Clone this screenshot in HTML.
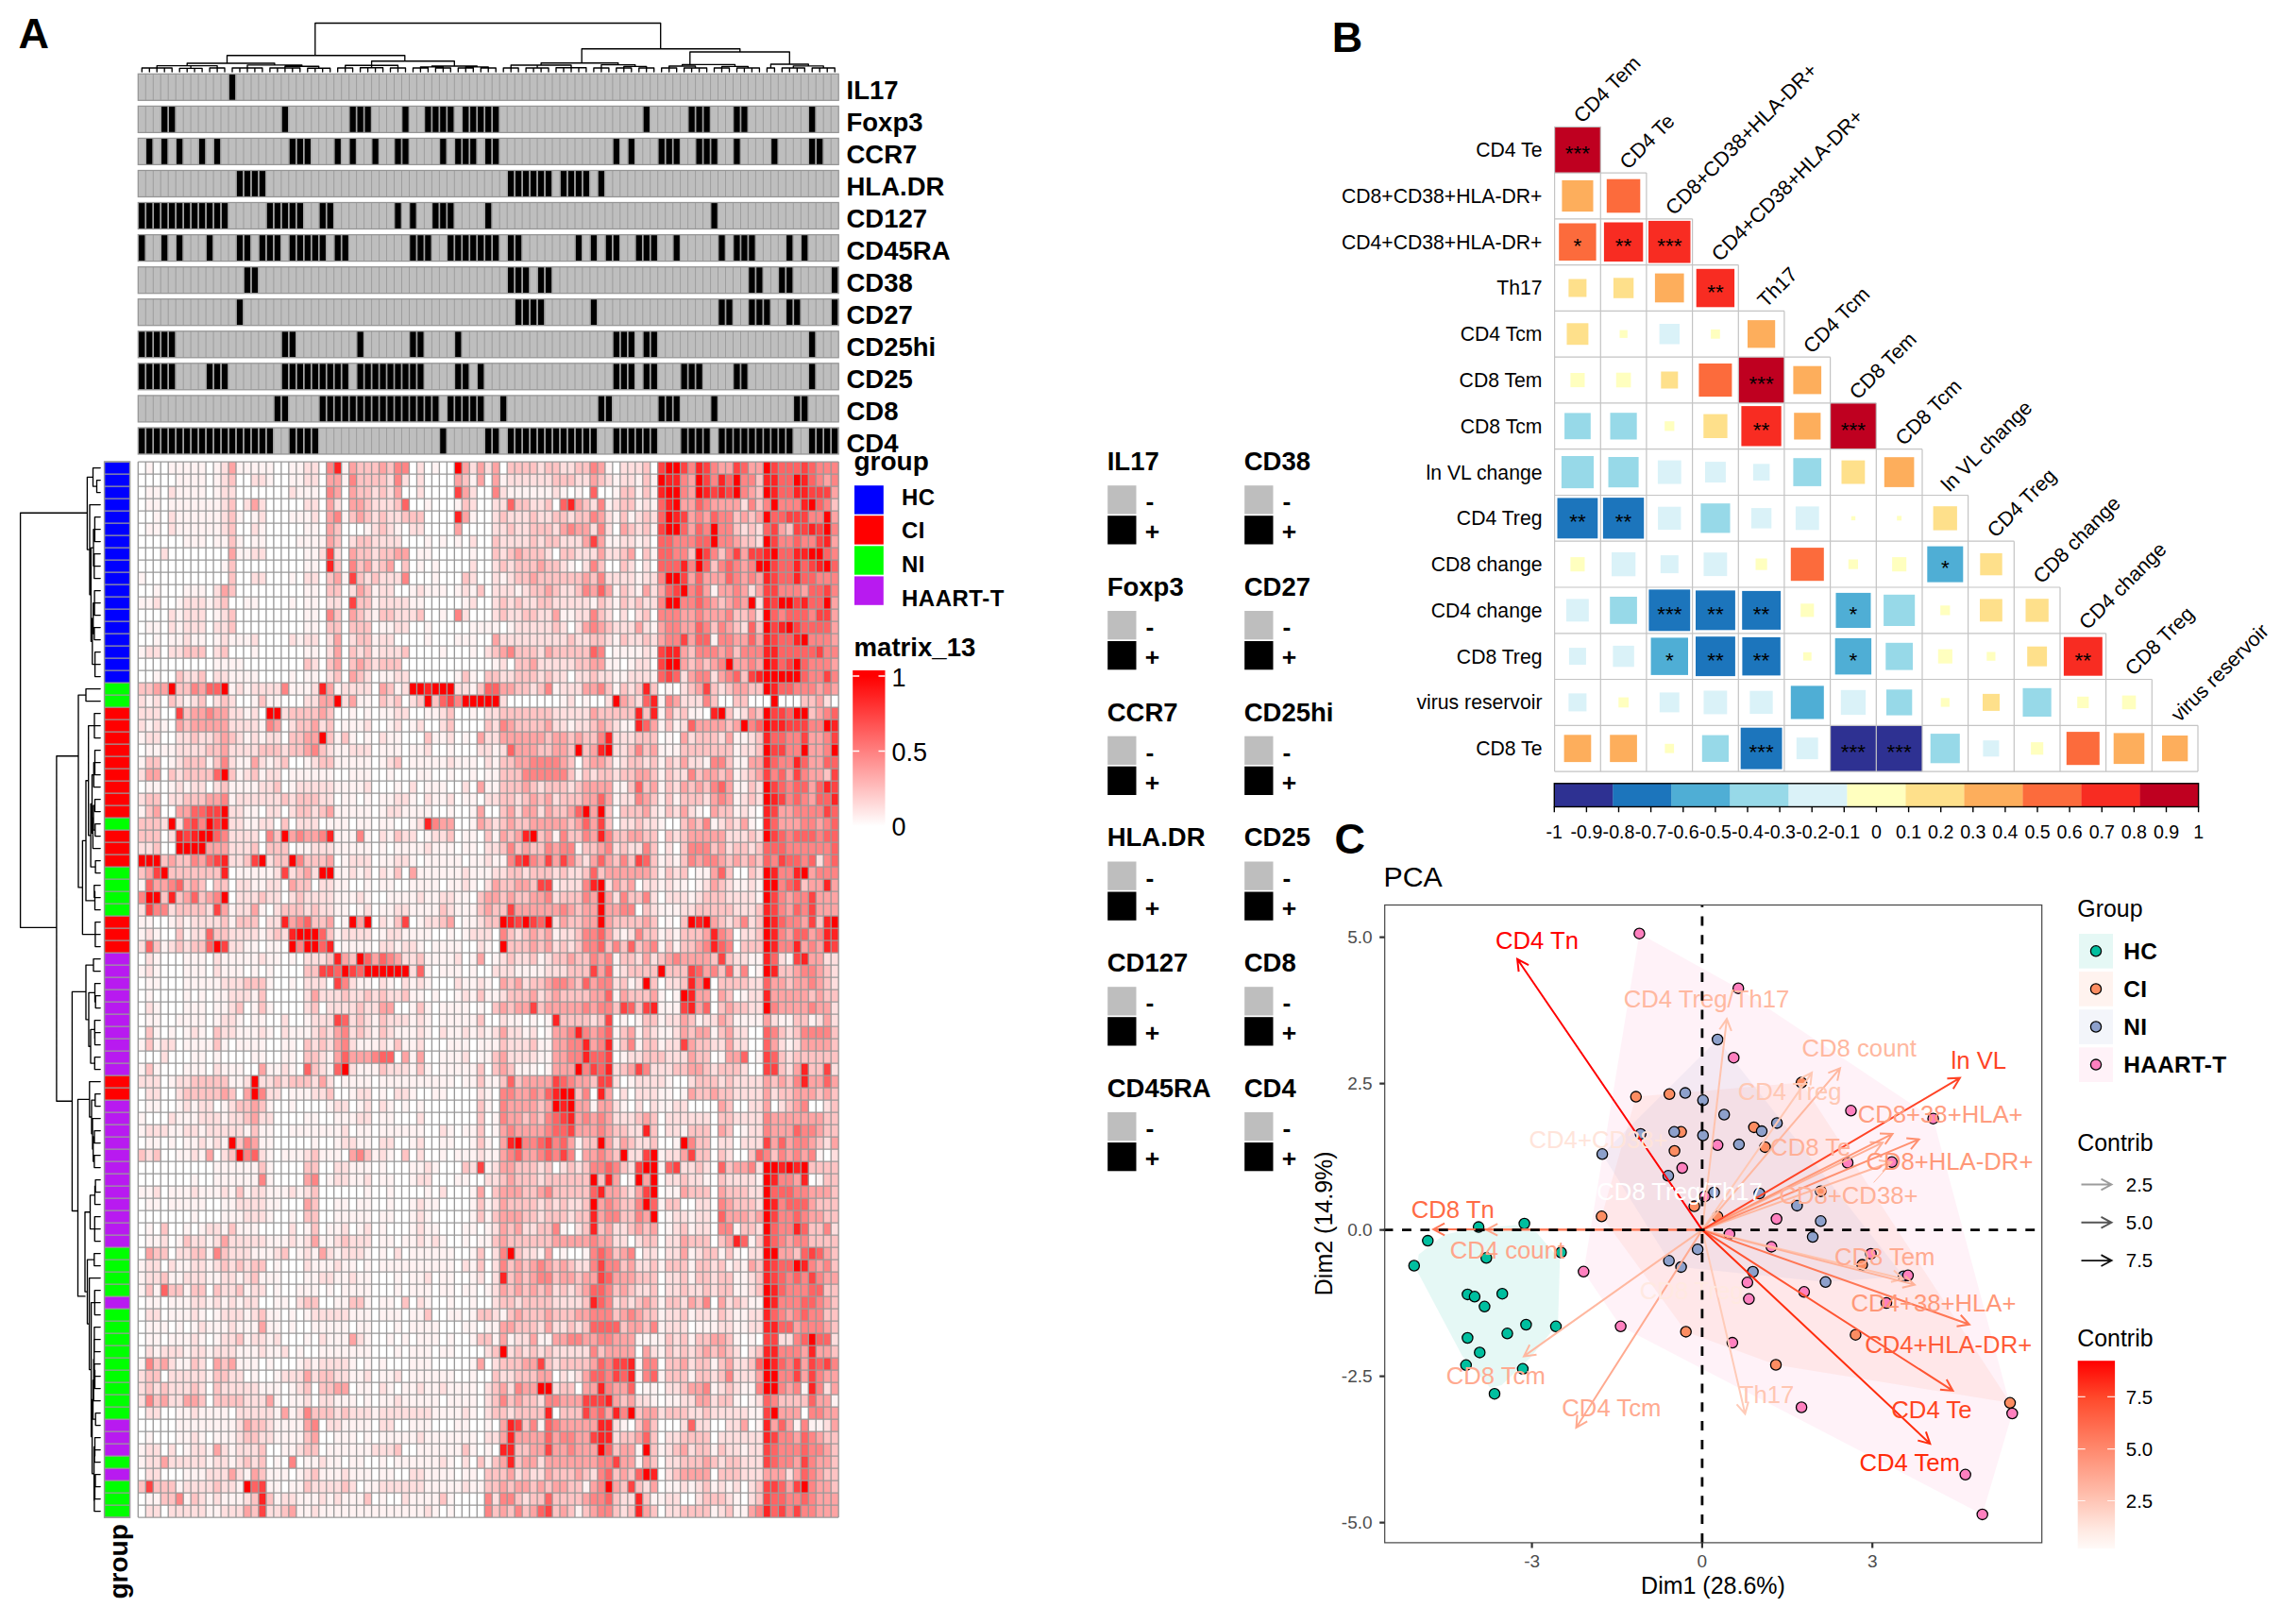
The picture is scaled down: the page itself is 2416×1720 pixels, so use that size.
<!DOCTYPE html>
<html><head><meta charset="utf-8"><title>Figure</title><style>html,body{margin:0;padding:0;background:#fff}svg{display:block}</style></head><body>
<svg width="2416" height="1720" viewBox="0 0 2416 1720" font-family='"Liberation Sans", Arial, Helvetica, sans-serif'>
<rect width="2416" height="1720" fill="#fff"/>
<g font-weight="bold" font-size="45px" fill="#000">
<text x="19.4" y="50.9">A</text><text x="1410.8" y="55.2">B</text><text x="1413.4" y="904">C</text></g>
<g id="ann">
<rect x="146.3" y="78.3" width="741.9" height="28.0" fill="#bebebe"/>
<path d="M242.82 78.6h6.38v27.4h-6.38z" fill="#000"/>
<rect x="146.3" y="112.4" width="741.9" height="28.0" fill="#bebebe"/>
<path d="M171.03 112.7h6.38v27.4h-6.38zM179.01 112.7h6.38v27.4h-6.38zM298.66 112.7h6.38v27.4h-6.38zM370.46 112.7h6.38v27.4h-6.38zM378.43 112.7h6.38v27.4h-6.38zM386.41 112.7h6.38v27.4h-6.38zM426.30 112.7h6.38v27.4h-6.38zM450.23 112.7h6.38v27.4h-6.38zM458.20 112.7h6.38v27.4h-6.38zM466.18 112.7h6.38v27.4h-6.38zM474.16 112.7h6.38v27.4h-6.38zM490.11 112.7h6.38v27.4h-6.38zM498.09 112.7h6.38v27.4h-6.38zM506.07 112.7h6.38v27.4h-6.38zM514.04 112.7h6.38v27.4h-6.38zM522.02 112.7h6.38v27.4h-6.38zM681.56 112.7h6.38v27.4h-6.38zM729.42 112.7h6.38v27.4h-6.38zM737.40 112.7h6.38v27.4h-6.38zM745.38 112.7h6.38v27.4h-6.38zM777.28 112.7h6.38v27.4h-6.38zM785.26 112.7h6.38v27.4h-6.38zM857.05 112.7h6.38v27.4h-6.38z" fill="#000"/>
<rect x="146.3" y="146.4" width="741.9" height="28.0" fill="#bebebe"/>
<path d="M155.08 146.7h6.38v27.4h-6.38zM171.03 146.7h6.38v27.4h-6.38zM186.99 146.7h6.38v27.4h-6.38zM210.92 146.7h6.38v27.4h-6.38zM226.87 146.7h6.38v27.4h-6.38zM306.64 146.7h6.38v27.4h-6.38zM314.62 146.7h6.38v27.4h-6.38zM322.59 146.7h6.38v27.4h-6.38zM354.50 146.7h6.38v27.4h-6.38zM370.46 146.7h6.38v27.4h-6.38zM394.39 146.7h6.38v27.4h-6.38zM418.32 146.7h6.38v27.4h-6.38zM426.30 146.7h6.38v27.4h-6.38zM466.18 146.7h6.38v27.4h-6.38zM482.13 146.7h6.38v27.4h-6.38zM490.11 146.7h6.38v27.4h-6.38zM498.09 146.7h6.38v27.4h-6.38zM514.04 146.7h6.38v27.4h-6.38zM522.02 146.7h6.38v27.4h-6.38zM649.65 146.7h6.38v27.4h-6.38zM665.61 146.7h6.38v27.4h-6.38zM697.51 146.7h6.38v27.4h-6.38zM705.49 146.7h6.38v27.4h-6.38zM713.47 146.7h6.38v27.4h-6.38zM737.40 146.7h6.38v27.4h-6.38zM745.38 146.7h6.38v27.4h-6.38zM753.35 146.7h6.38v27.4h-6.38zM777.28 146.7h6.38v27.4h-6.38zM817.17 146.7h6.38v27.4h-6.38zM857.05 146.7h6.38v27.4h-6.38zM865.03 146.7h6.38v27.4h-6.38z" fill="#000"/>
<rect x="146.3" y="180.5" width="741.9" height="28.0" fill="#bebebe"/>
<path d="M250.80 180.8h6.38v27.4h-6.38zM258.78 180.8h6.38v27.4h-6.38zM266.76 180.8h6.38v27.4h-6.38zM274.73 180.8h6.38v27.4h-6.38zM537.97 180.8h6.38v27.4h-6.38zM545.95 180.8h6.38v27.4h-6.38zM553.93 180.8h6.38v27.4h-6.38zM561.90 180.8h6.38v27.4h-6.38zM569.88 180.8h6.38v27.4h-6.38zM577.86 180.8h6.38v27.4h-6.38zM593.81 180.8h6.38v27.4h-6.38zM601.79 180.8h6.38v27.4h-6.38zM609.77 180.8h6.38v27.4h-6.38zM617.74 180.8h6.38v27.4h-6.38zM633.70 180.8h6.38v27.4h-6.38z" fill="#000"/>
<rect x="146.3" y="214.5" width="741.9" height="28.0" fill="#bebebe"/>
<path d="M147.10 214.8h6.38v27.4h-6.38zM155.08 214.8h6.38v27.4h-6.38zM163.05 214.8h6.38v27.4h-6.38zM171.03 214.8h6.38v27.4h-6.38zM179.01 214.8h6.38v27.4h-6.38zM186.99 214.8h6.38v27.4h-6.38zM194.96 214.8h6.38v27.4h-6.38zM202.94 214.8h6.38v27.4h-6.38zM210.92 214.8h6.38v27.4h-6.38zM218.89 214.8h6.38v27.4h-6.38zM226.87 214.8h6.38v27.4h-6.38zM234.85 214.8h6.38v27.4h-6.38zM282.71 214.8h6.38v27.4h-6.38zM290.69 214.8h6.38v27.4h-6.38zM298.66 214.8h6.38v27.4h-6.38zM306.64 214.8h6.38v27.4h-6.38zM314.62 214.8h6.38v27.4h-6.38zM338.55 214.8h6.38v27.4h-6.38zM346.53 214.8h6.38v27.4h-6.38zM418.32 214.8h6.38v27.4h-6.38zM434.27 214.8h6.38v27.4h-6.38zM458.20 214.8h6.38v27.4h-6.38zM466.18 214.8h6.38v27.4h-6.38zM474.16 214.8h6.38v27.4h-6.38zM514.04 214.8h6.38v27.4h-6.38zM753.35 214.8h6.38v27.4h-6.38z" fill="#000"/>
<rect x="146.3" y="248.6" width="741.9" height="28.0" fill="#bebebe"/>
<path d="M147.10 248.9h6.38v27.4h-6.38zM171.03 248.9h6.38v27.4h-6.38zM186.99 248.9h6.38v27.4h-6.38zM218.89 248.9h6.38v27.4h-6.38zM250.80 248.9h6.38v27.4h-6.38zM258.78 248.9h6.38v27.4h-6.38zM274.73 248.9h6.38v27.4h-6.38zM282.71 248.9h6.38v27.4h-6.38zM290.69 248.9h6.38v27.4h-6.38zM306.64 248.9h6.38v27.4h-6.38zM314.62 248.9h6.38v27.4h-6.38zM322.59 248.9h6.38v27.4h-6.38zM330.57 248.9h6.38v27.4h-6.38zM338.55 248.9h6.38v27.4h-6.38zM354.50 248.9h6.38v27.4h-6.38zM362.48 248.9h6.38v27.4h-6.38zM434.27 248.9h6.38v27.4h-6.38zM442.25 248.9h6.38v27.4h-6.38zM450.23 248.9h6.38v27.4h-6.38zM474.16 248.9h6.38v27.4h-6.38zM482.13 248.9h6.38v27.4h-6.38zM490.11 248.9h6.38v27.4h-6.38zM498.09 248.9h6.38v27.4h-6.38zM506.07 248.9h6.38v27.4h-6.38zM514.04 248.9h6.38v27.4h-6.38zM522.02 248.9h6.38v27.4h-6.38zM537.97 248.9h6.38v27.4h-6.38zM545.95 248.9h6.38v27.4h-6.38zM609.77 248.9h6.38v27.4h-6.38zM625.72 248.9h6.38v27.4h-6.38zM641.67 248.9h6.38v27.4h-6.38zM649.65 248.9h6.38v27.4h-6.38zM673.58 248.9h6.38v27.4h-6.38zM681.56 248.9h6.38v27.4h-6.38zM689.54 248.9h6.38v27.4h-6.38zM713.47 248.9h6.38v27.4h-6.38zM761.33 248.9h6.38v27.4h-6.38zM777.28 248.9h6.38v27.4h-6.38zM785.26 248.9h6.38v27.4h-6.38zM793.24 248.9h6.38v27.4h-6.38zM833.12 248.9h6.38v27.4h-6.38zM849.08 248.9h6.38v27.4h-6.38z" fill="#000"/>
<rect x="146.3" y="282.7" width="741.9" height="28.0" fill="#bebebe"/>
<path d="M258.78 283.0h6.38v27.4h-6.38zM266.76 283.0h6.38v27.4h-6.38zM537.97 283.0h6.38v27.4h-6.38zM545.95 283.0h6.38v27.4h-6.38zM553.93 283.0h6.38v27.4h-6.38zM569.88 283.0h6.38v27.4h-6.38zM577.86 283.0h6.38v27.4h-6.38zM793.24 283.0h6.38v27.4h-6.38zM801.21 283.0h6.38v27.4h-6.38zM825.14 283.0h6.38v27.4h-6.38zM833.12 283.0h6.38v27.4h-6.38zM880.98 283.0h6.38v27.4h-6.38z" fill="#000"/>
<rect x="146.3" y="316.7" width="741.9" height="28.0" fill="#bebebe"/>
<path d="M250.80 317.0h6.38v27.4h-6.38zM545.95 317.0h6.38v27.4h-6.38zM553.93 317.0h6.38v27.4h-6.38zM561.90 317.0h6.38v27.4h-6.38zM569.88 317.0h6.38v27.4h-6.38zM625.72 317.0h6.38v27.4h-6.38zM761.33 317.0h6.38v27.4h-6.38zM769.31 317.0h6.38v27.4h-6.38zM793.24 317.0h6.38v27.4h-6.38zM801.21 317.0h6.38v27.4h-6.38zM809.19 317.0h6.38v27.4h-6.38zM833.12 317.0h6.38v27.4h-6.38zM841.10 317.0h6.38v27.4h-6.38zM880.98 317.0h6.38v27.4h-6.38z" fill="#000"/>
<rect x="146.3" y="350.8" width="741.9" height="28.0" fill="#bebebe"/>
<path d="M147.10 351.1h6.38v27.4h-6.38zM155.08 351.1h6.38v27.4h-6.38zM163.05 351.1h6.38v27.4h-6.38zM171.03 351.1h6.38v27.4h-6.38zM179.01 351.1h6.38v27.4h-6.38zM298.66 351.1h6.38v27.4h-6.38zM306.64 351.1h6.38v27.4h-6.38zM378.43 351.1h6.38v27.4h-6.38zM434.27 351.1h6.38v27.4h-6.38zM442.25 351.1h6.38v27.4h-6.38zM482.13 351.1h6.38v27.4h-6.38zM649.65 351.1h6.38v27.4h-6.38zM657.63 351.1h6.38v27.4h-6.38zM665.61 351.1h6.38v27.4h-6.38zM681.56 351.1h6.38v27.4h-6.38zM689.54 351.1h6.38v27.4h-6.38zM857.05 351.1h6.38v27.4h-6.38z" fill="#000"/>
<rect x="146.3" y="384.8" width="741.9" height="28.0" fill="#bebebe"/>
<path d="M147.10 385.1h6.38v27.4h-6.38zM155.08 385.1h6.38v27.4h-6.38zM163.05 385.1h6.38v27.4h-6.38zM171.03 385.1h6.38v27.4h-6.38zM179.01 385.1h6.38v27.4h-6.38zM218.89 385.1h6.38v27.4h-6.38zM226.87 385.1h6.38v27.4h-6.38zM234.85 385.1h6.38v27.4h-6.38zM298.66 385.1h6.38v27.4h-6.38zM306.64 385.1h6.38v27.4h-6.38zM314.62 385.1h6.38v27.4h-6.38zM322.59 385.1h6.38v27.4h-6.38zM330.57 385.1h6.38v27.4h-6.38zM338.55 385.1h6.38v27.4h-6.38zM346.53 385.1h6.38v27.4h-6.38zM354.50 385.1h6.38v27.4h-6.38zM362.48 385.1h6.38v27.4h-6.38zM378.43 385.1h6.38v27.4h-6.38zM386.41 385.1h6.38v27.4h-6.38zM394.39 385.1h6.38v27.4h-6.38zM402.36 385.1h6.38v27.4h-6.38zM410.34 385.1h6.38v27.4h-6.38zM418.32 385.1h6.38v27.4h-6.38zM426.30 385.1h6.38v27.4h-6.38zM434.27 385.1h6.38v27.4h-6.38zM442.25 385.1h6.38v27.4h-6.38zM482.13 385.1h6.38v27.4h-6.38zM490.11 385.1h6.38v27.4h-6.38zM506.07 385.1h6.38v27.4h-6.38zM649.65 385.1h6.38v27.4h-6.38zM657.63 385.1h6.38v27.4h-6.38zM665.61 385.1h6.38v27.4h-6.38zM681.56 385.1h6.38v27.4h-6.38zM689.54 385.1h6.38v27.4h-6.38zM721.44 385.1h6.38v27.4h-6.38zM729.42 385.1h6.38v27.4h-6.38zM737.40 385.1h6.38v27.4h-6.38zM777.28 385.1h6.38v27.4h-6.38zM785.26 385.1h6.38v27.4h-6.38zM857.05 385.1h6.38v27.4h-6.38z" fill="#000"/>
<rect x="146.3" y="418.9" width="741.9" height="28.0" fill="#bebebe"/>
<path d="M290.69 419.2h6.38v27.4h-6.38zM298.66 419.2h6.38v27.4h-6.38zM338.55 419.2h6.38v27.4h-6.38zM346.53 419.2h6.38v27.4h-6.38zM354.50 419.2h6.38v27.4h-6.38zM362.48 419.2h6.38v27.4h-6.38zM370.46 419.2h6.38v27.4h-6.38zM378.43 419.2h6.38v27.4h-6.38zM386.41 419.2h6.38v27.4h-6.38zM394.39 419.2h6.38v27.4h-6.38zM402.36 419.2h6.38v27.4h-6.38zM410.34 419.2h6.38v27.4h-6.38zM418.32 419.2h6.38v27.4h-6.38zM426.30 419.2h6.38v27.4h-6.38zM434.27 419.2h6.38v27.4h-6.38zM442.25 419.2h6.38v27.4h-6.38zM450.23 419.2h6.38v27.4h-6.38zM458.20 419.2h6.38v27.4h-6.38zM474.16 419.2h6.38v27.4h-6.38zM482.13 419.2h6.38v27.4h-6.38zM490.11 419.2h6.38v27.4h-6.38zM498.09 419.2h6.38v27.4h-6.38zM506.07 419.2h6.38v27.4h-6.38zM530.00 419.2h6.38v27.4h-6.38zM633.70 419.2h6.38v27.4h-6.38zM641.67 419.2h6.38v27.4h-6.38zM697.51 419.2h6.38v27.4h-6.38zM705.49 419.2h6.38v27.4h-6.38zM713.47 419.2h6.38v27.4h-6.38zM753.35 419.2h6.38v27.4h-6.38zM841.10 419.2h6.38v27.4h-6.38zM849.08 419.2h6.38v27.4h-6.38z" fill="#000"/>
<rect x="146.3" y="453.0" width="741.9" height="28.0" fill="#bebebe"/>
<path d="M147.10 453.3h6.38v27.4h-6.38zM155.08 453.3h6.38v27.4h-6.38zM163.05 453.3h6.38v27.4h-6.38zM171.03 453.3h6.38v27.4h-6.38zM179.01 453.3h6.38v27.4h-6.38zM186.99 453.3h6.38v27.4h-6.38zM194.96 453.3h6.38v27.4h-6.38zM202.94 453.3h6.38v27.4h-6.38zM210.92 453.3h6.38v27.4h-6.38zM218.89 453.3h6.38v27.4h-6.38zM226.87 453.3h6.38v27.4h-6.38zM234.85 453.3h6.38v27.4h-6.38zM242.82 453.3h6.38v27.4h-6.38zM250.80 453.3h6.38v27.4h-6.38zM258.78 453.3h6.38v27.4h-6.38zM266.76 453.3h6.38v27.4h-6.38zM274.73 453.3h6.38v27.4h-6.38zM282.71 453.3h6.38v27.4h-6.38zM306.64 453.3h6.38v27.4h-6.38zM314.62 453.3h6.38v27.4h-6.38zM322.59 453.3h6.38v27.4h-6.38zM330.57 453.3h6.38v27.4h-6.38zM466.18 453.3h6.38v27.4h-6.38zM514.04 453.3h6.38v27.4h-6.38zM522.02 453.3h6.38v27.4h-6.38zM537.97 453.3h6.38v27.4h-6.38zM545.95 453.3h6.38v27.4h-6.38zM553.93 453.3h6.38v27.4h-6.38zM561.90 453.3h6.38v27.4h-6.38zM569.88 453.3h6.38v27.4h-6.38zM577.86 453.3h6.38v27.4h-6.38zM585.84 453.3h6.38v27.4h-6.38zM593.81 453.3h6.38v27.4h-6.38zM601.79 453.3h6.38v27.4h-6.38zM609.77 453.3h6.38v27.4h-6.38zM617.74 453.3h6.38v27.4h-6.38zM625.72 453.3h6.38v27.4h-6.38zM649.65 453.3h6.38v27.4h-6.38zM657.63 453.3h6.38v27.4h-6.38zM665.61 453.3h6.38v27.4h-6.38zM673.58 453.3h6.38v27.4h-6.38zM681.56 453.3h6.38v27.4h-6.38zM689.54 453.3h6.38v27.4h-6.38zM721.44 453.3h6.38v27.4h-6.38zM729.42 453.3h6.38v27.4h-6.38zM737.40 453.3h6.38v27.4h-6.38zM745.38 453.3h6.38v27.4h-6.38zM761.33 453.3h6.38v27.4h-6.38zM769.31 453.3h6.38v27.4h-6.38zM777.28 453.3h6.38v27.4h-6.38zM785.26 453.3h6.38v27.4h-6.38zM793.24 453.3h6.38v27.4h-6.38zM801.21 453.3h6.38v27.4h-6.38zM809.19 453.3h6.38v27.4h-6.38zM817.17 453.3h6.38v27.4h-6.38zM825.14 453.3h6.38v27.4h-6.38zM833.12 453.3h6.38v27.4h-6.38zM857.05 453.3h6.38v27.4h-6.38zM865.03 453.3h6.38v27.4h-6.38zM873.01 453.3h6.38v27.4h-6.38zM880.98 453.3h6.38v27.4h-6.38z" fill="#000"/>
<path d="M154.3 78.3v28.0M162.3 78.3v28.0M170.2 78.3v28.0M178.2 78.3v28.0M186.2 78.3v28.0M194.2 78.3v28.0M202.1 78.3v28.0M210.1 78.3v28.0M218.1 78.3v28.0M226.1 78.3v28.0M234.0 78.3v28.0M242.0 78.3v28.0M250.0 78.3v28.0M258.0 78.3v28.0M266.0 78.3v28.0M273.9 78.3v28.0M281.9 78.3v28.0M289.9 78.3v28.0M297.9 78.3v28.0M305.8 78.3v28.0M313.8 78.3v28.0M321.8 78.3v28.0M329.8 78.3v28.0M337.7 78.3v28.0M345.7 78.3v28.0M353.7 78.3v28.0M361.7 78.3v28.0M369.7 78.3v28.0M377.6 78.3v28.0M385.6 78.3v28.0M393.6 78.3v28.0M401.6 78.3v28.0M409.5 78.3v28.0M417.5 78.3v28.0M425.5 78.3v28.0M433.5 78.3v28.0M441.4 78.3v28.0M449.4 78.3v28.0M457.4 78.3v28.0M465.4 78.3v28.0M473.4 78.3v28.0M481.3 78.3v28.0M489.3 78.3v28.0M497.3 78.3v28.0M505.3 78.3v28.0M513.2 78.3v28.0M521.2 78.3v28.0M529.2 78.3v28.0M537.2 78.3v28.0M545.2 78.3v28.0M553.1 78.3v28.0M561.1 78.3v28.0M569.1 78.3v28.0M577.1 78.3v28.0M585.0 78.3v28.0M593.0 78.3v28.0M601.0 78.3v28.0M609.0 78.3v28.0M616.9 78.3v28.0M624.9 78.3v28.0M632.9 78.3v28.0M640.9 78.3v28.0M648.9 78.3v28.0M656.8 78.3v28.0M664.8 78.3v28.0M672.8 78.3v28.0M680.8 78.3v28.0M688.7 78.3v28.0M696.7 78.3v28.0M704.7 78.3v28.0M712.7 78.3v28.0M720.6 78.3v28.0M728.6 78.3v28.0M736.6 78.3v28.0M744.6 78.3v28.0M752.6 78.3v28.0M760.5 78.3v28.0M768.5 78.3v28.0M776.5 78.3v28.0M784.5 78.3v28.0M792.4 78.3v28.0M800.4 78.3v28.0M808.4 78.3v28.0M816.4 78.3v28.0M824.3 78.3v28.0M832.3 78.3v28.0M840.3 78.3v28.0M848.3 78.3v28.0M856.3 78.3v28.0M864.2 78.3v28.0M872.2 78.3v28.0M880.2 78.3v28.0M154.3 112.4v28.0M162.3 112.4v28.0M170.2 112.4v28.0M178.2 112.4v28.0M186.2 112.4v28.0M194.2 112.4v28.0M202.1 112.4v28.0M210.1 112.4v28.0M218.1 112.4v28.0M226.1 112.4v28.0M234.0 112.4v28.0M242.0 112.4v28.0M250.0 112.4v28.0M258.0 112.4v28.0M266.0 112.4v28.0M273.9 112.4v28.0M281.9 112.4v28.0M289.9 112.4v28.0M297.9 112.4v28.0M305.8 112.4v28.0M313.8 112.4v28.0M321.8 112.4v28.0M329.8 112.4v28.0M337.7 112.4v28.0M345.7 112.4v28.0M353.7 112.4v28.0M361.7 112.4v28.0M369.7 112.4v28.0M377.6 112.4v28.0M385.6 112.4v28.0M393.6 112.4v28.0M401.6 112.4v28.0M409.5 112.4v28.0M417.5 112.4v28.0M425.5 112.4v28.0M433.5 112.4v28.0M441.4 112.4v28.0M449.4 112.4v28.0M457.4 112.4v28.0M465.4 112.4v28.0M473.4 112.4v28.0M481.3 112.4v28.0M489.3 112.4v28.0M497.3 112.4v28.0M505.3 112.4v28.0M513.2 112.4v28.0M521.2 112.4v28.0M529.2 112.4v28.0M537.2 112.4v28.0M545.2 112.4v28.0M553.1 112.4v28.0M561.1 112.4v28.0M569.1 112.4v28.0M577.1 112.4v28.0M585.0 112.4v28.0M593.0 112.4v28.0M601.0 112.4v28.0M609.0 112.4v28.0M616.9 112.4v28.0M624.9 112.4v28.0M632.9 112.4v28.0M640.9 112.4v28.0M648.9 112.4v28.0M656.8 112.4v28.0M664.8 112.4v28.0M672.8 112.4v28.0M680.8 112.4v28.0M688.7 112.4v28.0M696.7 112.4v28.0M704.7 112.4v28.0M712.7 112.4v28.0M720.6 112.4v28.0M728.6 112.4v28.0M736.6 112.4v28.0M744.6 112.4v28.0M752.6 112.4v28.0M760.5 112.4v28.0M768.5 112.4v28.0M776.5 112.4v28.0M784.5 112.4v28.0M792.4 112.4v28.0M800.4 112.4v28.0M808.4 112.4v28.0M816.4 112.4v28.0M824.3 112.4v28.0M832.3 112.4v28.0M840.3 112.4v28.0M848.3 112.4v28.0M856.3 112.4v28.0M864.2 112.4v28.0M872.2 112.4v28.0M880.2 112.4v28.0M154.3 146.4v28.0M162.3 146.4v28.0M170.2 146.4v28.0M178.2 146.4v28.0M186.2 146.4v28.0M194.2 146.4v28.0M202.1 146.4v28.0M210.1 146.4v28.0M218.1 146.4v28.0M226.1 146.4v28.0M234.0 146.4v28.0M242.0 146.4v28.0M250.0 146.4v28.0M258.0 146.4v28.0M266.0 146.4v28.0M273.9 146.4v28.0M281.9 146.4v28.0M289.9 146.4v28.0M297.9 146.4v28.0M305.8 146.4v28.0M313.8 146.4v28.0M321.8 146.4v28.0M329.8 146.4v28.0M337.7 146.4v28.0M345.7 146.4v28.0M353.7 146.4v28.0M361.7 146.4v28.0M369.7 146.4v28.0M377.6 146.4v28.0M385.6 146.4v28.0M393.6 146.4v28.0M401.6 146.4v28.0M409.5 146.4v28.0M417.5 146.4v28.0M425.5 146.4v28.0M433.5 146.4v28.0M441.4 146.4v28.0M449.4 146.4v28.0M457.4 146.4v28.0M465.4 146.4v28.0M473.4 146.4v28.0M481.3 146.4v28.0M489.3 146.4v28.0M497.3 146.4v28.0M505.3 146.4v28.0M513.2 146.4v28.0M521.2 146.4v28.0M529.2 146.4v28.0M537.2 146.4v28.0M545.2 146.4v28.0M553.1 146.4v28.0M561.1 146.4v28.0M569.1 146.4v28.0M577.1 146.4v28.0M585.0 146.4v28.0M593.0 146.4v28.0M601.0 146.4v28.0M609.0 146.4v28.0M616.9 146.4v28.0M624.9 146.4v28.0M632.9 146.4v28.0M640.9 146.4v28.0M648.9 146.4v28.0M656.8 146.4v28.0M664.8 146.4v28.0M672.8 146.4v28.0M680.8 146.4v28.0M688.7 146.4v28.0M696.7 146.4v28.0M704.7 146.4v28.0M712.7 146.4v28.0M720.6 146.4v28.0M728.6 146.4v28.0M736.6 146.4v28.0M744.6 146.4v28.0M752.6 146.4v28.0M760.5 146.4v28.0M768.5 146.4v28.0M776.5 146.4v28.0M784.5 146.4v28.0M792.4 146.4v28.0M800.4 146.4v28.0M808.4 146.4v28.0M816.4 146.4v28.0M824.3 146.4v28.0M832.3 146.4v28.0M840.3 146.4v28.0M848.3 146.4v28.0M856.3 146.4v28.0M864.2 146.4v28.0M872.2 146.4v28.0M880.2 146.4v28.0M154.3 180.5v28.0M162.3 180.5v28.0M170.2 180.5v28.0M178.2 180.5v28.0M186.2 180.5v28.0M194.2 180.5v28.0M202.1 180.5v28.0M210.1 180.5v28.0M218.1 180.5v28.0M226.1 180.5v28.0M234.0 180.5v28.0M242.0 180.5v28.0M250.0 180.5v28.0M258.0 180.5v28.0M266.0 180.5v28.0M273.9 180.5v28.0M281.9 180.5v28.0M289.9 180.5v28.0M297.9 180.5v28.0M305.8 180.5v28.0M313.8 180.5v28.0M321.8 180.5v28.0M329.8 180.5v28.0M337.7 180.5v28.0M345.7 180.5v28.0M353.7 180.5v28.0M361.7 180.5v28.0M369.7 180.5v28.0M377.6 180.5v28.0M385.6 180.5v28.0M393.6 180.5v28.0M401.6 180.5v28.0M409.5 180.5v28.0M417.5 180.5v28.0M425.5 180.5v28.0M433.5 180.5v28.0M441.4 180.5v28.0M449.4 180.5v28.0M457.4 180.5v28.0M465.4 180.5v28.0M473.4 180.5v28.0M481.3 180.5v28.0M489.3 180.5v28.0M497.3 180.5v28.0M505.3 180.5v28.0M513.2 180.5v28.0M521.2 180.5v28.0M529.2 180.5v28.0M537.2 180.5v28.0M545.2 180.5v28.0M553.1 180.5v28.0M561.1 180.5v28.0M569.1 180.5v28.0M577.1 180.5v28.0M585.0 180.5v28.0M593.0 180.5v28.0M601.0 180.5v28.0M609.0 180.5v28.0M616.9 180.5v28.0M624.9 180.5v28.0M632.9 180.5v28.0M640.9 180.5v28.0M648.9 180.5v28.0M656.8 180.5v28.0M664.8 180.5v28.0M672.8 180.5v28.0M680.8 180.5v28.0M688.7 180.5v28.0M696.7 180.5v28.0M704.7 180.5v28.0M712.7 180.5v28.0M720.6 180.5v28.0M728.6 180.5v28.0M736.6 180.5v28.0M744.6 180.5v28.0M752.6 180.5v28.0M760.5 180.5v28.0M768.5 180.5v28.0M776.5 180.5v28.0M784.5 180.5v28.0M792.4 180.5v28.0M800.4 180.5v28.0M808.4 180.5v28.0M816.4 180.5v28.0M824.3 180.5v28.0M832.3 180.5v28.0M840.3 180.5v28.0M848.3 180.5v28.0M856.3 180.5v28.0M864.2 180.5v28.0M872.2 180.5v28.0M880.2 180.5v28.0M154.3 214.5v28.0M162.3 214.5v28.0M170.2 214.5v28.0M178.2 214.5v28.0M186.2 214.5v28.0M194.2 214.5v28.0M202.1 214.5v28.0M210.1 214.5v28.0M218.1 214.5v28.0M226.1 214.5v28.0M234.0 214.5v28.0M242.0 214.5v28.0M250.0 214.5v28.0M258.0 214.5v28.0M266.0 214.5v28.0M273.9 214.5v28.0M281.9 214.5v28.0M289.9 214.5v28.0M297.9 214.5v28.0M305.8 214.5v28.0M313.8 214.5v28.0M321.8 214.5v28.0M329.8 214.5v28.0M337.7 214.5v28.0M345.7 214.5v28.0M353.7 214.5v28.0M361.7 214.5v28.0M369.7 214.5v28.0M377.6 214.5v28.0M385.6 214.5v28.0M393.6 214.5v28.0M401.6 214.5v28.0M409.5 214.5v28.0M417.5 214.5v28.0M425.5 214.5v28.0M433.5 214.5v28.0M441.4 214.5v28.0M449.4 214.5v28.0M457.4 214.5v28.0M465.4 214.5v28.0M473.4 214.5v28.0M481.3 214.5v28.0M489.3 214.5v28.0M497.3 214.5v28.0M505.3 214.5v28.0M513.2 214.5v28.0M521.2 214.5v28.0M529.2 214.5v28.0M537.2 214.5v28.0M545.2 214.5v28.0M553.1 214.5v28.0M561.1 214.5v28.0M569.1 214.5v28.0M577.1 214.5v28.0M585.0 214.5v28.0M593.0 214.5v28.0M601.0 214.5v28.0M609.0 214.5v28.0M616.9 214.5v28.0M624.9 214.5v28.0M632.9 214.5v28.0M640.9 214.5v28.0M648.9 214.5v28.0M656.8 214.5v28.0M664.8 214.5v28.0M672.8 214.5v28.0M680.8 214.5v28.0M688.7 214.5v28.0M696.7 214.5v28.0M704.7 214.5v28.0M712.7 214.5v28.0M720.6 214.5v28.0M728.6 214.5v28.0M736.6 214.5v28.0M744.6 214.5v28.0M752.6 214.5v28.0M760.5 214.5v28.0M768.5 214.5v28.0M776.5 214.5v28.0M784.5 214.5v28.0M792.4 214.5v28.0M800.4 214.5v28.0M808.4 214.5v28.0M816.4 214.5v28.0M824.3 214.5v28.0M832.3 214.5v28.0M840.3 214.5v28.0M848.3 214.5v28.0M856.3 214.5v28.0M864.2 214.5v28.0M872.2 214.5v28.0M880.2 214.5v28.0M154.3 248.6v28.0M162.3 248.6v28.0M170.2 248.6v28.0M178.2 248.6v28.0M186.2 248.6v28.0M194.2 248.6v28.0M202.1 248.6v28.0M210.1 248.6v28.0M218.1 248.6v28.0M226.1 248.6v28.0M234.0 248.6v28.0M242.0 248.6v28.0M250.0 248.6v28.0M258.0 248.6v28.0M266.0 248.6v28.0M273.9 248.6v28.0M281.9 248.6v28.0M289.9 248.6v28.0M297.9 248.6v28.0M305.8 248.6v28.0M313.8 248.6v28.0M321.8 248.6v28.0M329.8 248.6v28.0M337.7 248.6v28.0M345.7 248.6v28.0M353.7 248.6v28.0M361.7 248.6v28.0M369.7 248.6v28.0M377.6 248.6v28.0M385.6 248.6v28.0M393.6 248.6v28.0M401.6 248.6v28.0M409.5 248.6v28.0M417.5 248.6v28.0M425.5 248.6v28.0M433.5 248.6v28.0M441.4 248.6v28.0M449.4 248.6v28.0M457.4 248.6v28.0M465.4 248.6v28.0M473.4 248.6v28.0M481.3 248.6v28.0M489.3 248.6v28.0M497.3 248.6v28.0M505.3 248.6v28.0M513.2 248.6v28.0M521.2 248.6v28.0M529.2 248.6v28.0M537.2 248.6v28.0M545.2 248.6v28.0M553.1 248.6v28.0M561.1 248.6v28.0M569.1 248.6v28.0M577.1 248.6v28.0M585.0 248.6v28.0M593.0 248.6v28.0M601.0 248.6v28.0M609.0 248.6v28.0M616.9 248.6v28.0M624.9 248.6v28.0M632.9 248.6v28.0M640.9 248.6v28.0M648.9 248.6v28.0M656.8 248.6v28.0M664.8 248.6v28.0M672.8 248.6v28.0M680.8 248.6v28.0M688.7 248.6v28.0M696.7 248.6v28.0M704.7 248.6v28.0M712.7 248.6v28.0M720.6 248.6v28.0M728.6 248.6v28.0M736.6 248.6v28.0M744.6 248.6v28.0M752.6 248.6v28.0M760.5 248.6v28.0M768.5 248.6v28.0M776.5 248.6v28.0M784.5 248.6v28.0M792.4 248.6v28.0M800.4 248.6v28.0M808.4 248.6v28.0M816.4 248.6v28.0M824.3 248.6v28.0M832.3 248.6v28.0M840.3 248.6v28.0M848.3 248.6v28.0M856.3 248.6v28.0M864.2 248.6v28.0M872.2 248.6v28.0M880.2 248.6v28.0M154.3 282.7v28.0M162.3 282.7v28.0M170.2 282.7v28.0M178.2 282.7v28.0M186.2 282.7v28.0M194.2 282.7v28.0M202.1 282.7v28.0M210.1 282.7v28.0M218.1 282.7v28.0M226.1 282.7v28.0M234.0 282.7v28.0M242.0 282.7v28.0M250.0 282.7v28.0M258.0 282.7v28.0M266.0 282.7v28.0M273.9 282.7v28.0M281.9 282.7v28.0M289.9 282.7v28.0M297.9 282.7v28.0M305.8 282.7v28.0M313.8 282.7v28.0M321.8 282.7v28.0M329.8 282.7v28.0M337.7 282.7v28.0M345.7 282.7v28.0M353.7 282.7v28.0M361.7 282.7v28.0M369.7 282.7v28.0M377.6 282.7v28.0M385.6 282.7v28.0M393.6 282.7v28.0M401.6 282.7v28.0M409.5 282.7v28.0M417.5 282.7v28.0M425.5 282.7v28.0M433.5 282.7v28.0M441.4 282.7v28.0M449.4 282.7v28.0M457.4 282.7v28.0M465.4 282.7v28.0M473.4 282.7v28.0M481.3 282.7v28.0M489.3 282.7v28.0M497.3 282.7v28.0M505.3 282.7v28.0M513.2 282.7v28.0M521.2 282.7v28.0M529.2 282.7v28.0M537.2 282.7v28.0M545.2 282.7v28.0M553.1 282.7v28.0M561.1 282.7v28.0M569.1 282.7v28.0M577.1 282.7v28.0M585.0 282.7v28.0M593.0 282.7v28.0M601.0 282.7v28.0M609.0 282.7v28.0M616.9 282.7v28.0M624.9 282.7v28.0M632.9 282.7v28.0M640.9 282.7v28.0M648.9 282.7v28.0M656.8 282.7v28.0M664.8 282.7v28.0M672.8 282.7v28.0M680.8 282.7v28.0M688.7 282.7v28.0M696.7 282.7v28.0M704.7 282.7v28.0M712.7 282.7v28.0M720.6 282.7v28.0M728.6 282.7v28.0M736.6 282.7v28.0M744.6 282.7v28.0M752.6 282.7v28.0M760.5 282.7v28.0M768.5 282.7v28.0M776.5 282.7v28.0M784.5 282.7v28.0M792.4 282.7v28.0M800.4 282.7v28.0M808.4 282.7v28.0M816.4 282.7v28.0M824.3 282.7v28.0M832.3 282.7v28.0M840.3 282.7v28.0M848.3 282.7v28.0M856.3 282.7v28.0M864.2 282.7v28.0M872.2 282.7v28.0M880.2 282.7v28.0M154.3 316.7v28.0M162.3 316.7v28.0M170.2 316.7v28.0M178.2 316.7v28.0M186.2 316.7v28.0M194.2 316.7v28.0M202.1 316.7v28.0M210.1 316.7v28.0M218.1 316.7v28.0M226.1 316.7v28.0M234.0 316.7v28.0M242.0 316.7v28.0M250.0 316.7v28.0M258.0 316.7v28.0M266.0 316.7v28.0M273.9 316.7v28.0M281.9 316.7v28.0M289.9 316.7v28.0M297.9 316.7v28.0M305.8 316.7v28.0M313.8 316.7v28.0M321.8 316.7v28.0M329.8 316.7v28.0M337.7 316.7v28.0M345.7 316.7v28.0M353.7 316.7v28.0M361.7 316.7v28.0M369.7 316.7v28.0M377.6 316.7v28.0M385.6 316.7v28.0M393.6 316.7v28.0M401.6 316.7v28.0M409.5 316.7v28.0M417.5 316.7v28.0M425.5 316.7v28.0M433.5 316.7v28.0M441.4 316.7v28.0M449.4 316.7v28.0M457.4 316.7v28.0M465.4 316.7v28.0M473.4 316.7v28.0M481.3 316.7v28.0M489.3 316.7v28.0M497.3 316.7v28.0M505.3 316.7v28.0M513.2 316.7v28.0M521.2 316.7v28.0M529.2 316.7v28.0M537.2 316.7v28.0M545.2 316.7v28.0M553.1 316.7v28.0M561.1 316.7v28.0M569.1 316.7v28.0M577.1 316.7v28.0M585.0 316.7v28.0M593.0 316.7v28.0M601.0 316.7v28.0M609.0 316.7v28.0M616.9 316.7v28.0M624.9 316.7v28.0M632.9 316.7v28.0M640.9 316.7v28.0M648.9 316.7v28.0M656.8 316.7v28.0M664.8 316.7v28.0M672.8 316.7v28.0M680.8 316.7v28.0M688.7 316.7v28.0M696.7 316.7v28.0M704.7 316.7v28.0M712.7 316.7v28.0M720.6 316.7v28.0M728.6 316.7v28.0M736.6 316.7v28.0M744.6 316.7v28.0M752.6 316.7v28.0M760.5 316.7v28.0M768.5 316.7v28.0M776.5 316.7v28.0M784.5 316.7v28.0M792.4 316.7v28.0M800.4 316.7v28.0M808.4 316.7v28.0M816.4 316.7v28.0M824.3 316.7v28.0M832.3 316.7v28.0M840.3 316.7v28.0M848.3 316.7v28.0M856.3 316.7v28.0M864.2 316.7v28.0M872.2 316.7v28.0M880.2 316.7v28.0M154.3 350.8v28.0M162.3 350.8v28.0M170.2 350.8v28.0M178.2 350.8v28.0M186.2 350.8v28.0M194.2 350.8v28.0M202.1 350.8v28.0M210.1 350.8v28.0M218.1 350.8v28.0M226.1 350.8v28.0M234.0 350.8v28.0M242.0 350.8v28.0M250.0 350.8v28.0M258.0 350.8v28.0M266.0 350.8v28.0M273.9 350.8v28.0M281.9 350.8v28.0M289.9 350.8v28.0M297.9 350.8v28.0M305.8 350.8v28.0M313.8 350.8v28.0M321.8 350.8v28.0M329.8 350.8v28.0M337.7 350.8v28.0M345.7 350.8v28.0M353.7 350.8v28.0M361.7 350.8v28.0M369.7 350.8v28.0M377.6 350.8v28.0M385.6 350.8v28.0M393.6 350.8v28.0M401.6 350.8v28.0M409.5 350.8v28.0M417.5 350.8v28.0M425.5 350.8v28.0M433.5 350.8v28.0M441.4 350.8v28.0M449.4 350.8v28.0M457.4 350.8v28.0M465.4 350.8v28.0M473.4 350.8v28.0M481.3 350.8v28.0M489.3 350.8v28.0M497.3 350.8v28.0M505.3 350.8v28.0M513.2 350.8v28.0M521.2 350.8v28.0M529.2 350.8v28.0M537.2 350.8v28.0M545.2 350.8v28.0M553.1 350.8v28.0M561.1 350.8v28.0M569.1 350.8v28.0M577.1 350.8v28.0M585.0 350.8v28.0M593.0 350.8v28.0M601.0 350.8v28.0M609.0 350.8v28.0M616.9 350.8v28.0M624.9 350.8v28.0M632.9 350.8v28.0M640.9 350.8v28.0M648.9 350.8v28.0M656.8 350.8v28.0M664.8 350.8v28.0M672.8 350.8v28.0M680.8 350.8v28.0M688.7 350.8v28.0M696.7 350.8v28.0M704.7 350.8v28.0M712.7 350.8v28.0M720.6 350.8v28.0M728.6 350.8v28.0M736.6 350.8v28.0M744.6 350.8v28.0M752.6 350.8v28.0M760.5 350.8v28.0M768.5 350.8v28.0M776.5 350.8v28.0M784.5 350.8v28.0M792.4 350.8v28.0M800.4 350.8v28.0M808.4 350.8v28.0M816.4 350.8v28.0M824.3 350.8v28.0M832.3 350.8v28.0M840.3 350.8v28.0M848.3 350.8v28.0M856.3 350.8v28.0M864.2 350.8v28.0M872.2 350.8v28.0M880.2 350.8v28.0M154.3 384.8v28.0M162.3 384.8v28.0M170.2 384.8v28.0M178.2 384.8v28.0M186.2 384.8v28.0M194.2 384.8v28.0M202.1 384.8v28.0M210.1 384.8v28.0M218.1 384.8v28.0M226.1 384.8v28.0M234.0 384.8v28.0M242.0 384.8v28.0M250.0 384.8v28.0M258.0 384.8v28.0M266.0 384.8v28.0M273.9 384.8v28.0M281.9 384.8v28.0M289.9 384.8v28.0M297.9 384.8v28.0M305.8 384.8v28.0M313.8 384.8v28.0M321.8 384.8v28.0M329.8 384.8v28.0M337.7 384.8v28.0M345.7 384.8v28.0M353.7 384.8v28.0M361.7 384.8v28.0M369.7 384.8v28.0M377.6 384.8v28.0M385.6 384.8v28.0M393.6 384.8v28.0M401.6 384.8v28.0M409.5 384.8v28.0M417.5 384.8v28.0M425.5 384.8v28.0M433.5 384.8v28.0M441.4 384.8v28.0M449.4 384.8v28.0M457.4 384.8v28.0M465.4 384.8v28.0M473.4 384.8v28.0M481.3 384.8v28.0M489.3 384.8v28.0M497.3 384.8v28.0M505.3 384.8v28.0M513.2 384.8v28.0M521.2 384.8v28.0M529.2 384.8v28.0M537.2 384.8v28.0M545.2 384.8v28.0M553.1 384.8v28.0M561.1 384.8v28.0M569.1 384.8v28.0M577.1 384.8v28.0M585.0 384.8v28.0M593.0 384.8v28.0M601.0 384.8v28.0M609.0 384.8v28.0M616.9 384.8v28.0M624.9 384.8v28.0M632.9 384.8v28.0M640.9 384.8v28.0M648.9 384.8v28.0M656.8 384.8v28.0M664.8 384.8v28.0M672.8 384.8v28.0M680.8 384.8v28.0M688.7 384.8v28.0M696.7 384.8v28.0M704.7 384.8v28.0M712.7 384.8v28.0M720.6 384.8v28.0M728.6 384.8v28.0M736.6 384.8v28.0M744.6 384.8v28.0M752.6 384.8v28.0M760.5 384.8v28.0M768.5 384.8v28.0M776.5 384.8v28.0M784.5 384.8v28.0M792.4 384.8v28.0M800.4 384.8v28.0M808.4 384.8v28.0M816.4 384.8v28.0M824.3 384.8v28.0M832.3 384.8v28.0M840.3 384.8v28.0M848.3 384.8v28.0M856.3 384.8v28.0M864.2 384.8v28.0M872.2 384.8v28.0M880.2 384.8v28.0M154.3 418.9v28.0M162.3 418.9v28.0M170.2 418.9v28.0M178.2 418.9v28.0M186.2 418.9v28.0M194.2 418.9v28.0M202.1 418.9v28.0M210.1 418.9v28.0M218.1 418.9v28.0M226.1 418.9v28.0M234.0 418.9v28.0M242.0 418.9v28.0M250.0 418.9v28.0M258.0 418.9v28.0M266.0 418.9v28.0M273.9 418.9v28.0M281.9 418.9v28.0M289.9 418.9v28.0M297.9 418.9v28.0M305.8 418.9v28.0M313.8 418.9v28.0M321.8 418.9v28.0M329.8 418.9v28.0M337.7 418.9v28.0M345.7 418.9v28.0M353.7 418.9v28.0M361.7 418.9v28.0M369.7 418.9v28.0M377.6 418.9v28.0M385.6 418.9v28.0M393.6 418.9v28.0M401.6 418.9v28.0M409.5 418.9v28.0M417.5 418.9v28.0M425.5 418.9v28.0M433.5 418.9v28.0M441.4 418.9v28.0M449.4 418.9v28.0M457.4 418.9v28.0M465.4 418.9v28.0M473.4 418.9v28.0M481.3 418.9v28.0M489.3 418.9v28.0M497.3 418.9v28.0M505.3 418.9v28.0M513.2 418.9v28.0M521.2 418.9v28.0M529.2 418.9v28.0M537.2 418.9v28.0M545.2 418.9v28.0M553.1 418.9v28.0M561.1 418.9v28.0M569.1 418.9v28.0M577.1 418.9v28.0M585.0 418.9v28.0M593.0 418.9v28.0M601.0 418.9v28.0M609.0 418.9v28.0M616.9 418.9v28.0M624.9 418.9v28.0M632.9 418.9v28.0M640.9 418.9v28.0M648.9 418.9v28.0M656.8 418.9v28.0M664.8 418.9v28.0M672.8 418.9v28.0M680.8 418.9v28.0M688.7 418.9v28.0M696.7 418.9v28.0M704.7 418.9v28.0M712.7 418.9v28.0M720.6 418.9v28.0M728.6 418.9v28.0M736.6 418.9v28.0M744.6 418.9v28.0M752.6 418.9v28.0M760.5 418.9v28.0M768.5 418.9v28.0M776.5 418.9v28.0M784.5 418.9v28.0M792.4 418.9v28.0M800.4 418.9v28.0M808.4 418.9v28.0M816.4 418.9v28.0M824.3 418.9v28.0M832.3 418.9v28.0M840.3 418.9v28.0M848.3 418.9v28.0M856.3 418.9v28.0M864.2 418.9v28.0M872.2 418.9v28.0M880.2 418.9v28.0M154.3 453.0v28.0M162.3 453.0v28.0M170.2 453.0v28.0M178.2 453.0v28.0M186.2 453.0v28.0M194.2 453.0v28.0M202.1 453.0v28.0M210.1 453.0v28.0M218.1 453.0v28.0M226.1 453.0v28.0M234.0 453.0v28.0M242.0 453.0v28.0M250.0 453.0v28.0M258.0 453.0v28.0M266.0 453.0v28.0M273.9 453.0v28.0M281.9 453.0v28.0M289.9 453.0v28.0M297.9 453.0v28.0M305.8 453.0v28.0M313.8 453.0v28.0M321.8 453.0v28.0M329.8 453.0v28.0M337.7 453.0v28.0M345.7 453.0v28.0M353.7 453.0v28.0M361.7 453.0v28.0M369.7 453.0v28.0M377.6 453.0v28.0M385.6 453.0v28.0M393.6 453.0v28.0M401.6 453.0v28.0M409.5 453.0v28.0M417.5 453.0v28.0M425.5 453.0v28.0M433.5 453.0v28.0M441.4 453.0v28.0M449.4 453.0v28.0M457.4 453.0v28.0M465.4 453.0v28.0M473.4 453.0v28.0M481.3 453.0v28.0M489.3 453.0v28.0M497.3 453.0v28.0M505.3 453.0v28.0M513.2 453.0v28.0M521.2 453.0v28.0M529.2 453.0v28.0M537.2 453.0v28.0M545.2 453.0v28.0M553.1 453.0v28.0M561.1 453.0v28.0M569.1 453.0v28.0M577.1 453.0v28.0M585.0 453.0v28.0M593.0 453.0v28.0M601.0 453.0v28.0M609.0 453.0v28.0M616.9 453.0v28.0M624.9 453.0v28.0M632.9 453.0v28.0M640.9 453.0v28.0M648.9 453.0v28.0M656.8 453.0v28.0M664.8 453.0v28.0M672.8 453.0v28.0M680.8 453.0v28.0M688.7 453.0v28.0M696.7 453.0v28.0M704.7 453.0v28.0M712.7 453.0v28.0M720.6 453.0v28.0M728.6 453.0v28.0M736.6 453.0v28.0M744.6 453.0v28.0M752.6 453.0v28.0M760.5 453.0v28.0M768.5 453.0v28.0M776.5 453.0v28.0M784.5 453.0v28.0M792.4 453.0v28.0M800.4 453.0v28.0M808.4 453.0v28.0M816.4 453.0v28.0M824.3 453.0v28.0M832.3 453.0v28.0M840.3 453.0v28.0M848.3 453.0v28.0M856.3 453.0v28.0M864.2 453.0v28.0M872.2 453.0v28.0M880.2 453.0v28.0" stroke="#8c8c8c" stroke-width="0.9" fill="none" opacity="0.75"/>
<rect x="146.3" y="78.3" width="741.9" height="28.0" fill="none" stroke="#959595" stroke-width="1.25"/>
<rect x="146.3" y="112.4" width="741.9" height="28.0" fill="none" stroke="#959595" stroke-width="1.25"/>
<rect x="146.3" y="146.4" width="741.9" height="28.0" fill="none" stroke="#959595" stroke-width="1.25"/>
<rect x="146.3" y="180.5" width="741.9" height="28.0" fill="none" stroke="#959595" stroke-width="1.25"/>
<rect x="146.3" y="214.5" width="741.9" height="28.0" fill="none" stroke="#959595" stroke-width="1.25"/>
<rect x="146.3" y="248.6" width="741.9" height="28.0" fill="none" stroke="#959595" stroke-width="1.25"/>
<rect x="146.3" y="282.7" width="741.9" height="28.0" fill="none" stroke="#959595" stroke-width="1.25"/>
<rect x="146.3" y="316.7" width="741.9" height="28.0" fill="none" stroke="#959595" stroke-width="1.25"/>
<rect x="146.3" y="350.8" width="741.9" height="28.0" fill="none" stroke="#959595" stroke-width="1.25"/>
<rect x="146.3" y="384.8" width="741.9" height="28.0" fill="none" stroke="#959595" stroke-width="1.25"/>
<rect x="146.3" y="418.9" width="741.9" height="28.0" fill="none" stroke="#959595" stroke-width="1.25"/>
<rect x="146.3" y="453.0" width="741.9" height="28.0" fill="none" stroke="#959595" stroke-width="1.25"/>
</g>
<g font-weight="bold" font-size="27.5px" fill="#000">
<text x="896.5" y="104.6">IL17</text>
<text x="896.5" y="138.7">Foxp3</text>
<text x="896.5" y="172.7">CCR7</text>
<text x="896.5" y="206.8">HLA.DR</text>
<text x="896.5" y="240.8">CD127</text>
<text x="896.5" y="274.9">CD45RA</text>
<text x="896.5" y="309.0">CD38</text>
<text x="896.5" y="343.0">CD27</text>
<text x="896.5" y="377.1">CD25hi</text>
<text x="896.5" y="411.1">CD25</text>
<text x="896.5" y="445.2">CD8</text>
<text x="896.5" y="479.3">CD4</text>
</g>
<g id="heat" transform="translate(146.3,489.1) scale(7.977,13.0)">
<path d="M1 0h1v1h-1zM4 0h5v1h-5zM10 0h1v1h-1zM13 0h5v1h-5zM20 0h2v1h-2zM27 0h1v1h-1zM39 0h1v1h-1zM62 0h1v1h-1zM5 1h4v1h-4zM10 1h1v1h-1zM17 1h1v1h-1zM20 1h2v1h-2zM27 1h1v1h-1zM44 1h1v1h-1zM48 1h1v1h-1zM63 1h1v1h-1zM66 1h1v1h-1zM68 1h1v1h-1zM1 2h2v1h-2zM5 2h4v1h-4zM10 2h1v1h-1zM21 2h3v1h-3zM49 2h6v1h-6zM56 2h1v1h-1zM58 2h1v1h-1zM63 2h1v1h-1zM66 2h1v1h-1zM68 2h1v1h-1zM1 3h2v1h-2zM4 3h7v1h-7zM38 3h1v1h-1zM42 3h1v1h-1zM62 3h1v1h-1zM66 3h1v1h-1zM68 3h1v1h-1zM2 4h1v1h-1zM5 4h6v1h-6zM13 4h1v1h-1zM15 4h1v1h-1zM20 4h3v1h-3zM27 4h1v1h-1zM44 4h1v1h-1zM63 4h1v1h-1zM65 4h1v1h-1zM1 5h2v1h-2zM5 5h6v1h-6zM16 5h1v1h-1zM22 5h2v1h-2zM30 5h1v1h-1zM34 5h1v1h-1zM68 5h1v1h-1zM6 6h3v1h-3zM10 6h2v1h-2zM13 6h1v1h-1zM15 6h2v1h-2zM21 6h4v1h-4zM38 6h1v1h-1zM40 6h1v1h-1zM42 6h1v1h-1zM62 6h2v1h-2zM66 6h1v1h-1zM13 7h2v1h-2zM22 7h2v1h-2zM37 7h2v1h-2zM44 7h1v1h-1zM68 7h1v1h-1zM11 8h1v1h-1zM22 8h2v1h-2zM37 8h1v1h-1zM39 8h1v1h-1zM57 8h1v1h-1zM0 9h1v1h-1zM20 9h1v1h-1zM27 9h1v1h-1zM39 9h1v1h-1zM48 9h1v1h-1zM66 9h1v1h-1zM2 10h1v1h-1zM6 10h3v1h-3zM22 10h2v1h-2zM31 10h1v1h-1zM36 10h1v1h-1zM38 10h3v1h-3zM42 10h1v1h-1zM44 10h1v1h-1zM50 10h1v1h-1zM63 10h1v1h-1zM66 10h1v1h-1zM76 10h1v1h-1zM0 11h2v1h-2zM5 11h1v1h-1zM9 11h1v1h-1zM14 11h2v1h-2zM20 11h1v1h-1zM22 11h2v1h-2zM31 11h1v1h-1zM36 11h2v1h-2zM43 11h1v1h-1zM60 11h1v1h-1zM63 11h1v1h-1zM5 12h1v1h-1zM10 12h1v1h-1zM22 12h2v1h-2zM31 12h1v1h-1zM40 12h1v1h-1zM56 12h2v1h-2zM1 13h2v1h-2zM5 13h1v1h-1zM22 13h2v1h-2zM32 13h2v1h-2zM38 13h1v1h-1zM44 13h4v1h-4zM49 13h1v1h-1zM68 13h1v1h-1zM2 14h1v1h-1zM4 14h2v1h-2zM7 14h2v1h-2zM10 14h1v1h-1zM12 14h3v1h-3zM21 14h1v1h-1zM31 14h1v1h-1zM38 14h1v1h-1zM42 14h3v1h-3zM63 14h1v1h-1zM76 14h1v1h-1zM0 15h1v1h-1zM15 15h1v1h-1zM22 15h2v1h-2zM31 15h1v1h-1zM40 15h1v1h-1zM44 15h1v1h-1zM63 15h4v1h-4zM68 15h1v1h-1zM10 16h4v1h-4zM47 16h1v1h-1zM62 16h2v1h-2zM65 16h1v1h-1zM2 17h1v1h-1zM12 17h4v1h-4zM20 17h1v1h-1zM22 17h2v1h-2zM32 17h2v1h-2zM42 17h1v1h-1zM44 17h1v1h-1zM63 17h2v1h-2zM68 17h1v1h-1zM12 18h1v1h-1zM14 18h1v1h-1zM20 18h3v1h-3zM26 18h1v1h-1zM34 18h1v1h-1zM44 18h1v1h-1zM55 18h1v1h-1zM63 18h1v1h-1zM70 18h1v1h-1zM1 19h1v1h-1zM6 19h1v1h-1zM15 19h1v1h-1zM17 19h2v1h-2zM29 19h2v1h-2zM56 19h1v1h-1zM59 19h1v1h-1zM69 19h1v1h-1zM14 20h1v1h-1zM28 20h1v1h-1zM30 20h1v1h-1zM32 20h2v1h-2zM38 20h2v1h-2zM44 20h1v1h-1zM69 20h1v1h-1zM73 20h2v1h-2zM79 20h1v1h-1zM1 21h1v1h-1zM3 21h1v1h-1zM16 21h1v1h-1zM27 21h3v1h-3zM33 21h1v1h-1zM36 21h1v1h-1zM57 21h1v1h-1zM64 21h2v1h-2zM69 21h1v1h-1zM71 21h1v1h-1zM0 22h1v1h-1zM14 22h1v1h-1zM16 22h1v1h-1zM26 22h1v1h-1zM28 22h1v1h-1zM30 22h1v1h-1zM33 22h2v1h-2zM39 22h2v1h-2zM43 22h1v1h-1zM70 22h1v1h-1zM79 22h2v1h-2zM1 23h4v1h-4zM26 23h2v1h-2zM32 23h3v1h-3zM36 23h2v1h-2zM41 23h1v1h-1zM47 23h1v1h-1zM69 23h3v1h-3zM79 23h1v1h-1zM0 24h1v1h-1zM4 24h1v1h-1zM9 24h1v1h-1zM13 24h2v1h-2zM17 24h1v1h-1zM22 24h1v1h-1zM26 24h5v1h-5zM32 24h1v1h-1zM36 24h5v1h-5zM42 24h3v1h-3zM47 24h1v1h-1zM63 24h1v1h-1zM69 24h1v1h-1zM75 24h1v1h-1zM79 24h2v1h-2zM13 25h1v1h-1zM16 25h1v1h-1zM20 25h6v1h-6zM28 25h3v1h-3zM33 25h1v1h-1zM37 25h2v1h-2zM41 25h1v1h-1zM44 25h1v1h-1zM46 25h2v1h-2zM58 25h1v1h-1zM69 25h1v1h-1zM79 25h1v1h-1zM1 26h2v1h-2zM4 26h1v1h-1zM6 26h1v1h-1zM12 26h4v1h-4zM20 26h1v1h-1zM26 26h4v1h-4zM34 26h1v1h-1zM38 26h3v1h-3zM46 26h2v1h-2zM63 26h2v1h-2zM69 26h1v1h-1zM79 26h2v1h-2zM12 27h1v1h-1zM27 27h2v1h-2zM30 27h1v1h-1zM32 27h2v1h-2zM36 27h1v1h-1zM39 27h2v1h-2zM43 27h2v1h-2zM63 27h1v1h-1zM69 27h1v1h-1zM71 27h1v1h-1zM79 27h1v1h-1zM0 28h1v1h-1zM14 28h2v1h-2zM26 28h5v1h-5zM32 28h1v1h-1zM35 28h4v1h-4zM41 28h1v1h-1zM44 28h1v1h-1zM69 28h1v1h-1zM74 28h1v1h-1zM79 28h1v1h-1zM81 28h1v1h-1zM14 29h2v1h-2zM25 29h3v1h-3zM29 29h2v1h-2zM32 29h2v1h-2zM36 29h1v1h-1zM44 29h1v1h-1zM69 29h1v1h-1zM76 29h1v1h-1zM81 29h1v1h-1zM26 30h3v1h-3zM30 30h1v1h-1zM33 30h1v1h-1zM38 30h1v1h-1zM43 30h2v1h-2zM47 30h1v1h-1zM55 30h1v1h-1zM21 31h2v1h-2zM26 31h5v1h-5zM32 31h1v1h-1zM34 31h4v1h-4zM39 31h3v1h-3zM43 31h2v1h-2zM58 31h1v1h-1zM27 32h1v1h-1zM32 32h2v1h-2zM36 32h1v1h-1zM38 32h5v1h-5zM44 32h2v1h-2zM47 32h2v1h-2zM69 32h1v1h-1zM71 32h1v1h-1zM13 33h5v1h-5zM26 33h2v1h-2zM29 33h1v1h-1zM33 33h1v1h-1zM37 33h6v1h-6zM44 33h3v1h-3zM69 33h1v1h-1zM74 33h2v1h-2zM0 34h1v1h-1zM15 34h2v1h-2zM26 34h2v1h-2zM30 34h1v1h-1zM32 34h2v1h-2zM36 34h4v1h-4zM41 34h2v1h-2zM44 34h1v1h-1zM55 34h1v1h-1zM69 34h1v1h-1zM71 34h2v1h-2zM74 34h1v1h-1zM79 34h2v1h-2zM82 34h1v1h-1zM26 35h3v1h-3zM30 35h1v1h-1zM33 35h4v1h-4zM38 35h2v1h-2zM42 35h2v1h-2zM73 35h1v1h-1zM82 35h1v1h-1zM12 36h1v1h-1zM16 36h1v1h-1zM26 36h2v1h-2zM29 36h1v1h-1zM32 36h2v1h-2zM36 36h4v1h-4zM42 36h3v1h-3zM69 36h3v1h-3zM0 37h2v1h-2zM4 37h1v1h-1zM6 37h1v1h-1zM12 37h1v1h-1zM27 37h1v1h-1zM33 37h1v1h-1zM37 37h1v1h-1zM43 37h2v1h-2zM70 37h1v1h-1zM0 38h1v1h-1zM2 38h1v1h-1zM6 38h1v1h-1zM16 38h1v1h-1zM26 38h1v1h-1zM32 38h1v1h-1zM35 38h4v1h-4zM41 38h1v1h-1zM43 38h1v1h-1zM55 38h1v1h-1zM64 38h1v1h-1zM69 38h1v1h-1zM71 38h1v1h-1zM3 39h1v1h-1zM14 39h2v1h-2zM17 39h2v1h-2zM27 39h4v1h-4zM34 39h1v1h-1zM37 39h1v1h-1zM39 39h4v1h-4zM46 39h1v1h-1zM69 39h1v1h-1zM71 39h1v1h-1zM2 40h1v1h-1zM6 40h3v1h-3zM11 40h5v1h-5zM17 40h2v1h-2zM20 40h1v1h-1zM38 40h4v1h-4zM44 40h1v1h-1zM47 40h1v1h-1zM53 40h1v1h-1zM63 40h1v1h-1zM81 40h2v1h-2zM86 40h1v1h-1zM0 41h1v1h-1zM2 41h1v1h-1zM6 41h3v1h-3zM11 41h3v1h-3zM15 41h1v1h-1zM17 41h1v1h-1zM38 41h1v1h-1zM40 41h3v1h-3zM44 41h1v1h-1zM50 41h4v1h-4zM63 41h1v1h-1zM82 41h1v1h-1zM1 42h2v1h-2zM6 42h5v1h-5zM17 42h1v1h-1zM20 42h1v1h-1zM29 42h2v1h-2zM33 42h1v1h-1zM36 42h1v1h-1zM38 42h1v1h-1zM43 42h2v1h-2zM46 42h1v1h-1zM65 42h1v1h-1zM1 43h1v1h-1zM6 43h1v1h-1zM8 43h1v1h-1zM10 43h2v1h-2zM15 43h1v1h-1zM36 43h2v1h-2zM39 43h1v1h-1zM42 43h1v1h-1zM44 43h1v1h-1zM46 43h2v1h-2zM63 43h1v1h-1zM69 43h1v1h-1zM71 43h1v1h-1zM80 43h1v1h-1zM2 44h1v1h-1zM6 44h3v1h-3zM10 44h2v1h-2zM15 44h1v1h-1zM17 44h1v1h-1zM36 44h1v1h-1zM38 44h1v1h-1zM40 44h4v1h-4zM45 44h1v1h-1zM69 44h3v1h-3zM1 45h2v1h-2zM5 45h4v1h-4zM10 45h1v1h-1zM13 45h1v1h-1zM15 45h2v1h-2zM22 45h1v1h-1zM31 45h1v1h-1zM36 45h1v1h-1zM38 45h1v1h-1zM40 45h5v1h-5zM49 45h2v1h-2zM52 45h1v1h-1zM54 45h1v1h-1zM64 45h1v1h-1zM66 45h1v1h-1zM69 45h1v1h-1zM74 45h1v1h-1zM79 45h4v1h-4zM85 45h2v1h-2zM89 45h1v1h-1zM2 46h1v1h-1zM4 46h1v1h-1zM6 46h1v1h-1zM8 46h1v1h-1zM13 46h3v1h-3zM17 46h1v1h-1zM20 46h3v1h-3zM31 46h1v1h-1zM34 46h3v1h-3zM38 46h1v1h-1zM41 46h2v1h-2zM44 46h1v1h-1zM46 46h1v1h-1zM51 46h1v1h-1zM54 46h1v1h-1zM63 46h1v1h-1zM66 46h1v1h-1zM69 46h2v1h-2zM76 46h1v1h-1zM0 47h1v1h-1zM2 47h1v1h-1zM6 47h4v1h-4zM11 47h1v1h-1zM13 47h4v1h-4zM19 47h2v1h-2zM29 47h3v1h-3zM33 47h1v1h-1zM35 47h2v1h-2zM41 47h3v1h-3zM45 47h3v1h-3zM53 47h2v1h-2zM63 47h1v1h-1zM66 47h1v1h-1zM69 47h1v1h-1zM86 47h1v1h-1zM7 48h2v1h-2zM10 48h1v1h-1zM15 48h2v1h-2zM19 48h2v1h-2zM25 48h1v1h-1zM36 48h1v1h-1zM40 48h3v1h-3zM45 48h2v1h-2zM53 48h2v1h-2zM64 48h1v1h-1zM77 48h1v1h-1zM82 48h1v1h-1zM0 49h1v1h-1zM2 49h1v1h-1zM6 49h3v1h-3zM11 49h3v1h-3zM17 49h2v1h-2zM20 49h1v1h-1zM25 49h1v1h-1zM29 49h3v1h-3zM36 49h1v1h-1zM38 49h1v1h-1zM40 49h5v1h-5zM50 49h3v1h-3zM54 49h1v1h-1zM4 50h1v1h-1zM12 50h2v1h-2zM27 50h4v1h-4zM32 50h10v1h-10zM43 50h2v1h-2zM46 50h2v1h-2zM65 50h1v1h-1zM70 50h1v1h-1zM20 51h3v1h-3zM28 51h1v1h-1zM32 51h1v1h-1zM36 51h1v1h-1zM39 51h2v1h-2zM46 51h1v1h-1zM69 51h2v1h-2zM72 51h1v1h-1zM1 52h2v1h-2zM5 52h1v1h-1zM7 52h1v1h-1zM11 52h1v1h-1zM17 52h1v1h-1zM20 52h1v1h-1zM25 52h1v1h-1zM29 52h1v1h-1zM33 52h1v1h-1zM35 52h1v1h-1zM37 52h1v1h-1zM46 52h1v1h-1zM60 52h1v1h-1zM64 52h1v1h-1zM69 52h2v1h-2zM0 53h1v1h-1zM5 53h3v1h-3zM11 53h1v1h-1zM22 53h2v1h-2zM26 53h3v1h-3zM32 53h2v1h-2zM47 53h1v1h-1zM0 54h1v1h-1zM4 54h2v1h-2zM8 54h1v1h-1zM14 54h1v1h-1zM16 54h2v1h-2zM20 54h7v1h-7zM29 54h2v1h-2zM32 54h6v1h-6zM41 54h1v1h-1zM43 54h2v1h-2zM47 54h1v1h-1zM72 54h1v1h-1zM80 54h1v1h-1zM1 55h2v1h-2zM4 55h1v1h-1zM6 55h2v1h-2zM9 55h1v1h-1zM11 55h1v1h-1zM16 55h2v1h-2zM23 55h1v1h-1zM26 55h1v1h-1zM29 55h2v1h-2zM36 55h1v1h-1zM40 55h2v1h-2zM44 55h1v1h-1zM46 55h1v1h-1zM58 55h1v1h-1zM71 55h1v1h-1zM5 56h2v1h-2zM8 56h1v1h-1zM17 56h1v1h-1zM19 56h3v1h-3zM24 56h3v1h-3zM31 56h1v1h-1zM33 56h1v1h-1zM40 56h1v1h-1zM42 56h3v1h-3zM46 56h2v1h-2zM69 56h1v1h-1zM90 56h1v1h-1zM10 57h6v1h-6zM17 57h1v1h-1zM28 57h3v1h-3zM32 57h1v1h-1zM36 57h2v1h-2zM39 57h1v1h-1zM46 57h1v1h-1zM69 57h1v1h-1zM7 58h1v1h-1zM10 58h6v1h-6zM17 58h1v1h-1zM25 58h1v1h-1zM28 58h2v1h-2zM32 58h2v1h-2zM36 58h1v1h-1zM42 58h2v1h-2zM65 58h1v1h-1zM75 58h1v1h-1zM82 58h1v1h-1zM90 58h1v1h-1zM0 59h2v1h-2zM4 59h3v1h-3zM8 59h3v1h-3zM12 59h1v1h-1zM14 59h1v1h-1zM17 59h3v1h-3zM21 59h1v1h-1zM30 59h1v1h-1zM33 59h1v1h-1zM38 59h1v1h-1zM44 59h1v1h-1zM70 59h2v1h-2zM1 60h2v1h-2zM4 60h5v1h-5zM11 60h2v1h-2zM17 60h2v1h-2zM26 60h2v1h-2zM29 60h2v1h-2zM33 60h1v1h-1zM36 60h1v1h-1zM38 60h2v1h-2zM44 60h1v1h-1zM46 60h1v1h-1zM69 60h1v1h-1zM7 61h1v1h-1zM11 61h3v1h-3zM17 61h1v1h-1zM20 61h1v1h-1zM26 61h5v1h-5zM32 61h2v1h-2zM36 61h1v1h-1zM38 61h1v1h-1zM44 61h1v1h-1zM46 61h1v1h-1zM70 61h1v1h-1zM73 61h1v1h-1zM1 62h1v1h-1zM6 62h1v1h-1zM8 62h1v1h-1zM11 62h1v1h-1zM13 62h3v1h-3zM22 62h1v1h-1zM25 62h2v1h-2zM29 62h1v1h-1zM32 62h1v1h-1zM36 62h1v1h-1zM38 62h2v1h-2zM43 62h2v1h-2zM46 62h1v1h-1zM56 62h1v1h-1zM70 62h1v1h-1zM73 62h1v1h-1zM79 62h1v1h-1zM1 63h2v1h-2zM5 63h1v1h-1zM9 63h1v1h-1zM17 63h3v1h-3zM21 63h1v1h-1zM24 63h2v1h-2zM32 63h2v1h-2zM35 63h2v1h-2zM38 63h1v1h-1zM40 63h1v1h-1zM43 63h1v1h-1zM45 63h2v1h-2zM81 63h1v1h-1zM9 64h1v1h-1zM15 64h3v1h-3zM21 64h1v1h-1zM23 64h1v1h-1zM26 64h1v1h-1zM30 64h1v1h-1zM32 64h1v1h-1zM36 64h6v1h-6zM44 64h1v1h-1zM53 64h1v1h-1zM56 64h1v1h-1zM59 64h1v1h-1zM73 64h1v1h-1zM77 64h1v1h-1zM79 64h1v1h-1zM0 65h1v1h-1zM5 65h2v1h-2zM9 65h1v1h-1zM18 65h1v1h-1zM23 65h3v1h-3zM27 65h2v1h-2zM30 65h1v1h-1zM32 65h10v1h-10zM44 65h1v1h-1zM69 65h1v1h-1zM73 65h1v1h-1zM78 65h1v1h-1zM80 65h1v1h-1zM0 66h1v1h-1zM4 66h2v1h-2zM9 66h2v1h-2zM13 66h1v1h-1zM16 66h3v1h-3zM22 66h2v1h-2zM26 66h2v1h-2zM29 66h2v1h-2zM34 66h1v1h-1zM36 66h2v1h-2zM40 66h2v1h-2zM44 66h1v1h-1zM73 66h1v1h-1zM79 66h2v1h-2zM0 67h1v1h-1zM2 67h1v1h-1zM6 67h1v1h-1zM14 67h1v1h-1zM18 67h1v1h-1zM21 67h3v1h-3zM25 67h1v1h-1zM27 67h4v1h-4zM34 67h1v1h-1zM36 67h3v1h-3zM40 67h2v1h-2zM43 67h2v1h-2zM46 67h1v1h-1zM79 67h2v1h-2zM1 68h2v1h-2zM4 68h3v1h-3zM9 68h1v1h-1zM11 68h1v1h-1zM13 68h1v1h-1zM18 68h2v1h-2zM26 68h2v1h-2zM30 68h1v1h-1zM32 68h2v1h-2zM38 68h1v1h-1zM41 68h1v1h-1zM44 68h1v1h-1zM69 68h1v1h-1zM81 68h2v1h-2zM4 69h3v1h-3zM8 69h1v1h-1zM10 69h1v1h-1zM14 69h1v1h-1zM17 69h2v1h-2zM20 69h1v1h-1zM22 69h1v1h-1zM28 69h3v1h-3zM32 69h3v1h-3zM36 69h2v1h-2zM41 69h2v1h-2zM44 69h1v1h-1zM48 69h1v1h-1zM69 69h1v1h-1zM73 69h1v1h-1zM76 69h1v1h-1zM79 69h2v1h-2zM1 70h3v1h-3zM5 70h1v1h-1zM7 70h1v1h-1zM9 70h3v1h-3zM13 70h3v1h-3zM17 70h2v1h-2zM20 70h1v1h-1zM23 70h5v1h-5zM29 70h2v1h-2zM34 70h1v1h-1zM36 70h4v1h-4zM43 70h2v1h-2zM46 70h2v1h-2zM69 70h1v1h-1zM74 70h3v1h-3zM79 70h2v1h-2zM1 71h2v1h-2zM4 71h3v1h-3zM8 71h1v1h-1zM10 71h1v1h-1zM14 71h1v1h-1zM17 71h1v1h-1zM22 71h1v1h-1zM25 71h3v1h-3zM30 71h1v1h-1zM33 71h1v1h-1zM35 71h1v1h-1zM37 71h3v1h-3zM41 71h1v1h-1zM44 71h1v1h-1zM47 71h1v1h-1zM49 71h1v1h-1zM53 71h2v1h-2zM66 71h4v1h-4zM73 71h1v1h-1zM79 71h1v1h-1zM81 71h1v1h-1zM2 72h1v1h-1zM6 72h1v1h-1zM9 72h1v1h-1zM13 72h3v1h-3zM17 72h2v1h-2zM21 72h1v1h-1zM24 72h7v1h-7zM34 72h1v1h-1zM36 72h3v1h-3zM40 72h2v1h-2zM69 72h1v1h-1zM0 73h1v1h-1zM5 73h2v1h-2zM13 73h3v1h-3zM17 73h1v1h-1zM21 73h1v1h-1zM23 73h1v1h-1zM28 73h1v1h-1zM30 73h1v1h-1zM32 73h1v1h-1zM36 73h3v1h-3zM44 73h1v1h-1zM66 73h1v1h-1zM76 73h1v1h-1zM9 74h1v1h-1zM15 74h1v1h-1zM18 74h1v1h-1zM28 74h2v1h-2zM32 74h2v1h-2zM36 74h6v1h-6zM44 74h1v1h-1zM57 74h1v1h-1zM66 74h1v1h-1zM69 74h1v1h-1zM73 74h1v1h-1zM16 75h3v1h-3zM20 75h1v1h-1zM29 75h2v1h-2zM33 75h1v1h-1zM35 75h2v1h-2zM38 75h2v1h-2zM41 75h4v1h-4zM67 75h2v1h-2zM76 75h1v1h-1zM80 75h2v1h-2zM88 75h1v1h-1zM18 76h1v1h-1zM20 76h2v1h-2zM26 76h3v1h-3zM30 76h1v1h-1zM32 76h2v1h-2zM35 76h5v1h-5zM41 76h4v1h-4zM68 76h1v1h-1zM70 76h2v1h-2zM79 76h1v1h-1zM81 76h1v1h-1zM92 76h1v1h-1zM5 77h2v1h-2zM8 77h4v1h-4zM18 77h1v1h-1zM20 77h1v1h-1zM31 77h1v1h-1zM39 77h4v1h-4zM44 77h1v1h-1zM81 77h2v1h-2zM5 78h8v1h-8zM18 78h4v1h-4zM27 78h4v1h-4zM36 78h3v1h-3zM42 78h2v1h-2zM46 78h1v1h-1zM53 78h1v1h-1zM64 78h1v1h-1zM82 78h1v1h-1zM87 78h1v1h-1zM89 78h2v1h-2zM1 79h1v1h-1zM5 79h2v1h-2zM8 79h1v1h-1zM10 79h3v1h-3zM18 79h4v1h-4zM26 79h3v1h-3zM30 79h1v1h-1zM32 79h5v1h-5zM38 79h7v1h-7zM0 80h1v1h-1zM6 80h1v1h-1zM9 80h1v1h-1zM12 80h1v1h-1zM19 80h2v1h-2zM25 80h6v1h-6zM37 80h6v1h-6zM44 80h1v1h-1zM46 80h1v1h-1zM66 80h1v1h-1zM69 80h1v1h-1zM76 80h1v1h-1zM80 80h1v1h-1zM0 81h1v1h-1zM9 81h1v1h-1zM12 81h1v1h-1zM18 81h1v1h-1zM22 81h2v1h-2zM25 81h2v1h-2zM28 81h2v1h-2zM32 81h1v1h-1zM34 81h6v1h-6zM41 81h1v1h-1zM46 81h1v1h-1zM66 81h1v1h-1zM6 82h3v1h-3zM14 82h1v1h-1zM17 82h3v1h-3zM21 82h1v1h-1zM24 82h3v1h-3zM28 82h3v1h-3zM32 82h2v1h-2zM38 82h4v1h-4zM43 82h2v1h-2zM5 83h1v1h-1zM13 83h1v1h-1zM17 83h2v1h-2zM20 83h2v1h-2zM30 83h2v1h-2zM38 83h5v1h-5zM44 83h2v1h-2zM59 83h1v1h-1zM70 83h2v1h-2zM73 83h1v1h-1zM76 83h1v1h-1zM78 83h1v1h-1zM1 84h2v1h-2zM6 84h1v1h-1zM9 84h1v1h-1zM11 84h3v1h-3zM18 84h1v1h-1zM21 84h3v1h-3zM25 84h1v1h-1zM27 84h3v1h-3zM32 84h1v1h-1zM36 84h4v1h-4zM41 84h1v1h-1zM68 84h2v1h-2zM79 84h1v1h-1zM9 85h2v1h-2zM21 85h2v1h-2zM24 85h14v1h-14zM39 85h1v1h-1zM41 85h1v1h-1zM58 85h1v1h-1zM76 85h1v1h-1zM79 85h2v1h-2z" fill="#fff2f2"/>
<path d="M11 0h1v1h-1zM22 0h2v1h-2zM37 0h1v1h-1zM44 0h1v1h-1zM46 0h1v1h-1zM53 0h1v1h-1zM56 0h2v1h-2zM64 0h3v1h-3zM11 1h1v1h-1zM15 1h2v1h-2zM22 1h2v1h-2zM33 1h1v1h-1zM35 1h1v1h-1zM37 1h1v1h-1zM49 1h6v1h-6zM58 1h2v1h-2zM62 1h1v1h-1zM64 1h2v1h-2zM4 2h1v1h-1zM11 2h2v1h-2zM20 2h1v1h-1zM31 2h1v1h-1zM33 2h1v1h-1zM37 2h1v1h-1zM44 2h1v1h-1zM48 2h1v1h-1zM55 2h1v1h-1zM11 3h1v1h-1zM14 3h1v1h-1zM16 3h1v1h-1zM22 3h2v1h-2zM26 3h1v1h-1zM31 3h3v1h-3zM44 3h1v1h-1zM47 3h2v1h-2zM52 3h2v1h-2zM60 3h1v1h-1zM63 3h1v1h-1zM67 3h1v1h-1zM80 3h1v1h-1zM4 4h1v1h-1zM11 4h1v1h-1zM16 4h1v1h-1zM23 4h1v1h-1zM31 4h1v1h-1zM33 4h2v1h-2zM47 4h1v1h-1zM49 4h3v1h-3zM53 4h2v1h-2zM57 4h1v1h-1zM62 4h1v1h-1zM66 4h1v1h-1zM68 4h1v1h-1zM4 5h1v1h-1zM11 5h1v1h-1zM15 5h1v1h-1zM31 5h1v1h-1zM33 5h1v1h-1zM36 5h2v1h-2zM47 5h2v1h-2zM50 5h2v1h-2zM55 5h1v1h-1zM60 5h1v1h-1zM62 5h1v1h-1zM66 5h1v1h-1zM80 5h1v1h-1zM82 5h1v1h-1zM28 6h1v1h-1zM31 6h4v1h-4zM44 6h1v1h-1zM48 6h4v1h-4zM53 6h1v1h-1zM56 6h3v1h-3zM64 6h2v1h-2zM67 6h1v1h-1zM82 6h1v1h-1zM3 7h1v1h-1zM15 7h2v1h-2zM24 7h1v1h-1zM26 7h1v1h-1zM31 7h1v1h-1zM48 7h1v1h-1zM54 7h1v1h-1zM58 7h3v1h-3zM62 7h2v1h-2zM31 8h1v1h-1zM44 8h1v1h-1zM47 8h1v1h-1zM49 8h1v1h-1zM56 8h1v1h-1zM59 8h1v1h-1zM65 8h1v1h-1zM67 8h1v1h-1zM15 9h2v1h-2zM22 9h2v1h-2zM30 9h1v1h-1zM32 9h3v1h-3zM44 9h1v1h-1zM47 9h1v1h-1zM49 9h1v1h-1zM62 9h4v1h-4zM67 9h2v1h-2zM10 10h1v1h-1zM28 10h1v1h-1zM32 10h2v1h-2zM37 10h1v1h-1zM43 10h1v1h-1zM47 10h3v1h-3zM51 10h1v1h-1zM56 10h2v1h-2zM65 10h1v1h-1zM68 10h1v1h-1zM81 10h1v1h-1zM2 11h1v1h-1zM6 11h3v1h-3zM10 11h1v1h-1zM25 11h2v1h-2zM32 11h4v1h-4zM44 11h1v1h-1zM47 11h1v1h-1zM49 11h1v1h-1zM51 11h2v1h-2zM55 11h5v1h-5zM62 11h1v1h-1zM65 11h1v1h-1zM67 11h2v1h-2zM82 11h1v1h-1zM4 12h1v1h-1zM6 12h3v1h-3zM11 12h1v1h-1zM30 12h1v1h-1zM34 12h3v1h-3zM43 12h1v1h-1zM47 12h1v1h-1zM49 12h2v1h-2zM53 12h2v1h-2zM58 12h2v1h-2zM62 12h1v1h-1zM64 12h1v1h-1zM66 12h1v1h-1zM82 12h1v1h-1zM4 13h1v1h-1zM6 13h3v1h-3zM10 13h2v1h-2zM34 13h2v1h-2zM50 13h5v1h-5zM56 13h1v1h-1zM58 13h1v1h-1zM63 13h3v1h-3zM67 13h1v1h-1zM80 13h1v1h-1zM6 14h1v1h-1zM11 14h1v1h-1zM15 14h1v1h-1zM20 14h1v1h-1zM22 14h2v1h-2zM25 14h1v1h-1zM28 14h1v1h-1zM32 14h2v1h-2zM48 14h9v1h-9zM58 14h2v1h-2zM62 14h1v1h-1zM65 14h2v1h-2zM68 14h1v1h-1zM1 15h2v1h-2zM4 15h2v1h-2zM10 15h1v1h-1zM25 15h1v1h-1zM29 15h1v1h-1zM32 15h3v1h-3zM46 15h1v1h-1zM53 15h1v1h-1zM67 15h1v1h-1zM23 16h1v1h-1zM31 16h1v1h-1zM48 16h1v1h-1zM53 16h5v1h-5zM66 16h2v1h-2zM6 17h2v1h-2zM10 17h2v1h-2zM25 17h1v1h-1zM30 17h1v1h-1zM34 17h2v1h-2zM48 17h2v1h-2zM53 17h1v1h-1zM55 17h2v1h-2zM58 17h2v1h-2zM61 17h2v1h-2zM65 17h3v1h-3zM72 17h1v1h-1zM76 17h1v1h-1zM13 18h1v1h-1zM15 18h4v1h-4zM23 18h1v1h-1zM27 18h4v1h-4zM35 18h1v1h-1zM42 18h2v1h-2zM52 18h1v1h-1zM56 18h3v1h-3zM65 18h1v1h-1zM72 18h1v1h-1zM77 18h1v1h-1zM0 19h1v1h-1zM2 19h1v1h-1zM5 19h1v1h-1zM7 19h1v1h-1zM10 19h1v1h-1zM12 19h1v1h-1zM22 19h2v1h-2zM27 19h1v1h-1zM33 19h1v1h-1zM36 19h1v1h-1zM48 19h1v1h-1zM57 19h1v1h-1zM62 19h1v1h-1zM66 19h1v1h-1zM72 19h3v1h-3zM91 19h1v1h-1zM0 20h3v1h-3zM12 20h2v1h-2zM15 20h1v1h-1zM19 20h1v1h-1zM34 20h2v1h-2zM40 20h1v1h-1zM46 20h2v1h-2zM55 20h5v1h-5zM71 20h1v1h-1zM80 20h1v1h-1zM0 21h1v1h-1zM2 21h1v1h-1zM12 21h4v1h-4zM20 21h1v1h-1zM24 21h1v1h-1zM30 21h1v1h-1zM34 21h1v1h-1zM37 21h1v1h-1zM40 21h1v1h-1zM47 21h1v1h-1zM55 21h2v1h-2zM58 21h2v1h-2zM63 21h1v1h-1zM72 21h1v1h-1zM1 22h2v1h-2zM5 22h2v1h-2zM8 22h2v1h-2zM13 22h1v1h-1zM15 22h1v1h-1zM17 22h2v1h-2zM32 22h1v1h-1zM41 22h1v1h-1zM46 22h2v1h-2zM63 22h3v1h-3zM73 22h1v1h-1zM77 22h1v1h-1zM81 22h1v1h-1zM5 23h4v1h-4zM12 23h4v1h-4zM19 23h1v1h-1zM25 23h1v1h-1zM28 23h3v1h-3zM38 23h1v1h-1zM45 23h2v1h-2zM48 23h1v1h-1zM63 23h2v1h-2zM80 23h2v1h-2zM5 24h1v1h-1zM12 24h1v1h-1zM16 24h1v1h-1zM18 24h1v1h-1zM23 24h1v1h-1zM33 24h1v1h-1zM41 24h1v1h-1zM46 24h1v1h-1zM64 24h1v1h-1zM67 24h1v1h-1zM71 24h1v1h-1zM73 24h2v1h-2zM0 25h1v1h-1zM5 25h1v1h-1zM14 25h1v1h-1zM17 25h2v1h-2zM60 25h1v1h-1zM63 25h1v1h-1zM71 25h2v1h-2zM80 25h1v1h-1zM5 26h1v1h-1zM7 26h2v1h-2zM10 26h1v1h-1zM16 26h2v1h-2zM21 26h5v1h-5zM30 26h1v1h-1zM36 26h1v1h-1zM43 26h1v1h-1zM53 26h1v1h-1zM57 26h1v1h-1zM71 26h1v1h-1zM82 26h1v1h-1zM0 27h1v1h-1zM4 27h2v1h-2zM13 27h6v1h-6zM20 27h1v1h-1zM24 27h2v1h-2zM34 27h2v1h-2zM38 27h1v1h-1zM41 27h1v1h-1zM46 27h2v1h-2zM50 27h1v1h-1zM55 27h1v1h-1zM64 27h2v1h-2zM75 27h1v1h-1zM80 27h1v1h-1zM82 27h1v1h-1zM12 28h2v1h-2zM17 28h2v1h-2zM20 28h1v1h-1zM23 28h1v1h-1zM33 28h2v1h-2zM50 28h1v1h-1zM53 28h1v1h-1zM68 28h1v1h-1zM71 28h1v1h-1zM73 28h1v1h-1zM80 28h1v1h-1zM3 29h1v1h-1zM5 29h1v1h-1zM12 29h2v1h-2zM16 29h2v1h-2zM21 29h3v1h-3zM37 29h1v1h-1zM47 29h1v1h-1zM64 29h2v1h-2zM67 29h2v1h-2zM77 29h1v1h-1zM79 29h1v1h-1zM4 30h1v1h-1zM12 30h4v1h-4zM32 30h1v1h-1zM35 30h2v1h-2zM39 30h2v1h-2zM71 30h1v1h-1zM78 30h3v1h-3zM82 30h1v1h-1zM0 31h2v1h-2zM12 31h3v1h-3zM23 31h3v1h-3zM38 31h1v1h-1zM46 31h2v1h-2zM63 31h1v1h-1zM65 31h2v1h-2zM70 31h1v1h-1zM78 31h1v1h-1zM81 31h1v1h-1zM12 32h2v1h-2zM17 32h1v1h-1zM28 32h3v1h-3zM34 32h2v1h-2zM46 32h1v1h-1zM59 32h1v1h-1zM70 32h1v1h-1zM90 32h1v1h-1zM18 33h1v1h-1zM20 33h1v1h-1zM23 33h1v1h-1zM28 33h1v1h-1zM30 33h1v1h-1zM32 33h1v1h-1zM43 33h1v1h-1zM47 33h2v1h-2zM51 33h1v1h-1zM55 33h1v1h-1zM57 33h2v1h-2zM71 33h1v1h-1zM82 33h1v1h-1zM13 34h2v1h-2zM17 34h2v1h-2zM24 34h2v1h-2zM43 34h1v1h-1zM46 34h1v1h-1zM56 34h3v1h-3zM62 34h1v1h-1zM67 34h2v1h-2zM70 34h1v1h-1zM75 34h1v1h-1zM78 34h1v1h-1zM81 34h1v1h-1zM13 35h3v1h-3zM17 35h2v1h-2zM20 35h1v1h-1zM22 35h4v1h-4zM29 35h1v1h-1zM37 35h1v1h-1zM40 35h2v1h-2zM55 35h1v1h-1zM63 35h1v1h-1zM68 35h1v1h-1zM70 35h3v1h-3zM74 35h1v1h-1zM78 35h4v1h-4zM0 36h1v1h-1zM4 36h1v1h-1zM9 36h1v1h-1zM13 36h2v1h-2zM18 36h1v1h-1zM22 36h1v1h-1zM24 36h2v1h-2zM30 36h1v1h-1zM34 36h2v1h-2zM41 36h1v1h-1zM68 36h1v1h-1zM72 36h2v1h-2zM79 36h3v1h-3zM5 37h1v1h-1zM7 37h4v1h-4zM17 37h2v1h-2zM32 37h1v1h-1zM38 37h2v1h-2zM45 37h1v1h-1zM55 37h1v1h-1zM78 37h1v1h-1zM81 37h1v1h-1zM1 38h1v1h-1zM7 38h2v1h-2zM12 38h4v1h-4zM17 38h1v1h-1zM19 38h1v1h-1zM27 38h4v1h-4zM33 38h2v1h-2zM44 38h3v1h-3zM50 38h1v1h-1zM56 38h2v1h-2zM63 38h1v1h-1zM65 38h1v1h-1zM70 38h1v1h-1zM80 38h2v1h-2zM0 39h1v1h-1zM4 39h1v1h-1zM6 39h1v1h-1zM12 39h2v1h-2zM32 39h2v1h-2zM35 39h2v1h-2zM45 39h1v1h-1zM55 39h1v1h-1zM57 39h1v1h-1zM1 40h1v1h-1zM10 40h1v1h-1zM16 40h1v1h-1zM22 40h3v1h-3zM35 40h2v1h-2zM42 40h1v1h-1zM48 40h1v1h-1zM50 40h2v1h-2zM54 40h1v1h-1zM66 40h1v1h-1zM68 40h1v1h-1zM79 40h2v1h-2zM85 40h1v1h-1zM91 40h2v1h-2zM1 41h1v1h-1zM10 41h1v1h-1zM36 41h1v1h-1zM47 41h3v1h-3zM54 41h3v1h-3zM64 41h1v1h-1zM79 41h1v1h-1zM92 41h1v1h-1zM11 42h3v1h-3zM22 42h3v1h-3zM28 42h1v1h-1zM32 42h1v1h-1zM35 42h1v1h-1zM37 42h1v1h-1zM42 42h1v1h-1zM45 42h1v1h-1zM51 42h1v1h-1zM63 42h1v1h-1zM66 42h1v1h-1zM70 42h2v1h-2zM81 42h2v1h-2zM92 42h1v1h-1zM12 43h3v1h-3zM22 43h1v1h-1zM24 43h3v1h-3zM28 43h2v1h-2zM31 43h1v1h-1zM33 43h2v1h-2zM43 43h1v1h-1zM48 43h1v1h-1zM53 43h1v1h-1zM81 43h2v1h-2zM1 44h1v1h-1zM12 44h1v1h-1zM22 44h1v1h-1zM25 44h4v1h-4zM30 44h2v1h-2zM81 44h2v1h-2zM92 44h1v1h-1zM11 45h2v1h-2zM19 45h1v1h-1zM23 45h3v1h-3zM28 45h1v1h-1zM30 45h1v1h-1zM33 45h3v1h-3zM37 45h1v1h-1zM48 45h1v1h-1zM60 45h1v1h-1zM70 45h2v1h-2zM75 45h2v1h-2zM84 45h1v1h-1zM90 45h1v1h-1zM92 45h1v1h-1zM7 46h1v1h-1zM11 46h2v1h-2zM16 46h1v1h-1zM19 46h1v1h-1zM23 46h1v1h-1zM25 46h1v1h-1zM28 46h1v1h-1zM30 46h1v1h-1zM33 46h1v1h-1zM37 46h1v1h-1zM40 46h1v1h-1zM43 46h1v1h-1zM45 46h1v1h-1zM47 46h1v1h-1zM49 46h2v1h-2zM52 46h1v1h-1zM68 46h1v1h-1zM71 46h1v1h-1zM79 46h2v1h-2zM86 46h1v1h-1zM3 47h2v1h-2zM23 47h1v1h-1zM25 47h1v1h-1zM28 47h1v1h-1zM32 47h1v1h-1zM37 47h1v1h-1zM49 47h3v1h-3zM70 47h2v1h-2zM76 47h2v1h-2zM79 47h2v1h-2zM85 47h1v1h-1zM87 47h1v1h-1zM3 48h1v1h-1zM24 48h1v1h-1zM43 48h1v1h-1zM49 48h4v1h-4zM65 48h2v1h-2zM70 48h3v1h-3zM86 48h1v1h-1zM10 49h1v1h-1zM19 49h1v1h-1zM24 49h1v1h-1zM28 49h1v1h-1zM33 49h3v1h-3zM63 49h1v1h-1zM68 49h3v1h-3zM76 49h1v1h-1zM80 49h1v1h-1zM86 49h1v1h-1zM92 49h1v1h-1zM0 50h3v1h-3zM5 50h2v1h-2zM14 50h1v1h-1zM16 50h2v1h-2zM19 50h1v1h-1zM23 50h1v1h-1zM25 50h1v1h-1zM63 50h1v1h-1zM66 50h4v1h-4zM73 50h1v1h-1zM77 50h1v1h-1zM79 50h4v1h-4zM1 51h2v1h-2zM5 51h1v1h-1zM17 51h2v1h-2zM23 51h2v1h-2zM29 51h2v1h-2zM34 51h2v1h-2zM45 51h1v1h-1zM64 51h1v1h-1zM66 51h3v1h-3zM79 51h4v1h-4zM84 51h1v1h-1zM6 52h1v1h-1zM8 52h2v1h-2zM12 52h1v1h-1zM26 52h2v1h-2zM30 52h1v1h-1zM32 52h1v1h-1zM63 52h1v1h-1zM66 52h1v1h-1zM68 52h1v1h-1zM71 52h2v1h-2zM81 52h2v1h-2zM85 52h1v1h-1zM91 52h1v1h-1zM4 53h1v1h-1zM8 53h3v1h-3zM12 53h2v1h-2zM16 53h2v1h-2zM29 53h2v1h-2zM37 53h1v1h-1zM63 53h3v1h-3zM70 53h6v1h-6zM79 53h4v1h-4zM1 54h3v1h-3zM6 54h2v1h-2zM9 54h5v1h-5zM27 54h1v1h-1zM40 54h1v1h-1zM65 54h2v1h-2zM70 54h2v1h-2zM81 54h2v1h-2zM8 55h1v1h-1zM10 55h1v1h-1zM27 55h2v1h-2zM32 55h2v1h-2zM37 55h1v1h-1zM63 55h1v1h-1zM66 55h2v1h-2zM77 55h2v1h-2zM80 55h3v1h-3zM91 55h1v1h-1zM1 56h1v1h-1zM7 56h1v1h-1zM11 56h1v1h-1zM16 56h1v1h-1zM22 56h1v1h-1zM32 56h1v1h-1zM37 56h1v1h-1zM45 56h1v1h-1zM65 56h2v1h-2zM70 56h2v1h-2zM78 56h1v1h-1zM92 56h1v1h-1zM26 57h2v1h-2zM38 57h1v1h-1zM44 57h1v1h-1zM47 57h1v1h-1zM53 57h1v1h-1zM56 57h1v1h-1zM58 57h1v1h-1zM65 57h1v1h-1zM72 57h2v1h-2zM75 57h1v1h-1zM82 57h1v1h-1zM26 58h2v1h-2zM30 58h1v1h-1zM37 58h2v1h-2zM46 58h2v1h-2zM53 58h1v1h-1zM70 58h2v1h-2zM73 58h2v1h-2zM78 58h4v1h-4zM2 59h1v1h-1zM7 59h1v1h-1zM11 59h1v1h-1zM15 59h2v1h-2zM20 59h1v1h-1zM22 59h1v1h-1zM40 59h1v1h-1zM65 59h1v1h-1zM81 59h2v1h-2zM13 60h4v1h-4zM37 60h1v1h-1zM47 60h1v1h-1zM53 60h1v1h-1zM55 60h1v1h-1zM57 60h2v1h-2zM74 60h2v1h-2zM82 60h1v1h-1zM14 61h3v1h-3zM37 61h1v1h-1zM53 61h1v1h-1zM57 61h1v1h-1zM71 61h2v1h-2zM74 61h2v1h-2zM9 62h2v1h-2zM20 62h1v1h-1zM27 62h1v1h-1zM30 62h1v1h-1zM37 62h1v1h-1zM47 62h1v1h-1zM51 62h2v1h-2zM58 62h1v1h-1zM63 62h2v1h-2zM71 62h1v1h-1zM74 62h2v1h-2zM82 62h1v1h-1zM92 62h1v1h-1zM3 63h1v1h-1zM7 63h2v1h-2zM10 63h1v1h-1zM12 63h5v1h-5zM20 63h1v1h-1zM22 63h1v1h-1zM26 63h1v1h-1zM28 63h3v1h-3zM37 63h1v1h-1zM39 63h1v1h-1zM63 63h2v1h-2zM66 63h1v1h-1zM70 63h2v1h-2zM5 64h2v1h-2zM12 64h3v1h-3zM18 64h1v1h-1zM22 64h1v1h-1zM25 64h1v1h-1zM27 64h3v1h-3zM34 64h1v1h-1zM47 64h1v1h-1zM51 64h2v1h-2zM67 64h2v1h-2zM70 64h2v1h-2zM74 64h1v1h-1zM81 64h2v1h-2zM1 65h2v1h-2zM4 65h1v1h-1zM7 65h2v1h-2zM10 65h1v1h-1zM12 65h1v1h-1zM14 65h1v1h-1zM22 65h1v1h-1zM26 65h1v1h-1zM43 65h1v1h-1zM47 65h1v1h-1zM58 65h2v1h-2zM66 65h2v1h-2zM76 65h1v1h-1zM79 65h1v1h-1zM1 66h2v1h-2zM6 66h3v1h-3zM11 66h2v1h-2zM14 66h1v1h-1zM24 66h2v1h-2zM28 66h1v1h-1zM38 66h1v1h-1zM45 66h1v1h-1zM47 66h1v1h-1zM70 66h2v1h-2zM76 66h1v1h-1zM81 66h1v1h-1zM11 67h2v1h-2zM15 67h2v1h-2zM47 67h1v1h-1zM55 67h1v1h-1zM57 67h1v1h-1zM66 67h2v1h-2zM70 67h2v1h-2zM73 67h2v1h-2zM76 67h1v1h-1zM81 67h1v1h-1zM7 68h2v1h-2zM10 68h1v1h-1zM12 68h1v1h-1zM14 68h2v1h-2zM21 68h1v1h-1zM37 68h1v1h-1zM47 68h1v1h-1zM50 68h1v1h-1zM55 68h4v1h-4zM63 68h1v1h-1zM65 68h1v1h-1zM72 68h1v1h-1zM78 68h1v1h-1zM80 68h1v1h-1zM1 69h2v1h-2zM7 69h1v1h-1zM11 69h3v1h-3zM15 69h1v1h-1zM23 69h5v1h-5zM47 69h1v1h-1zM70 69h2v1h-2zM74 69h2v1h-2zM78 69h1v1h-1zM81 69h2v1h-2zM8 70h1v1h-1zM12 70h1v1h-1zM53 70h1v1h-1zM55 70h2v1h-2zM58 70h1v1h-1zM70 70h3v1h-3zM77 70h2v1h-2zM81 70h2v1h-2zM7 71h1v1h-1zM11 71h2v1h-2zM15 71h2v1h-2zM18 71h1v1h-1zM24 71h1v1h-1zM29 71h1v1h-1zM50 71h2v1h-2zM71 71h1v1h-1zM85 71h2v1h-2zM92 71h1v1h-1zM1 72h1v1h-1zM3 72h3v1h-3zM7 72h2v1h-2zM10 72h3v1h-3zM16 72h1v1h-1zM19 72h1v1h-1zM46 72h1v1h-1zM49 72h1v1h-1zM51 72h1v1h-1zM53 72h1v1h-1zM55 72h5v1h-5zM68 72h1v1h-1zM71 72h1v1h-1zM73 72h1v1h-1zM79 72h1v1h-1zM81 72h1v1h-1zM4 73h1v1h-1zM8 73h1v1h-1zM22 73h1v1h-1zM24 73h4v1h-4zM47 73h1v1h-1zM55 73h1v1h-1zM73 73h1v1h-1zM79 73h2v1h-2zM0 74h1v1h-1zM4 74h5v1h-5zM12 74h2v1h-2zM19 74h3v1h-3zM23 74h1v1h-1zM26 74h2v1h-2zM30 74h1v1h-1zM34 74h1v1h-1zM48 74h2v1h-2zM56 74h1v1h-1zM58 74h1v1h-1zM76 74h1v1h-1zM79 74h3v1h-3zM0 75h1v1h-1zM2 75h1v1h-1zM4 75h3v1h-3zM8 75h1v1h-1zM11 75h5v1h-5zM21 75h1v1h-1zM32 75h1v1h-1zM37 75h1v1h-1zM40 75h1v1h-1zM46 75h1v1h-1zM49 75h1v1h-1zM55 75h1v1h-1zM70 75h2v1h-2zM77 75h1v1h-1zM79 75h1v1h-1zM91 75h1v1h-1zM0 76h1v1h-1zM4 76h2v1h-2zM14 76h3v1h-3zM22 76h1v1h-1zM24 76h2v1h-2zM34 76h1v1h-1zM46 76h1v1h-1zM53 76h1v1h-1zM66 76h2v1h-2zM72 76h2v1h-2zM76 76h1v1h-1zM82 76h1v1h-1zM1 77h2v1h-2zM7 77h1v1h-1zM13 77h5v1h-5zM21 77h1v1h-1zM26 77h1v1h-1zM28 77h3v1h-3zM32 77h7v1h-7zM43 77h1v1h-1zM46 77h1v1h-1zM49 77h1v1h-1zM69 77h1v1h-1zM73 77h2v1h-2zM76 77h5v1h-5zM13 78h1v1h-1zM17 78h1v1h-1zM25 78h2v1h-2zM32 78h2v1h-2zM63 78h1v1h-1zM72 78h1v1h-1zM74 78h2v1h-2zM78 78h2v1h-2zM91 78h1v1h-1zM7 79h1v1h-1zM13 79h1v1h-1zM16 79h2v1h-2zM37 79h1v1h-1zM46 79h2v1h-2zM63 79h1v1h-1zM70 79h2v1h-2zM77 79h6v1h-6zM1 80h2v1h-2zM4 80h1v1h-1zM7 80h2v1h-2zM11 80h1v1h-1zM13 80h3v1h-3zM21 80h1v1h-1zM31 80h3v1h-3zM70 80h1v1h-1zM73 80h1v1h-1zM78 80h2v1h-2zM81 80h2v1h-2zM1 81h2v1h-2zM4 81h5v1h-5zM10 81h2v1h-2zM13 81h1v1h-1zM15 81h1v1h-1zM24 81h1v1h-1zM40 81h1v1h-1zM43 81h1v1h-1zM53 81h1v1h-1zM70 81h2v1h-2zM77 81h1v1h-1zM80 81h3v1h-3zM1 82h2v1h-2zM9 82h3v1h-3zM13 82h1v1h-1zM22 82h1v1h-1zM27 82h1v1h-1zM36 82h2v1h-2zM50 82h1v1h-1zM52 82h2v1h-2zM60 82h1v1h-1zM70 82h1v1h-1zM80 82h3v1h-3zM86 82h1v1h-1zM6 83h4v1h-4zM11 83h2v1h-2zM23 83h4v1h-4zM28 83h1v1h-1zM32 83h6v1h-6zM43 83h1v1h-1zM67 83h1v1h-1zM72 83h1v1h-1zM74 83h1v1h-1zM77 83h1v1h-1zM79 83h1v1h-1zM81 83h1v1h-1zM8 84h1v1h-1zM10 84h1v1h-1zM14 84h1v1h-1zM19 84h2v1h-2zM24 84h1v1h-1zM26 84h1v1h-1zM35 84h1v1h-1zM47 84h1v1h-1zM51 84h1v1h-1zM64 84h2v1h-2zM70 84h2v1h-2zM74 84h1v1h-1zM78 84h1v1h-1zM81 84h1v1h-1zM1 85h2v1h-2zM4 85h5v1h-5zM11 85h3v1h-3zM17 85h2v1h-2zM23 85h1v1h-1zM38 85h1v1h-1zM64 85h1v1h-1zM70 85h2v1h-2zM77 85h1v1h-1z" fill="#ffdede"/>
<path d="M29 0h3v1h-3zM33 0h1v1h-1zM49 0h4v1h-4zM54 0h2v1h-2zM58 0h2v1h-2zM67 0h1v1h-1zM12 1h1v1h-1zM29 1h4v1h-4zM43 1h1v1h-1zM55 1h3v1h-3zM61 1h1v1h-1zM67 1h1v1h-1zM82 1h1v1h-1zM29 2h2v1h-2zM32 2h1v1h-1zM64 2h2v1h-2zM67 2h1v1h-1zM82 2h1v1h-1zM12 3h1v1h-1zM30 3h1v1h-1zM34 3h1v1h-1zM43 3h1v1h-1zM50 3h2v1h-2zM54 3h1v1h-1zM59 3h1v1h-1zM64 3h2v1h-2zM82 3h1v1h-1zM92 3h1v1h-1zM12 4h1v1h-1zM28 4h1v1h-1zM30 4h1v1h-1zM32 4h1v1h-1zM35 4h3v1h-3zM48 4h1v1h-1zM52 4h1v1h-1zM55 4h2v1h-2zM58 4h2v1h-2zM64 4h1v1h-1zM67 4h1v1h-1zM79 4h1v1h-1zM81 4h1v1h-1zM12 5h1v1h-1zM26 5h1v1h-1zM32 5h1v1h-1zM49 5h1v1h-1zM52 5h3v1h-3zM65 5h1v1h-1zM67 5h1v1h-1zM79 5h1v1h-1zM81 5h1v1h-1zM86 5h1v1h-1zM12 6h1v1h-1zM26 6h1v1h-1zM29 6h2v1h-2zM47 6h1v1h-1zM52 6h1v1h-1zM54 6h2v1h-2zM80 6h2v1h-2zM29 7h2v1h-2zM32 7h2v1h-2zM47 7h1v1h-1zM49 7h1v1h-1zM51 7h3v1h-3zM56 7h2v1h-2zM64 7h1v1h-1zM67 7h1v1h-1zM73 7h1v1h-1zM77 7h1v1h-1zM12 8h1v1h-1zM26 8h1v1h-1zM29 8h1v1h-1zM32 8h1v1h-1zM35 8h1v1h-1zM48 8h1v1h-1zM50 8h3v1h-3zM54 8h2v1h-2zM61 8h1v1h-1zM64 8h1v1h-1zM76 8h1v1h-1zM12 9h1v1h-1zM25 9h1v1h-1zM29 9h1v1h-1zM31 9h1v1h-1zM43 9h1v1h-1zM50 9h2v1h-2zM53 9h6v1h-6zM60 9h1v1h-1zM12 10h1v1h-1zM25 10h2v1h-2zM30 10h1v1h-1zM45 10h1v1h-1zM52 10h2v1h-2zM55 10h1v1h-1zM58 10h1v1h-1zM64 10h1v1h-1zM11 11h1v1h-1zM29 11h2v1h-2zM48 11h1v1h-1zM50 11h1v1h-1zM53 11h2v1h-2zM61 11h1v1h-1zM64 11h1v1h-1zM66 11h1v1h-1zM77 11h1v1h-1zM12 12h1v1h-1zM26 12h1v1h-1zM29 12h1v1h-1zM32 12h2v1h-2zM37 12h1v1h-1zM48 12h1v1h-1zM51 12h2v1h-2zM61 12h1v1h-1zM67 12h1v1h-1zM79 12h2v1h-2zM12 13h1v1h-1zM25 13h2v1h-2zM28 13h3v1h-3zM55 13h1v1h-1zM62 13h1v1h-1zM76 13h1v1h-1zM79 13h1v1h-1zM82 13h1v1h-1zM29 14h2v1h-2zM57 14h1v1h-1zM60 14h2v1h-2zM64 14h1v1h-1zM67 14h1v1h-1zM6 15h3v1h-3zM11 15h1v1h-1zM28 15h1v1h-1zM30 15h1v1h-1zM35 15h1v1h-1zM47 15h1v1h-1zM50 15h3v1h-3zM55 15h5v1h-5zM73 15h1v1h-1zM79 15h1v1h-1zM22 16h1v1h-1zM25 16h1v1h-1zM28 16h1v1h-1zM30 16h1v1h-1zM32 16h3v1h-3zM50 16h2v1h-2zM58 16h2v1h-2zM73 16h1v1h-1zM75 16h1v1h-1zM5 17h1v1h-1zM8 17h1v1h-1zM26 17h1v1h-1zM29 17h1v1h-1zM43 17h1v1h-1zM46 17h2v1h-2zM50 17h3v1h-3zM54 17h1v1h-1zM60 17h1v1h-1zM80 17h1v1h-1zM0 18h2v1h-2zM5 18h2v1h-2zM33 18h1v1h-1zM45 18h1v1h-1zM50 18h2v1h-2zM53 18h1v1h-1zM62 18h1v1h-1zM64 18h1v1h-1zM66 18h1v1h-1zM68 18h1v1h-1zM73 18h1v1h-1zM76 18h1v1h-1zM78 18h1v1h-1zM81 18h2v1h-2zM4 19h1v1h-1zM8 19h1v1h-1zM11 19h1v1h-1zM16 19h1v1h-1zM32 19h1v1h-1zM34 19h1v1h-1zM37 19h1v1h-1zM39 19h1v1h-1zM65 19h1v1h-1zM76 19h1v1h-1zM79 19h2v1h-2zM88 19h2v1h-2zM6 20h1v1h-1zM20 20h4v1h-4zM25 20h1v1h-1zM41 20h1v1h-1zM48 20h7v1h-7zM61 20h5v1h-5zM67 20h1v1h-1zM72 20h1v1h-1zM78 20h1v1h-1zM82 20h1v1h-1zM89 20h1v1h-1zM6 21h1v1h-1zM21 21h2v1h-2zM25 21h1v1h-1zM41 21h1v1h-1zM46 21h1v1h-1zM50 21h4v1h-4zM60 21h1v1h-1zM62 21h1v1h-1zM70 21h1v1h-1zM78 21h1v1h-1zM7 22h1v1h-1zM10 22h1v1h-1zM12 22h1v1h-1zM20 22h2v1h-2zM25 22h1v1h-1zM27 22h1v1h-1zM38 22h1v1h-1zM54 22h1v1h-1zM57 22h1v1h-1zM59 22h2v1h-2zM66 22h3v1h-3zM74 22h3v1h-3zM82 22h1v1h-1zM9 23h2v1h-2zM16 23h3v1h-3zM20 23h2v1h-2zM24 23h1v1h-1zM53 23h2v1h-2zM57 23h1v1h-1zM59 23h1v1h-1zM65 23h1v1h-1zM67 23h1v1h-1zM72 23h7v1h-7zM82 23h1v1h-1zM1 24h2v1h-2zM6 24h3v1h-3zM10 24h1v1h-1zM19 24h1v1h-1zM24 24h2v1h-2zM34 24h1v1h-1zM48 24h2v1h-2zM57 24h1v1h-1zM59 24h1v1h-1zM62 24h1v1h-1zM65 24h2v1h-2zM68 24h1v1h-1zM70 24h1v1h-1zM78 24h1v1h-1zM4 25h1v1h-1zM6 25h4v1h-4zM12 25h1v1h-1zM15 25h1v1h-1zM48 25h3v1h-3zM57 25h1v1h-1zM59 25h1v1h-1zM61 25h2v1h-2zM64 25h2v1h-2zM68 25h1v1h-1zM70 25h1v1h-1zM74 25h1v1h-1zM77 25h1v1h-1zM81 25h1v1h-1zM91 25h1v1h-1zM11 26h1v1h-1zM18 26h1v1h-1zM48 26h3v1h-3zM52 26h1v1h-1zM54 26h3v1h-3zM58 26h1v1h-1zM65 26h1v1h-1zM67 26h1v1h-1zM70 26h1v1h-1zM73 26h1v1h-1zM75 26h1v1h-1zM81 26h1v1h-1zM1 27h2v1h-2zM6 27h3v1h-3zM19 27h1v1h-1zM21 27h3v1h-3zM48 27h2v1h-2zM51 27h1v1h-1zM53 27h1v1h-1zM56 27h3v1h-3zM68 27h1v1h-1zM70 27h1v1h-1zM72 27h3v1h-3zM81 27h1v1h-1zM1 28h1v1h-1zM21 28h2v1h-2zM24 28h1v1h-1zM48 28h1v1h-1zM55 28h2v1h-2zM62 28h1v1h-1zM64 28h3v1h-3zM70 28h1v1h-1zM77 28h2v1h-2zM0 29h3v1h-3zM19 29h1v1h-1zM46 29h1v1h-1zM48 29h1v1h-1zM50 29h2v1h-2zM57 29h1v1h-1zM62 29h1v1h-1zM66 29h1v1h-1zM72 29h1v1h-1zM74 29h1v1h-1zM78 29h1v1h-1zM0 30h3v1h-3zM18 30h1v1h-1zM34 30h1v1h-1zM41 30h1v1h-1zM46 30h1v1h-1zM49 30h1v1h-1zM53 30h1v1h-1zM57 30h2v1h-2zM63 30h2v1h-2zM67 30h2v1h-2zM70 30h1v1h-1zM72 30h1v1h-1zM81 30h1v1h-1zM2 31h1v1h-1zM15 31h1v1h-1zM17 31h3v1h-3zM48 31h1v1h-1zM50 31h1v1h-1zM52 31h2v1h-2zM59 31h2v1h-2zM64 31h1v1h-1zM68 31h1v1h-1zM72 31h1v1h-1zM76 31h1v1h-1zM79 31h2v1h-2zM82 31h1v1h-1zM3 32h1v1h-1zM5 32h2v1h-2zM14 32h1v1h-1zM18 32h2v1h-2zM22 32h3v1h-3zM58 32h1v1h-1zM63 32h1v1h-1zM65 32h1v1h-1zM68 32h1v1h-1zM72 32h1v1h-1zM78 32h1v1h-1zM80 32h1v1h-1zM82 32h1v1h-1zM0 33h1v1h-1zM4 33h7v1h-7zM21 33h1v1h-1zM34 33h1v1h-1zM49 33h2v1h-2zM52 33h3v1h-3zM56 33h1v1h-1zM59 33h1v1h-1zM61 33h1v1h-1zM68 33h1v1h-1zM70 33h1v1h-1zM72 33h1v1h-1zM78 33h1v1h-1zM81 33h1v1h-1zM6 34h1v1h-1zM8 34h1v1h-1zM10 34h2v1h-2zM21 34h2v1h-2zM48 34h2v1h-2zM52 34h1v1h-1zM64 34h1v1h-1zM77 34h1v1h-1zM88 34h1v1h-1zM3 35h1v1h-1zM5 35h1v1h-1zM8 35h1v1h-1zM16 35h1v1h-1zM21 35h1v1h-1zM45 35h1v1h-1zM48 35h1v1h-1zM50 35h2v1h-2zM56 35h3v1h-3zM65 35h2v1h-2zM75 35h3v1h-3zM5 36h4v1h-4zM19 36h3v1h-3zM23 36h1v1h-1zM40 36h1v1h-1zM45 36h1v1h-1zM47 36h2v1h-2zM58 36h1v1h-1zM67 36h1v1h-1zM74 36h5v1h-5zM82 36h1v1h-1zM11 37h1v1h-1zM13 37h3v1h-3zM23 37h2v1h-2zM34 37h1v1h-1zM40 37h1v1h-1zM46 37h2v1h-2zM57 37h2v1h-2zM63 37h4v1h-4zM68 37h1v1h-1zM72 37h1v1h-1zM77 37h1v1h-1zM79 37h1v1h-1zM82 37h1v1h-1zM90 37h1v1h-1zM5 38h1v1h-1zM10 38h2v1h-2zM18 38h1v1h-1zM25 38h1v1h-1zM49 38h1v1h-1zM51 38h1v1h-1zM53 38h1v1h-1zM58 38h1v1h-1zM67 38h2v1h-2zM72 38h3v1h-3zM82 38h1v1h-1zM2 39h1v1h-1zM5 39h1v1h-1zM7 39h2v1h-2zM49 39h3v1h-3zM53 39h1v1h-1zM56 39h1v1h-1zM58 39h1v1h-1zM62 39h1v1h-1zM64 39h1v1h-1zM66 39h1v1h-1zM70 39h1v1h-1zM72 39h2v1h-2zM80 39h3v1h-3zM25 40h1v1h-1zM28 40h1v1h-1zM37 40h1v1h-1zM49 40h1v1h-1zM52 40h1v1h-1zM55 40h2v1h-2zM58 40h2v1h-2zM64 40h2v1h-2zM69 40h1v1h-1zM76 40h1v1h-1zM78 40h1v1h-1zM22 41h2v1h-2zM57 41h3v1h-3zM65 41h4v1h-4zM70 41h3v1h-3zM77 41h1v1h-1zM85 41h2v1h-2zM91 41h1v1h-1zM14 42h3v1h-3zM49 42h1v1h-1zM52 42h2v1h-2zM58 42h1v1h-1zM64 42h1v1h-1zM68 42h1v1h-1zM72 42h1v1h-1zM77 42h4v1h-4zM86 42h1v1h-1zM91 42h1v1h-1zM16 43h1v1h-1zM27 43h1v1h-1zM30 43h1v1h-1zM32 43h1v1h-1zM35 43h1v1h-1zM45 43h1v1h-1zM49 43h3v1h-3zM54 43h1v1h-1zM56 43h4v1h-4zM65 43h3v1h-3zM78 43h1v1h-1zM89 43h1v1h-1zM91 43h2v1h-2zM13 44h1v1h-1zM16 44h1v1h-1zM23 44h1v1h-1zM29 44h1v1h-1zM37 44h1v1h-1zM47 44h1v1h-1zM49 44h1v1h-1zM53 44h1v1h-1zM63 44h1v1h-1zM66 44h1v1h-1zM77 44h1v1h-1zM79 44h2v1h-2zM29 45h1v1h-1zM32 45h1v1h-1zM45 45h1v1h-1zM56 45h4v1h-4zM61 45h1v1h-1zM67 45h2v1h-2zM73 45h1v1h-1zM78 45h1v1h-1zM87 45h2v1h-2zM1 46h1v1h-1zM10 46h1v1h-1zM24 46h1v1h-1zM29 46h1v1h-1zM32 46h1v1h-1zM64 46h1v1h-1zM67 46h1v1h-1zM73 46h1v1h-1zM77 46h1v1h-1zM85 46h1v1h-1zM87 46h1v1h-1zM92 46h1v1h-1zM1 47h1v1h-1zM10 47h1v1h-1zM22 47h1v1h-1zM24 47h1v1h-1zM34 47h1v1h-1zM48 47h1v1h-1zM52 47h1v1h-1zM64 47h1v1h-1zM67 47h2v1h-2zM74 47h2v1h-2zM92 47h1v1h-1zM22 48h2v1h-2zM47 48h1v1h-1zM67 48h3v1h-3zM74 48h2v1h-2zM85 48h1v1h-1zM87 48h6v1h-6zM1 49h1v1h-1zM23 49h1v1h-1zM32 49h1v1h-1zM37 49h1v1h-1zM45 49h1v1h-1zM47 49h1v1h-1zM49 49h1v1h-1zM64 49h1v1h-1zM71 49h2v1h-2zM75 49h1v1h-1zM77 49h3v1h-3zM85 49h1v1h-1zM89 49h2v1h-2zM7 50h5v1h-5zM18 50h1v1h-1zM20 50h3v1h-3zM45 50h1v1h-1zM48 50h1v1h-1zM50 50h1v1h-1zM60 50h1v1h-1zM74 50h3v1h-3zM78 50h1v1h-1zM84 50h1v1h-1zM86 50h1v1h-1zM6 51h5v1h-5zM12 51h1v1h-1zM25 51h1v1h-1zM58 51h1v1h-1zM74 51h2v1h-2zM77 51h2v1h-2zM85 51h2v1h-2zM90 51h1v1h-1zM92 51h1v1h-1zM13 52h2v1h-2zM16 52h1v1h-1zM45 52h1v1h-1zM53 52h1v1h-1zM78 52h1v1h-1zM86 52h1v1h-1zM92 52h1v1h-1zM14 53h1v1h-1zM45 53h1v1h-1zM51 53h1v1h-1zM53 53h1v1h-1zM66 53h1v1h-1zM68 53h1v1h-1zM77 53h2v1h-2zM91 53h2v1h-2zM15 54h1v1h-1zM45 54h1v1h-1zM63 54h2v1h-2zM68 54h1v1h-1zM73 54h3v1h-3zM78 54h1v1h-1zM91 54h2v1h-2zM13 55h1v1h-1zM45 55h1v1h-1zM59 55h2v1h-2zM65 55h1v1h-1zM68 55h1v1h-1zM74 55h2v1h-2zM90 55h1v1h-1zM0 56h1v1h-1zM2 56h1v1h-1zM12 56h1v1h-1zM23 56h1v1h-1zM30 56h1v1h-1zM35 56h1v1h-1zM63 56h1v1h-1zM74 56h2v1h-2zM77 56h1v1h-1zM81 56h1v1h-1zM84 56h1v1h-1zM16 57h1v1h-1zM22 57h2v1h-2zM43 57h1v1h-1zM50 57h3v1h-3zM54 57h1v1h-1zM57 57h1v1h-1zM59 57h1v1h-1zM64 57h1v1h-1zM74 57h1v1h-1zM78 57h1v1h-1zM89 57h4v1h-4zM48 58h1v1h-1zM50 58h3v1h-3zM54 58h6v1h-6zM61 58h1v1h-1zM72 58h1v1h-1zM77 58h1v1h-1zM91 58h2v1h-2zM13 59h1v1h-1zM23 59h1v1h-1zM47 59h1v1h-1zM51 59h2v1h-2zM55 59h5v1h-5zM64 59h1v1h-1zM73 59h3v1h-3zM78 59h3v1h-3zM92 59h1v1h-1zM23 60h1v1h-1zM45 60h1v1h-1zM49 60h4v1h-4zM54 60h1v1h-1zM56 60h1v1h-1zM59 60h1v1h-1zM64 60h2v1h-2zM70 60h2v1h-2zM79 60h3v1h-3zM90 60h3v1h-3zM22 61h2v1h-2zM45 61h1v1h-1zM47 61h1v1h-1zM51 61h2v1h-2zM54 61h3v1h-3zM58 61h2v1h-2zM64 61h2v1h-2zM81 61h1v1h-1zM91 61h2v1h-2zM3 62h1v1h-1zM12 62h1v1h-1zM23 62h1v1h-1zM49 62h1v1h-1zM53 62h2v1h-2zM59 62h1v1h-1zM61 62h1v1h-1zM65 62h1v1h-1zM67 62h1v1h-1zM72 62h1v1h-1zM80 62h2v1h-2zM89 62h2v1h-2zM6 63h1v1h-1zM27 63h1v1h-1zM47 63h1v1h-1zM49 63h6v1h-6zM67 63h2v1h-2zM73 63h3v1h-3zM77 63h1v1h-1zM82 63h1v1h-1zM89 63h4v1h-4zM2 64h2v1h-2zM7 64h2v1h-2zM11 64h1v1h-1zM19 64h1v1h-1zM45 64h1v1h-1zM50 64h1v1h-1zM63 64h1v1h-1zM75 64h2v1h-2zM78 64h1v1h-1zM87 64h1v1h-1zM92 64h1v1h-1zM11 65h1v1h-1zM13 65h1v1h-1zM15 65h2v1h-2zM45 65h1v1h-1zM49 65h1v1h-1zM51 65h1v1h-1zM55 65h1v1h-1zM57 65h1v1h-1zM64 65h1v1h-1zM68 65h1v1h-1zM70 65h3v1h-3zM74 65h2v1h-2zM77 65h1v1h-1zM82 65h1v1h-1zM92 65h1v1h-1zM3 66h1v1h-1zM15 66h1v1h-1zM49 66h1v1h-1zM51 66h1v1h-1zM55 66h1v1h-1zM58 66h1v1h-1zM66 66h3v1h-3zM72 66h1v1h-1zM74 66h2v1h-2zM77 66h2v1h-2zM82 66h1v1h-1zM1 67h1v1h-1zM4 67h2v1h-2zM7 67h2v1h-2zM10 67h1v1h-1zM13 67h1v1h-1zM49 67h1v1h-1zM51 67h1v1h-1zM53 67h1v1h-1zM56 67h1v1h-1zM58 67h1v1h-1zM63 67h1v1h-1zM65 67h1v1h-1zM68 67h1v1h-1zM72 67h1v1h-1zM75 67h1v1h-1zM77 67h2v1h-2zM82 67h1v1h-1zM91 67h2v1h-2zM22 68h2v1h-2zM28 68h2v1h-2zM35 68h1v1h-1zM48 68h2v1h-2zM51 68h4v1h-4zM59 68h1v1h-1zM64 68h1v1h-1zM66 68h1v1h-1zM68 68h1v1h-1zM70 68h2v1h-2zM74 68h1v1h-1zM79 68h1v1h-1zM92 68h1v1h-1zM16 69h1v1h-1zM38 69h1v1h-1zM45 69h2v1h-2zM49 69h1v1h-1zM51 69h3v1h-3zM55 69h3v1h-3zM63 69h1v1h-1zM67 69h2v1h-2zM72 69h1v1h-1zM77 69h1v1h-1zM91 69h2v1h-2zM50 70h3v1h-3zM57 70h1v1h-1zM59 70h1v1h-1zM64 70h1v1h-1zM67 70h1v1h-1zM92 70h1v1h-1zM13 71h1v1h-1zM45 71h2v1h-2zM70 71h1v1h-1zM72 71h1v1h-1zM74 71h2v1h-2zM78 71h1v1h-1zM47 72h1v1h-1zM50 72h1v1h-1zM52 72h1v1h-1zM54 72h1v1h-1zM61 72h1v1h-1zM70 72h1v1h-1zM72 72h1v1h-1zM74 72h1v1h-1zM76 72h1v1h-1zM78 72h1v1h-1zM82 72h1v1h-1zM92 72h1v1h-1zM2 73h1v1h-1zM7 73h1v1h-1zM11 73h1v1h-1zM48 73h3v1h-3zM54 73h1v1h-1zM56 73h4v1h-4zM70 73h2v1h-2zM74 73h2v1h-2zM77 73h1v1h-1zM81 73h1v1h-1zM1 74h2v1h-2zM10 74h2v1h-2zM24 74h2v1h-2zM47 74h1v1h-1zM50 74h3v1h-3zM70 74h3v1h-3zM74 74h2v1h-2zM77 74h1v1h-1zM1 75h1v1h-1zM3 75h1v1h-1zM7 75h1v1h-1zM10 75h1v1h-1zM22 75h1v1h-1zM24 75h2v1h-2zM47 75h1v1h-1zM56 75h2v1h-2zM72 75h1v1h-1zM78 75h1v1h-1zM2 76h1v1h-1zM8 76h1v1h-1zM10 76h4v1h-4zM47 76h1v1h-1zM49 76h1v1h-1zM51 76h2v1h-2zM64 76h1v1h-1zM77 76h2v1h-2zM85 76h4v1h-4zM23 77h3v1h-3zM27 77h1v1h-1zM47 77h2v1h-2zM50 77h4v1h-4zM56 77h3v1h-3zM66 77h1v1h-1zM70 77h3v1h-3zM75 77h1v1h-1zM15 78h2v1h-2zM51 78h1v1h-1zM66 78h1v1h-1zM68 78h1v1h-1zM14 79h2v1h-2zM22 79h1v1h-1zM64 79h2v1h-2zM68 79h1v1h-1zM72 79h4v1h-4zM91 79h2v1h-2zM16 80h1v1h-1zM22 80h2v1h-2zM34 80h1v1h-1zM43 80h1v1h-1zM50 80h2v1h-2zM63 80h1v1h-1zM68 80h1v1h-1zM71 80h1v1h-1zM74 80h2v1h-2zM77 80h1v1h-1zM92 80h1v1h-1zM14 81h1v1h-1zM16 81h1v1h-1zM45 81h1v1h-1zM47 81h1v1h-1zM50 81h1v1h-1zM68 81h1v1h-1zM72 81h3v1h-3zM76 81h1v1h-1zM78 81h2v1h-2zM92 81h1v1h-1zM16 82h1v1h-1zM23 82h1v1h-1zM46 82h3v1h-3zM51 82h1v1h-1zM55 82h3v1h-3zM59 82h1v1h-1zM63 82h1v1h-1zM65 82h1v1h-1zM71 82h1v1h-1zM77 82h3v1h-3zM91 82h2v1h-2zM0 83h1v1h-1zM2 83h3v1h-3zM10 83h1v1h-1zM22 83h1v1h-1zM27 83h1v1h-1zM46 83h2v1h-2zM49 83h1v1h-1zM52 83h1v1h-1zM54 83h1v1h-1zM57 83h2v1h-2zM64 83h1v1h-1zM66 83h1v1h-1zM75 83h1v1h-1zM82 83h1v1h-1zM92 83h1v1h-1zM3 84h2v1h-2zM7 84h1v1h-1zM15 84h1v1h-1zM17 84h1v1h-1zM30 84h1v1h-1zM40 84h1v1h-1zM50 84h1v1h-1zM52 84h2v1h-2zM55 84h4v1h-4zM63 84h1v1h-1zM67 84h1v1h-1zM75 84h3v1h-3zM82 84h1v1h-1zM15 85h1v1h-1zM19 85h1v1h-1zM47 85h1v1h-1zM49 85h1v1h-1zM51 85h1v1h-1zM55 85h1v1h-1zM57 85h1v1h-1zM59 85h1v1h-1zM63 85h1v1h-1zM65 85h1v1h-1zM68 85h1v1h-1zM72 85h4v1h-4zM78 85h1v1h-1z" fill="#ffc3c3"/>
<path d="M12 0h1v1h-1zM28 0h1v1h-1zM32 0h1v1h-1zM43 0h1v1h-1zM45 0h1v1h-1zM47 0h1v1h-1zM61 0h1v1h-1zM77 0h2v1h-2zM81 0h2v1h-2zM25 1h2v1h-2zM42 1h1v1h-1zM45 1h1v1h-1zM47 1h1v1h-1zM60 1h1v1h-1zM73 1h1v1h-1zM91 1h1v1h-1zM26 2h1v1h-1zM28 2h1v1h-1zM34 2h1v1h-1zM43 2h1v1h-1zM73 2h1v1h-1zM81 2h1v1h-1zM92 2h1v1h-1zM15 3h1v1h-1zM25 3h1v1h-1zM28 3h2v1h-2zM58 3h1v1h-1zM72 3h2v1h-2zM76 3h4v1h-4zM25 4h1v1h-1zM29 4h1v1h-1zM43 4h1v1h-1zM61 4h1v1h-1zM73 4h1v1h-1zM75 4h1v1h-1zM80 4h1v1h-1zM82 4h1v1h-1zM92 4h1v1h-1zM25 5h1v1h-1zM42 5h1v1h-1zM56 5h1v1h-1zM58 5h2v1h-2zM64 5h1v1h-1zM73 5h1v1h-1zM85 5h1v1h-1zM25 6h1v1h-1zM59 6h1v1h-1zM61 6h1v1h-1zM79 6h1v1h-1zM92 6h1v1h-1zM12 7h1v1h-1zM28 7h1v1h-1zM34 7h2v1h-2zM50 7h1v1h-1zM61 7h1v1h-1zM65 7h1v1h-1zM80 7h1v1h-1zM30 8h1v1h-1zM33 8h1v1h-1zM53 8h1v1h-1zM80 8h1v1h-1zM26 9h1v1h-1zM52 9h1v1h-1zM59 9h1v1h-1zM73 9h1v1h-1zM75 9h3v1h-3zM80 9h1v1h-1zM82 9h1v1h-1zM11 10h1v1h-1zM29 10h1v1h-1zM54 10h1v1h-1zM60 10h1v1h-1zM62 10h1v1h-1zM67 10h1v1h-1zM69 10h1v1h-1zM75 10h1v1h-1zM77 10h2v1h-2zM80 10h1v1h-1zM82 10h1v1h-1zM88 10h1v1h-1zM76 11h1v1h-1zM78 11h1v1h-1zM80 11h1v1h-1zM92 11h1v1h-1zM28 12h1v1h-1zM55 12h1v1h-1zM72 12h2v1h-2zM75 12h3v1h-3zM81 12h1v1h-1zM92 12h1v1h-1zM59 13h1v1h-1zM61 13h1v1h-1zM66 13h1v1h-1zM69 13h1v1h-1zM72 13h2v1h-2zM78 13h1v1h-1zM92 13h1v1h-1zM26 14h1v1h-1zM47 14h1v1h-1zM69 14h1v1h-1zM73 14h1v1h-1zM79 14h2v1h-2zM82 14h1v1h-1zM92 14h1v1h-1zM26 15h1v1h-1zM48 15h1v1h-1zM54 15h1v1h-1zM72 15h1v1h-1zM77 15h1v1h-1zM26 16h1v1h-1zM29 16h1v1h-1zM52 16h1v1h-1zM60 16h2v1h-2zM72 16h1v1h-1zM74 16h1v1h-1zM76 16h1v1h-1zM79 16h2v1h-2zM82 16h1v1h-1zM92 16h1v1h-1zM28 17h1v1h-1zM73 17h1v1h-1zM77 17h1v1h-1zM2 18h2v1h-2zM8 18h1v1h-1zM25 18h1v1h-1zM32 18h1v1h-1zM48 18h2v1h-2zM59 18h2v1h-2zM74 18h1v1h-1zM79 18h2v1h-2zM90 18h1v1h-1zM92 18h1v1h-1zM24 19h2v1h-2zM28 19h1v1h-1zM64 19h1v1h-1zM71 19h1v1h-1zM90 19h1v1h-1zM7 20h2v1h-2zM10 20h2v1h-2zM24 20h1v1h-1zM60 20h1v1h-1zM70 20h1v1h-1zM81 20h1v1h-1zM90 20h1v1h-1zM5 21h1v1h-1zM7 21h5v1h-5zM18 21h1v1h-1zM23 21h1v1h-1zM49 21h1v1h-1zM54 21h1v1h-1zM61 21h1v1h-1zM68 21h1v1h-1zM74 21h4v1h-4zM79 21h1v1h-1zM11 22h1v1h-1zM22 22h2v1h-2zM45 22h1v1h-1zM48 22h6v1h-6zM55 22h2v1h-2zM58 22h1v1h-1zM72 22h1v1h-1zM78 22h1v1h-1zM89 22h2v1h-2zM11 23h1v1h-1zM22 23h1v1h-1zM50 23h3v1h-3zM55 23h2v1h-2zM60 23h1v1h-1zM68 23h1v1h-1zM89 23h2v1h-2zM15 24h1v1h-1zM50 24h2v1h-2zM56 24h1v1h-1zM60 24h2v1h-2zM72 24h1v1h-1zM81 24h2v1h-2zM89 24h2v1h-2zM1 25h2v1h-2zM66 25h2v1h-2zM75 25h2v1h-2zM78 25h1v1h-1zM82 25h1v1h-1zM86 25h1v1h-1zM89 25h2v1h-2zM45 26h1v1h-1zM51 26h1v1h-1zM59 26h4v1h-4zM68 26h1v1h-1zM72 26h1v1h-1zM74 26h1v1h-1zM78 26h1v1h-1zM89 26h1v1h-1zM9 27h2v1h-2zM52 27h1v1h-1zM54 27h1v1h-1zM59 27h2v1h-2zM62 27h1v1h-1zM67 27h1v1h-1zM76 27h1v1h-1zM78 27h1v1h-1zM89 27h1v1h-1zM2 28h1v1h-1zM5 28h2v1h-2zM25 28h1v1h-1zM45 28h1v1h-1zM49 28h1v1h-1zM51 28h2v1h-2zM54 28h1v1h-1zM57 28h1v1h-1zM60 28h1v1h-1zM67 28h1v1h-1zM72 28h1v1h-1zM76 28h1v1h-1zM85 28h2v1h-2zM40 29h2v1h-2zM45 29h1v1h-1zM49 29h1v1h-1zM52 29h5v1h-5zM58 29h1v1h-1zM60 29h1v1h-1zM73 29h1v1h-1zM80 29h1v1h-1zM85 29h3v1h-3zM90 29h1v1h-1zM20 30h1v1h-1zM22 30h2v1h-2zM48 30h1v1h-1zM50 30h1v1h-1zM54 30h1v1h-1zM60 30h1v1h-1zM65 30h2v1h-2zM73 30h5v1h-5zM9 31h3v1h-3zM51 31h1v1h-1zM55 31h1v1h-1zM61 31h1v1h-1zM77 31h1v1h-1zM4 32h1v1h-1zM8 32h1v1h-1zM25 32h1v1h-1zM53 32h1v1h-1zM55 32h1v1h-1zM60 32h1v1h-1zM62 32h1v1h-1zM74 32h1v1h-1zM77 32h1v1h-1zM79 32h1v1h-1zM81 32h1v1h-1zM1 33h1v1h-1zM22 33h1v1h-1zM36 33h1v1h-1zM62 33h6v1h-6zM76 33h1v1h-1zM89 33h1v1h-1zM2 34h2v1h-2zM7 34h1v1h-1zM20 34h1v1h-1zM47 34h1v1h-1zM50 34h2v1h-2zM63 34h1v1h-1zM65 34h1v1h-1zM76 34h1v1h-1zM89 34h2v1h-2zM92 34h1v1h-1zM6 35h1v1h-1zM9 35h1v1h-1zM46 35h2v1h-2zM49 35h1v1h-1zM52 35h2v1h-2zM60 35h1v1h-1zM62 35h1v1h-1zM86 35h1v1h-1zM90 35h3v1h-3zM11 36h1v1h-1zM15 36h1v1h-1zM46 36h1v1h-1zM50 36h6v1h-6zM57 36h1v1h-1zM59 36h2v1h-2zM62 36h2v1h-2zM86 36h1v1h-1zM90 36h3v1h-3zM20 37h1v1h-1zM25 37h1v1h-1zM29 37h1v1h-1zM41 37h1v1h-1zM56 37h1v1h-1zM59 37h2v1h-2zM62 37h1v1h-1zM67 37h1v1h-1zM76 37h1v1h-1zM88 37h1v1h-1zM52 38h1v1h-1zM54 38h1v1h-1zM62 38h1v1h-1zM75 38h1v1h-1zM78 38h1v1h-1zM86 38h1v1h-1zM89 38h1v1h-1zM52 39h1v1h-1zM54 39h1v1h-1zM67 39h1v1h-1zM74 39h1v1h-1zM88 39h1v1h-1zM90 39h1v1h-1zM27 40h1v1h-1zM31 40h1v1h-1zM34 40h1v1h-1zM45 40h1v1h-1zM57 40h1v1h-1zM61 40h1v1h-1zM67 40h1v1h-1zM70 40h1v1h-1zM72 40h4v1h-4zM89 40h2v1h-2zM61 41h1v1h-1zM75 41h1v1h-1zM87 41h1v1h-1zM90 41h1v1h-1zM48 42h1v1h-1zM50 42h1v1h-1zM54 42h1v1h-1zM57 42h1v1h-1zM60 42h1v1h-1zM84 42h2v1h-2zM87 42h2v1h-2zM90 42h1v1h-1zM23 43h1v1h-1zM52 43h1v1h-1zM55 43h1v1h-1zM60 43h2v1h-2zM64 43h1v1h-1zM68 43h1v1h-1zM74 43h2v1h-2zM77 43h1v1h-1zM84 43h5v1h-5zM90 43h1v1h-1zM32 44h2v1h-2zM48 44h1v1h-1zM50 44h2v1h-2zM54 44h5v1h-5zM60 44h1v1h-1zM74 44h1v1h-1zM78 44h1v1h-1zM85 44h4v1h-4zM90 44h2v1h-2zM72 45h1v1h-1zM77 45h1v1h-1zM83 45h1v1h-1zM91 45h1v1h-1zM26 46h1v1h-1zM48 46h1v1h-1zM55 46h2v1h-2zM60 46h1v1h-1zM65 46h1v1h-1zM72 46h1v1h-1zM74 46h2v1h-2zM78 46h1v1h-1zM26 47h1v1h-1zM55 47h2v1h-2zM60 47h1v1h-1zM73 47h1v1h-1zM78 47h1v1h-1zM84 47h1v1h-1zM88 47h4v1h-4zM26 48h1v1h-1zM28 48h3v1h-3zM35 48h1v1h-1zM37 48h1v1h-1zM48 48h1v1h-1zM55 48h2v1h-2zM73 48h1v1h-1zM78 48h2v1h-2zM16 49h1v1h-1zM48 49h1v1h-1zM55 49h3v1h-3zM65 49h1v1h-1zM73 49h2v1h-2zM87 49h1v1h-1zM24 50h1v1h-1zM51 50h4v1h-4zM58 50h2v1h-2zM83 50h1v1h-1zM85 50h1v1h-1zM89 50h2v1h-2zM92 50h1v1h-1zM11 51h1v1h-1zM14 51h1v1h-1zM50 51h2v1h-2zM53 51h1v1h-1zM62 51h1v1h-1zM73 51h1v1h-1zM76 51h1v1h-1zM83 51h1v1h-1zM87 51h3v1h-3zM91 51h1v1h-1zM15 52h1v1h-1zM49 52h4v1h-4zM54 52h1v1h-1zM58 52h2v1h-2zM61 52h2v1h-2zM77 52h1v1h-1zM83 52h1v1h-1zM87 52h1v1h-1zM15 53h1v1h-1zM49 53h2v1h-2zM52 53h1v1h-1zM58 53h1v1h-1zM60 53h1v1h-1zM62 53h1v1h-1zM67 53h1v1h-1zM84 53h7v1h-7zM48 54h1v1h-1zM50 54h4v1h-4zM58 54h3v1h-3zM62 54h1v1h-1zM77 54h1v1h-1zM84 54h3v1h-3zM90 54h1v1h-1zM15 55h1v1h-1zM48 55h1v1h-1zM57 55h1v1h-1zM62 55h1v1h-1zM64 55h1v1h-1zM84 55h1v1h-1zM86 55h1v1h-1zM89 55h1v1h-1zM92 55h1v1h-1zM9 56h1v1h-1zM28 56h1v1h-1zM48 56h1v1h-1zM51 56h2v1h-2zM59 56h2v1h-2zM62 56h1v1h-1zM72 56h1v1h-1zM86 56h1v1h-1zM88 56h1v1h-1zM48 57h2v1h-2zM79 57h2v1h-2zM22 58h1v1h-1zM49 58h1v1h-1zM63 58h1v1h-1zM67 58h1v1h-1zM87 58h1v1h-1zM45 59h1v1h-1zM48 59h3v1h-3zM53 59h1v1h-1zM62 59h2v1h-2zM66 59h1v1h-1zM72 59h1v1h-1zM77 59h1v1h-1zM89 59h3v1h-3zM22 60h1v1h-1zM48 60h1v1h-1zM61 60h1v1h-1zM63 60h1v1h-1zM78 60h1v1h-1zM89 60h1v1h-1zM48 61h3v1h-3zM61 61h1v1h-1zM67 61h1v1h-1zM78 61h3v1h-3zM82 61h1v1h-1zM89 61h2v1h-2zM48 62h1v1h-1zM50 62h1v1h-1zM62 62h1v1h-1zM66 62h1v1h-1zM68 62h1v1h-1zM11 63h1v1h-1zM23 63h1v1h-1zM48 63h1v1h-1zM55 63h5v1h-5zM61 63h2v1h-2zM72 63h1v1h-1zM78 63h1v1h-1zM86 63h1v1h-1zM1 64h1v1h-1zM24 64h1v1h-1zM54 64h1v1h-1zM64 64h1v1h-1zM72 64h1v1h-1zM85 64h2v1h-2zM91 64h1v1h-1zM50 65h1v1h-1zM52 65h1v1h-1zM54 65h1v1h-1zM56 65h1v1h-1zM65 65h1v1h-1zM81 65h1v1h-1zM90 65h1v1h-1zM50 66h1v1h-1zM52 66h1v1h-1zM56 66h2v1h-2zM59 66h2v1h-2zM63 66h3v1h-3zM91 66h2v1h-2zM48 67h1v1h-1zM50 67h1v1h-1zM52 67h1v1h-1zM54 67h1v1h-1zM59 67h1v1h-1zM64 67h1v1h-1zM67 68h1v1h-1zM73 68h1v1h-1zM77 68h1v1h-1zM91 68h1v1h-1zM50 69h1v1h-1zM54 69h1v1h-1zM58 69h2v1h-2zM64 69h1v1h-1zM66 69h1v1h-1zM86 69h1v1h-1zM16 70h1v1h-1zM48 70h2v1h-2zM54 70h1v1h-1zM65 70h2v1h-2zM87 70h1v1h-1zM91 70h1v1h-1zM28 71h1v1h-1zM48 71h1v1h-1zM52 71h1v1h-1zM55 71h2v1h-2zM59 71h2v1h-2zM63 71h3v1h-3zM76 71h2v1h-2zM62 72h4v1h-4zM67 72h1v1h-1zM75 72h1v1h-1zM77 72h1v1h-1zM88 72h1v1h-1zM90 72h2v1h-2zM3 73h1v1h-1zM10 73h1v1h-1zM12 73h1v1h-1zM45 73h1v1h-1zM51 73h2v1h-2zM60 73h1v1h-1zM72 73h1v1h-1zM78 73h1v1h-1zM88 73h1v1h-1zM22 74h1v1h-1zM53 74h2v1h-2zM59 74h1v1h-1zM82 74h1v1h-1zM88 74h1v1h-1zM91 74h2v1h-2zM26 75h2v1h-2zM48 75h1v1h-1zM51 75h2v1h-2zM59 75h2v1h-2zM63 75h2v1h-2zM73 75h2v1h-2zM86 75h1v1h-1zM92 75h1v1h-1zM3 76h1v1h-1zM6 76h2v1h-2zM17 76h1v1h-1zM50 76h1v1h-1zM56 76h3v1h-3zM63 76h1v1h-1zM65 76h1v1h-1zM74 76h2v1h-2zM90 76h2v1h-2zM19 77h1v1h-1zM62 77h1v1h-1zM67 77h2v1h-2zM85 77h3v1h-3zM91 77h2v1h-2zM14 78h1v1h-1zM22 78h1v1h-1zM48 78h1v1h-1zM56 78h5v1h-5zM80 78h1v1h-1zM84 78h1v1h-1zM86 78h1v1h-1zM92 78h1v1h-1zM23 79h1v1h-1zM48 79h1v1h-1zM50 79h4v1h-4zM55 79h1v1h-1zM58 79h2v1h-2zM66 79h1v1h-1zM87 79h1v1h-1zM90 79h1v1h-1zM10 80h1v1h-1zM52 80h2v1h-2zM55 80h2v1h-2zM58 80h3v1h-3zM64 80h2v1h-2zM72 80h1v1h-1zM91 80h1v1h-1zM3 81h1v1h-1zM48 81h1v1h-1zM51 81h2v1h-2zM54 81h7v1h-7zM64 81h2v1h-2zM67 81h1v1h-1zM75 81h1v1h-1zM87 81h1v1h-1zM90 81h2v1h-2zM12 82h1v1h-1zM15 82h1v1h-1zM49 82h1v1h-1zM54 82h1v1h-1zM58 82h1v1h-1zM64 82h1v1h-1zM72 82h4v1h-4zM83 82h3v1h-3zM87 82h1v1h-1zM90 82h1v1h-1zM48 83h1v1h-1zM50 83h2v1h-2zM53 83h1v1h-1zM55 83h2v1h-2zM60 83h1v1h-1zM63 83h1v1h-1zM68 83h1v1h-1zM86 83h1v1h-1zM90 83h2v1h-2zM59 84h1v1h-1zM90 84h3v1h-3zM14 85h1v1h-1zM20 85h1v1h-1zM48 85h1v1h-1zM52 85h1v1h-1zM56 85h1v1h-1zM60 85h1v1h-1zM67 85h1v1h-1zM81 85h1v1h-1zM90 85h3v1h-3z" fill="#ffa3a3"/>
<path d="M25 0h1v1h-1zM34 0h2v1h-2zM60 0h1v1h-1zM73 0h1v1h-1zM76 0h1v1h-1zM90 0h3v1h-3zM28 1h1v1h-1zM34 1h1v1h-1zM72 1h1v1h-1zM76 1h1v1h-1zM80 1h2v1h-2zM90 1h1v1h-1zM92 1h1v1h-1zM25 2h1v1h-1zM47 2h1v1h-1zM72 2h1v1h-1zM80 2h1v1h-1zM61 3h1v1h-1zM75 3h1v1h-1zM81 3h1v1h-1zM83 3h1v1h-1zM85 3h3v1h-3zM91 3h1v1h-1zM26 4h1v1h-1zM60 4h1v1h-1zM74 4h1v1h-1zM77 4h2v1h-2zM89 4h2v1h-2zM57 5h1v1h-1zM61 5h1v1h-1zM75 5h1v1h-1zM77 5h2v1h-2zM92 5h1v1h-1zM71 6h3v1h-3zM77 6h2v1h-2zM85 6h2v1h-2zM88 6h2v1h-2zM71 7h2v1h-2zM76 7h1v1h-1zM78 7h1v1h-1zM92 7h1v1h-1zM28 8h1v1h-1zM60 8h1v1h-1zM73 8h1v1h-1zM77 8h1v1h-1zM79 8h1v1h-1zM81 8h1v1h-1zM35 9h1v1h-1zM61 9h1v1h-1zM69 9h1v1h-1zM79 9h1v1h-1zM81 9h1v1h-1zM90 9h3v1h-3zM59 10h1v1h-1zM73 10h1v1h-1zM79 10h1v1h-1zM85 10h3v1h-3zM92 10h1v1h-1zM69 11h1v1h-1zM72 11h2v1h-2zM75 11h1v1h-1zM79 11h1v1h-1zM25 12h1v1h-1zM42 12h1v1h-1zM60 12h1v1h-1zM69 12h3v1h-3zM74 12h1v1h-1zM78 12h1v1h-1zM85 12h1v1h-1zM89 12h1v1h-1zM60 13h1v1h-1zM70 13h2v1h-2zM75 13h1v1h-1zM77 13h1v1h-1zM70 14h2v1h-2zM77 14h2v1h-2zM89 14h3v1h-3zM49 15h1v1h-1zM61 15h1v1h-1zM74 15h3v1h-3zM78 15h1v1h-1zM80 15h3v1h-3zM91 15h2v1h-2zM77 16h1v1h-1zM81 16h1v1h-1zM89 16h3v1h-3zM74 17h2v1h-2zM78 17h1v1h-1zM89 17h2v1h-2zM92 17h1v1h-1zM7 18h1v1h-1zM19 18h1v1h-1zM54 18h1v1h-1zM61 18h1v1h-1zM87 18h3v1h-3zM91 18h1v1h-1zM42 19h1v1h-1zM70 19h1v1h-1zM75 19h1v1h-1zM9 20h1v1h-1zM91 20h1v1h-1zM17 21h1v1h-1zM48 21h1v1h-1zM81 21h1v1h-1zM89 21h2v1h-2zM61 22h1v1h-1zM86 22h2v1h-2zM91 22h1v1h-1zM23 23h1v1h-1zM66 23h1v1h-1zM86 23h2v1h-2zM91 23h1v1h-1zM11 24h1v1h-1zM52 24h4v1h-4zM76 24h2v1h-2zM85 24h2v1h-2zM51 25h6v1h-6zM73 25h1v1h-1zM84 25h1v1h-1zM88 25h1v1h-1zM76 26h1v1h-1zM86 26h1v1h-1zM11 27h1v1h-1zM66 27h1v1h-1zM77 27h1v1h-1zM86 27h1v1h-1zM88 27h1v1h-1zM87 28h4v1h-4zM8 29h1v1h-1zM39 29h1v1h-1zM75 29h1v1h-1zM88 29h2v1h-2zM91 29h1v1h-1zM11 30h1v1h-1zM17 30h1v1h-1zM21 30h1v1h-1zM24 30h1v1h-1zM29 30h1v1h-1zM56 30h1v1h-1zM59 30h1v1h-1zM62 30h1v1h-1zM86 30h1v1h-1zM90 30h1v1h-1zM49 31h1v1h-1zM54 31h1v1h-1zM56 31h2v1h-2zM62 31h1v1h-1zM67 31h1v1h-1zM73 31h3v1h-3zM86 31h6v1h-6zM7 32h1v1h-1zM21 32h1v1h-1zM49 32h1v1h-1zM52 32h1v1h-1zM57 32h1v1h-1zM64 32h1v1h-1zM73 32h1v1h-1zM75 32h2v1h-2zM84 32h1v1h-1zM88 32h1v1h-1zM91 32h1v1h-1zM85 33h2v1h-2zM90 33h3v1h-3zM4 34h1v1h-1zM59 34h1v1h-1zM85 34h1v1h-1zM0 35h1v1h-1zM10 35h1v1h-1zM54 35h1v1h-1zM59 35h1v1h-1zM64 35h1v1h-1zM67 35h1v1h-1zM85 35h1v1h-1zM87 35h2v1h-2zM2 36h2v1h-2zM56 36h1v1h-1zM64 36h2v1h-2zM85 36h1v1h-1zM88 36h1v1h-1zM21 37h1v1h-1zM80 37h1v1h-1zM86 37h2v1h-2zM48 38h1v1h-1zM59 38h2v1h-2zM66 38h1v1h-1zM77 38h1v1h-1zM85 38h1v1h-1zM90 38h1v1h-1zM21 39h1v1h-1zM59 39h2v1h-2zM63 39h1v1h-1zM68 39h1v1h-1zM75 39h1v1h-1zM78 39h1v1h-1zM85 39h2v1h-2zM89 39h1v1h-1zM33 40h1v1h-1zM60 40h1v1h-1zM62 40h1v1h-1zM71 40h1v1h-1zM76 41h1v1h-1zM80 41h1v1h-1zM88 41h2v1h-2zM27 42h1v1h-1zM55 42h2v1h-2zM61 42h2v1h-2zM74 42h1v1h-1zM89 42h1v1h-1zM59 44h1v1h-1zM61 44h2v1h-2zM84 44h1v1h-1zM89 44h1v1h-1zM27 46h1v1h-1zM57 46h1v1h-1zM59 46h1v1h-1zM61 46h1v1h-1zM84 46h1v1h-1zM88 46h4v1h-4zM27 47h1v1h-1zM57 47h2v1h-2zM61 47h1v1h-1zM65 47h1v1h-1zM31 48h1v1h-1zM57 48h2v1h-2zM59 49h1v1h-1zM67 49h1v1h-1zM57 50h1v1h-1zM87 50h1v1h-1zM16 51h1v1h-1zM48 51h2v1h-2zM52 51h1v1h-1zM59 51h1v1h-1zM48 52h1v1h-1zM88 52h1v1h-1zM48 53h1v1h-1zM54 53h1v1h-1zM59 53h1v1h-1zM61 53h1v1h-1zM83 53h1v1h-1zM49 54h1v1h-1zM54 54h1v1h-1zM61 54h1v1h-1zM83 54h1v1h-1zM88 54h2v1h-2zM14 55h1v1h-1zM51 55h2v1h-2zM55 55h1v1h-1zM73 55h1v1h-1zM87 55h2v1h-2zM14 56h1v1h-1zM29 56h1v1h-1zM49 56h1v1h-1zM53 56h1v1h-1zM55 56h1v1h-1zM57 56h1v1h-1zM61 56h1v1h-1zM83 56h1v1h-1zM85 56h1v1h-1zM87 56h1v1h-1zM89 56h1v1h-1zM60 57h2v1h-2zM63 57h1v1h-1zM81 57h1v1h-1zM16 58h1v1h-1zM23 58h1v1h-1zM85 58h2v1h-2zM54 59h1v1h-1zM87 59h2v1h-2zM62 60h1v1h-1zM66 60h1v1h-1zM77 60h1v1h-1zM85 60h1v1h-1zM62 61h2v1h-2zM66 61h1v1h-1zM85 61h2v1h-2zM88 61h1v1h-1zM55 62h1v1h-1zM77 62h2v1h-2zM85 62h2v1h-2zM91 62h1v1h-1zM60 63h1v1h-1zM85 63h1v1h-1zM87 63h2v1h-2zM10 64h1v1h-1zM48 64h1v1h-1zM60 64h1v1h-1zM62 64h1v1h-1zM65 64h1v1h-1zM48 65h1v1h-1zM53 65h1v1h-1zM60 65h1v1h-1zM62 65h2v1h-2zM89 65h1v1h-1zM91 65h1v1h-1zM53 66h2v1h-2zM86 66h1v1h-1zM88 66h1v1h-1zM90 66h1v1h-1zM62 67h1v1h-1zM86 67h3v1h-3zM62 68h1v1h-1zM75 68h1v1h-1zM85 68h3v1h-3zM90 68h1v1h-1zM60 69h3v1h-3zM65 69h1v1h-1zM85 69h1v1h-1zM87 69h1v1h-1zM89 69h2v1h-2zM68 70h1v1h-1zM88 70h3v1h-3zM57 71h2v1h-2zM61 71h2v1h-2zM87 71h1v1h-1zM60 72h1v1h-1zM85 72h3v1h-3zM1 73h1v1h-1zM62 73h1v1h-1zM67 73h2v1h-2zM86 73h1v1h-1zM92 73h1v1h-1zM62 74h1v1h-1zM67 74h1v1h-1zM78 74h1v1h-1zM85 74h2v1h-2zM90 74h1v1h-1zM50 75h1v1h-1zM62 75h1v1h-1zM75 75h1v1h-1zM82 75h1v1h-1zM85 75h1v1h-1zM87 75h1v1h-1zM90 75h1v1h-1zM1 76h1v1h-1zM48 76h1v1h-1zM54 76h2v1h-2zM84 76h1v1h-1zM22 77h1v1h-1zM60 77h1v1h-1zM64 77h1v1h-1zM89 77h2v1h-2zM23 78h1v1h-1zM52 78h1v1h-1zM55 78h1v1h-1zM67 78h1v1h-1zM88 78h1v1h-1zM56 79h2v1h-2zM85 79h2v1h-2zM89 79h1v1h-1zM57 80h1v1h-1zM85 80h3v1h-3zM89 80h2v1h-2zM20 81h1v1h-1zM61 81h2v1h-2zM85 81h2v1h-2zM89 81h1v1h-1zM61 82h1v1h-1zM89 82h1v1h-1zM61 83h1v1h-1zM89 83h1v1h-1zM5 84h1v1h-1zM46 84h1v1h-1zM48 84h2v1h-2zM60 84h2v1h-2zM86 84h2v1h-2zM89 84h1v1h-1zM46 85h1v1h-1zM50 85h1v1h-1zM61 85h2v1h-2zM82 85h1v1h-1zM86 85h1v1h-1zM88 85h2v1h-2z" fill="#ff8484"/>
<path d="M80 0h1v1h-1zM85 0h3v1h-3zM89 0h1v1h-1zM78 1h1v1h-1zM85 1h2v1h-2zM89 1h1v1h-1zM60 2h1v1h-1zM85 2h2v1h-2zM35 3h1v1h-1zM49 3h1v1h-1zM56 3h1v1h-1zM69 3h1v1h-1zM74 3h1v1h-1zM90 3h1v1h-1zM69 4h1v1h-1zM76 4h1v1h-1zM84 4h2v1h-2zM72 5h1v1h-1zM74 5h1v1h-1zM83 5h1v1h-1zM69 6h2v1h-2zM74 6h2v1h-2zM87 6h1v1h-1zM69 7h2v1h-2zM85 7h2v1h-2zM91 7h1v1h-1zM69 8h3v1h-3zM75 8h1v1h-1zM78 8h1v1h-1zM85 8h2v1h-2zM88 8h1v1h-1zM92 8h1v1h-1zM74 9h1v1h-1zM78 9h1v1h-1zM85 9h2v1h-2zM88 9h2v1h-2zM61 10h1v1h-1zM70 10h1v1h-1zM74 10h1v1h-1zM89 10h2v1h-2zM74 11h1v1h-1zM89 11h2v1h-2zM84 12h1v1h-1zM86 12h3v1h-3zM74 13h1v1h-1zM81 13h1v1h-1zM88 13h4v1h-4zM74 14h2v1h-2zM81 14h1v1h-1zM85 14h2v1h-2zM60 15h1v1h-1zM85 15h5v1h-5zM85 16h1v1h-1zM88 16h1v1h-1zM69 17h1v1h-1zM71 17h1v1h-1zM79 17h1v1h-1zM88 17h1v1h-1zM9 18h2v1h-2zM46 18h2v1h-2zM85 18h2v1h-2zM40 19h1v1h-1zM67 19h1v1h-1zM86 20h1v1h-1zM92 20h1v1h-1zM67 21h1v1h-1zM73 21h1v1h-1zM82 21h1v1h-1zM84 22h2v1h-2zM49 23h1v1h-1zM84 24h1v1h-1zM88 24h1v1h-1zM91 24h2v1h-2zM10 25h1v1h-1zM85 25h1v1h-1zM66 26h1v1h-1zM77 26h1v1h-1zM85 26h1v1h-1zM87 26h2v1h-2zM90 26h1v1h-1zM61 27h1v1h-1zM87 27h1v1h-1zM90 27h2v1h-2zM7 28h2v1h-2zM58 28h1v1h-1zM92 28h1v1h-1zM6 29h1v1h-1zM59 29h1v1h-1zM84 29h1v1h-1zM92 29h1v1h-1zM10 30h1v1h-1zM85 30h1v1h-1zM87 30h3v1h-3zM91 30h2v1h-2zM83 31h3v1h-3zM92 31h1v1h-1zM9 32h1v1h-1zM61 32h1v1h-1zM67 32h1v1h-1zM83 32h1v1h-1zM86 32h2v1h-2zM89 32h1v1h-1zM92 32h1v1h-1zM60 33h1v1h-1zM77 33h1v1h-1zM1 34h1v1h-1zM5 34h1v1h-1zM86 34h1v1h-1zM7 35h1v1h-1zM87 36h1v1h-1zM22 37h1v1h-1zM53 37h1v1h-1zM85 37h1v1h-1zM9 38h1v1h-1zM24 38h1v1h-1zM61 38h1v1h-1zM87 38h2v1h-2zM1 39h1v1h-1zM9 39h1v1h-1zM24 39h1v1h-1zM61 39h1v1h-1zM65 39h1v1h-1zM77 39h1v1h-1zM30 40h1v1h-1zM32 40h1v1h-1zM84 40h1v1h-1zM26 41h1v1h-1zM29 41h1v1h-1zM37 41h1v1h-1zM62 41h1v1h-1zM74 41h1v1h-1zM78 41h1v1h-1zM59 42h1v1h-1zM83 42h1v1h-1zM62 43h1v1h-1zM65 44h1v1h-1zM75 44h1v1h-1zM27 45h1v1h-1zM62 46h1v1h-1zM83 46h1v1h-1zM83 47h1v1h-1zM27 48h1v1h-1zM32 48h2v1h-2zM60 48h2v1h-2zM80 48h1v1h-1zM84 48h1v1h-1zM22 49h1v1h-1zM26 49h1v1h-1zM61 49h1v1h-1zM49 50h1v1h-1zM56 50h1v1h-1zM91 50h1v1h-1zM54 51h1v1h-1zM55 53h1v1h-1zM55 54h2v1h-2zM87 54h1v1h-1zM53 55h1v1h-1zM56 55h1v1h-1zM85 55h1v1h-1zM15 56h1v1h-1zM50 56h1v1h-1zM54 56h1v1h-1zM82 56h1v1h-1zM62 57h1v1h-1zM70 57h1v1h-1zM77 57h1v1h-1zM60 59h1v1h-1zM84 59h3v1h-3zM68 60h1v1h-1zM86 60h3v1h-3zM77 61h1v1h-1zM87 61h1v1h-1zM84 62h1v1h-1zM88 62h1v1h-1zM80 63h1v1h-1zM84 63h1v1h-1zM61 64h1v1h-1zM88 64h1v1h-1zM90 64h1v1h-1zM85 65h2v1h-2zM62 66h1v1h-1zM85 66h1v1h-1zM87 66h1v1h-1zM3 67h1v1h-1zM60 67h2v1h-2zM85 67h1v1h-1zM89 67h2v1h-2zM61 68h1v1h-1zM88 68h2v1h-2zM84 69h1v1h-1zM88 69h1v1h-1zM60 70h4v1h-4zM85 70h2v1h-2zM88 71h1v1h-1zM90 71h2v1h-2zM61 73h1v1h-1zM82 73h1v1h-1zM85 73h1v1h-1zM90 73h1v1h-1zM60 74h2v1h-2zM64 74h1v1h-1zM68 74h1v1h-1zM65 75h1v1h-1zM83 76h1v1h-1zM89 76h1v1h-1zM61 77h1v1h-1zM54 78h1v1h-1zM73 78h1v1h-1zM85 78h1v1h-1zM54 79h1v1h-1zM67 79h1v1h-1zM88 79h1v1h-1zM62 80h1v1h-1zM84 80h1v1h-1zM88 80h1v1h-1zM84 81h1v1h-1zM62 82h1v1h-1zM66 82h1v1h-1zM88 82h1v1h-1zM15 83h1v1h-1zM85 83h1v1h-1zM54 84h1v1h-1zM62 84h1v1h-1zM84 84h2v1h-2zM88 84h1v1h-1zM53 85h1v1h-1zM84 85h1v1h-1z" fill="#ff6363"/>
<path d="M69 0h1v1h-1zM72 0h1v1h-1zM75 0h1v1h-1zM79 0h1v1h-1zM84 0h1v1h-1zM88 0h1v1h-1zM75 1h1v1h-1zM42 2h1v1h-1zM76 2h1v1h-1zM78 2h1v1h-1zM89 2h3v1h-3zM72 4h1v1h-1zM86 4h3v1h-3zM69 5h1v1h-1zM84 5h1v1h-1zM87 5h2v1h-2zM90 5h1v1h-1zM60 6h1v1h-1zM84 6h1v1h-1zM90 6h1v1h-1zM25 7h1v1h-1zM75 7h1v1h-1zM79 7h1v1h-1zM81 7h2v1h-2zM84 8h1v1h-1zM89 8h1v1h-1zM28 9h1v1h-1zM72 9h1v1h-1zM84 9h1v1h-1zM71 10h1v1h-1zM83 10h2v1h-2zM91 10h1v1h-1zM28 11h1v1h-1zM84 11h1v1h-1zM87 11h1v1h-1zM90 12h2v1h-2zM84 13h1v1h-1zM87 13h1v1h-1zM72 14h1v1h-1zM84 14h1v1h-1zM69 15h1v1h-1zM90 15h1v1h-1zM69 16h1v1h-1zM86 16h1v1h-1zM70 17h1v1h-1zM81 17h1v1h-1zM91 17h1v1h-1zM75 18h1v1h-1zM41 19h1v1h-1zM5 20h1v1h-1zM84 20h2v1h-2zM86 21h3v1h-3zM88 22h1v1h-1zM92 22h1v1h-1zM84 23h2v1h-2zM83 25h1v1h-1zM87 25h1v1h-1zM92 25h1v1h-1zM84 26h1v1h-1zM92 26h1v1h-1zM85 27h1v1h-1zM9 28h2v1h-2zM84 28h1v1h-1zM91 28h1v1h-1zM7 29h1v1h-1zM10 29h1v1h-1zM61 29h1v1h-1zM6 30h1v1h-1zM84 30h1v1h-1zM10 32h1v1h-1zM15 32h1v1h-1zM50 32h1v1h-1zM54 32h1v1h-1zM56 32h1v1h-1zM66 32h1v1h-1zM85 32h1v1h-1zM2 33h1v1h-1zM19 33h1v1h-1zM53 34h2v1h-2zM87 34h1v1h-1zM84 35h1v1h-1zM89 35h1v1h-1zM1 36h1v1h-1zM10 36h1v1h-1zM49 36h1v1h-1zM84 36h1v1h-1zM89 36h1v1h-1zM35 37h1v1h-1zM50 37h1v1h-1zM52 37h1v1h-1zM89 37h1v1h-1zM11 39h1v1h-1zM92 39h1v1h-1zM77 40h1v1h-1zM87 40h1v1h-1zM24 41h2v1h-2zM28 41h1v1h-1zM60 41h1v1h-1zM73 41h1v1h-1zM26 42h1v1h-1zM52 44h1v1h-1zM64 44h1v1h-1zM67 44h1v1h-1zM72 44h1v1h-1zM26 45h1v1h-1zM62 45h1v1h-1zM72 47h1v1h-1zM62 48h1v1h-1zM83 48h1v1h-1zM60 49h1v1h-1zM66 49h1v1h-1zM83 49h2v1h-2zM91 49h1v1h-1zM55 50h1v1h-1zM61 50h2v1h-2zM56 53h1v1h-1zM57 54h1v1h-1zM54 55h1v1h-1zM83 55h1v1h-1zM56 56h1v1h-1zM67 56h1v1h-1zM73 56h1v1h-1zM45 57h1v1h-1zM66 57h1v1h-1zM71 57h1v1h-1zM67 59h1v1h-1zM84 61h1v1h-1zM89 64h1v1h-1zM61 65h1v1h-1zM84 65h1v1h-1zM61 66h1v1h-1zM84 66h1v1h-1zM89 66h1v1h-1zM83 71h2v1h-2zM53 73h1v1h-1zM63 73h2v1h-2zM87 73h1v1h-1zM89 73h1v1h-1zM91 73h1v1h-1zM63 74h1v1h-1zM87 74h1v1h-1zM89 74h1v1h-1zM59 76h3v1h-3zM59 77h1v1h-1zM83 77h1v1h-1zM50 78h1v1h-1zM60 79h1v1h-1zM84 79h1v1h-1zM54 80h1v1h-1zM83 80h1v1h-1zM63 81h1v1h-1zM83 81h1v1h-1zM88 81h1v1h-1zM1 83h1v1h-1zM16 83h1v1h-1zM65 83h1v1h-1zM83 83h2v1h-2zM87 83h1v1h-1zM83 84h1v1h-1zM16 85h1v1h-1zM54 85h1v1h-1zM85 85h1v1h-1zM87 85h1v1h-1z" fill="#ff4242"/>
<path d="M26 0h1v1h-1zM74 0h1v1h-1zM70 1h2v1h-2zM77 1h1v1h-1zM83 1h2v1h-2zM88 1h1v1h-1zM69 2h1v1h-1zM75 2h1v1h-1zM77 2h1v1h-1zM84 2h1v1h-1zM87 2h2v1h-2zM57 3h1v1h-1zM70 3h1v1h-1zM88 3h1v1h-1zM42 4h1v1h-1zM71 4h1v1h-1zM89 5h1v1h-1zM91 6h1v1h-1zM83 7h1v1h-1zM87 7h2v1h-2zM25 8h1v1h-1zM72 8h1v1h-1zM87 8h1v1h-1zM90 8h1v1h-1zM83 9h1v1h-1zM87 9h1v1h-1zM83 11h1v1h-1zM88 11h1v1h-1zM85 13h1v1h-1zM83 14h1v1h-1zM87 14h1v1h-1zM70 15h2v1h-2zM83 15h2v1h-2zM84 16h1v1h-1zM82 17h1v1h-1zM24 18h1v1h-1zM38 18h1v1h-1zM67 18h1v1h-1zM84 18h1v1h-1zM68 19h1v1h-1zM66 20h1v1h-1zM68 20h1v1h-1zM76 20h1v1h-1zM66 21h1v1h-1zM84 21h2v1h-2zM92 21h1v1h-1zM62 22h1v1h-1zM83 22h1v1h-1zM61 23h1v1h-1zM83 24h1v1h-1zM87 24h1v1h-1zM91 26h1v1h-1zM84 27h1v1h-1zM92 27h1v1h-1zM83 28h1v1h-1zM38 29h1v1h-1zM83 29h1v1h-1zM5 30h1v1h-1zM7 30h1v1h-1zM25 30h1v1h-1zM51 30h1v1h-1zM61 30h1v1h-1zM11 32h1v1h-1zM51 32h1v1h-1zM11 33h1v1h-1zM84 33h1v1h-1zM87 33h1v1h-1zM60 34h1v1h-1zM91 34h1v1h-1zM4 35h1v1h-1zM83 36h1v1h-1zM19 37h1v1h-1zM49 37h1v1h-1zM74 37h1v1h-1zM84 37h1v1h-1zM91 37h1v1h-1zM20 38h1v1h-1zM76 38h1v1h-1zM84 38h1v1h-1zM91 38h2v1h-2zM25 39h1v1h-1zM76 39h1v1h-1zM84 39h1v1h-1zM87 39h1v1h-1zM91 39h1v1h-1zM26 40h1v1h-1zM83 40h1v1h-1zM88 40h1v1h-1zM84 41h1v1h-1zM73 42h1v1h-1zM73 43h1v1h-1zM83 43h1v1h-1zM68 44h1v1h-1zM73 44h1v1h-1zM55 45h1v1h-1zM58 46h1v1h-1zM59 47h1v1h-1zM62 47h1v1h-1zM59 48h1v1h-1zM62 49h1v1h-1zM88 49h1v1h-1zM88 50h1v1h-1zM55 51h1v1h-1zM61 51h1v1h-1zM56 52h1v1h-1zM57 53h1v1h-1zM67 54h1v1h-1zM49 55h1v1h-1zM85 57h1v1h-1zM87 57h1v1h-1zM62 58h1v1h-1zM84 58h1v1h-1zM88 58h1v1h-1zM61 59h1v1h-1zM84 60h1v1h-1zM60 61h1v1h-1zM60 62h1v1h-1zM87 62h1v1h-1zM79 63h1v1h-1zM83 63h1v1h-1zM83 65h1v1h-1zM88 65h1v1h-1zM48 66h1v1h-1zM83 66h1v1h-1zM84 67h1v1h-1zM60 68h1v1h-1zM84 68h1v1h-1zM83 69h1v1h-1zM83 70h2v1h-2zM83 72h2v1h-2zM89 72h1v1h-1zM65 73h1v1h-1zM84 73h1v1h-1zM65 74h1v1h-1zM61 75h1v1h-1zM89 75h1v1h-1zM62 76h1v1h-1zM54 77h1v1h-1zM63 77h1v1h-1zM49 78h1v1h-1zM61 78h2v1h-2zM83 78h1v1h-1zM49 79h1v1h-1zM61 79h2v1h-2zM83 79h1v1h-1zM48 80h2v1h-2zM49 81h1v1h-1zM68 82h1v1h-1zM16 84h1v1h-1zM66 84h1v1h-1zM66 85h1v1h-1zM83 85h1v1h-1z" fill="#ff2222"/>
<path d="M42 0h1v1h-1zM70 0h2v1h-2zM83 0h1v1h-1zM69 1h1v1h-1zM74 1h1v1h-1zM79 1h1v1h-1zM87 1h1v1h-1zM70 2h2v1h-2zM74 2h1v1h-1zM79 2h1v1h-1zM83 2h1v1h-1zM71 3h1v1h-1zM84 3h1v1h-1zM89 3h1v1h-1zM70 4h1v1h-1zM83 4h1v1h-1zM91 4h1v1h-1zM70 5h2v1h-2zM76 5h1v1h-1zM91 5h1v1h-1zM76 6h1v1h-1zM83 6h1v1h-1zM74 7h1v1h-1zM84 7h1v1h-1zM89 7h2v1h-2zM74 8h1v1h-1zM82 8h2v1h-2zM91 8h1v1h-1zM70 9h2v1h-2zM72 10h1v1h-1zM70 11h2v1h-2zM81 11h1v1h-1zM85 11h2v1h-2zM91 11h1v1h-1zM83 12h1v1h-1zM83 13h1v1h-1zM86 13h1v1h-1zM88 14h1v1h-1zM70 16h2v1h-2zM78 16h1v1h-1zM83 16h1v1h-1zM87 16h1v1h-1zM83 17h5v1h-5zM4 18h1v1h-1zM11 18h1v1h-1zM36 18h2v1h-2zM39 18h3v1h-3zM83 18h1v1h-1zM26 19h1v1h-1zM38 19h1v1h-1zM43 19h5v1h-5zM63 19h1v1h-1zM84 19h1v1h-1zM17 20h2v1h-2zM77 20h1v1h-1zM83 20h1v1h-1zM87 20h2v1h-2zM80 21h1v1h-1zM83 21h1v1h-1zM91 21h1v1h-1zM24 22h1v1h-1zM58 23h1v1h-1zM62 23h1v1h-1zM83 23h1v1h-1zM88 23h1v1h-1zM92 23h1v1h-1zM11 25h1v1h-1zM83 26h1v1h-1zM83 27h1v1h-1zM11 28h1v1h-1zM59 28h1v1h-1zM61 28h1v1h-1zM4 29h1v1h-1zM9 29h1v1h-1zM11 29h1v1h-1zM8 30h2v1h-2zM19 30h1v1h-1zM52 30h1v1h-1zM83 30h1v1h-1zM5 31h4v1h-4zM0 32h3v1h-3zM16 32h1v1h-1zM20 32h1v1h-1zM3 33h1v1h-1zM24 33h2v1h-2zM83 33h1v1h-1zM88 33h1v1h-1zM61 34h1v1h-1zM83 34h2v1h-2zM1 35h2v1h-2zM11 35h1v1h-1zM61 35h1v1h-1zM83 35h1v1h-1zM61 36h1v1h-1zM28 37h1v1h-1zM30 37h1v1h-1zM48 37h1v1h-1zM51 37h1v1h-1zM54 37h1v1h-1zM61 37h1v1h-1zM73 37h1v1h-1zM75 37h1v1h-1zM83 37h1v1h-1zM92 37h1v1h-1zM21 38h3v1h-3zM83 38h1v1h-1zM10 39h1v1h-1zM20 39h1v1h-1zM22 39h2v1h-2zM48 39h1v1h-1zM83 39h1v1h-1zM29 40h1v1h-1zM27 41h1v1h-1zM30 41h6v1h-6zM69 41h1v1h-1zM83 41h1v1h-1zM67 42h1v1h-1zM75 42h1v1h-1zM72 43h1v1h-1zM83 44h1v1h-1zM27 49h1v1h-1zM58 49h1v1h-1zM15 50h1v1h-1zM15 51h1v1h-1zM56 51h2v1h-2zM55 52h1v1h-1zM57 52h1v1h-1zM12 55h1v1h-1zM50 55h1v1h-1zM61 55h1v1h-1zM72 55h1v1h-1zM13 56h1v1h-1zM64 56h1v1h-1zM68 56h1v1h-1zM67 57h2v1h-2zM83 57h2v1h-2zM86 57h1v1h-1zM88 57h1v1h-1zM60 58h1v1h-1zM66 58h1v1h-1zM68 58h1v1h-1zM83 58h1v1h-1zM68 59h1v1h-1zM83 59h1v1h-1zM60 60h1v1h-1zM67 60h1v1h-1zM83 60h1v1h-1zM68 61h1v1h-1zM83 61h1v1h-1zM83 62h1v1h-1zM49 64h1v1h-1zM83 64h2v1h-2zM87 65h1v1h-1zM83 67h1v1h-1zM83 68h1v1h-1zM89 71h1v1h-1zM48 72h1v1h-1zM83 73h1v1h-1zM83 74h2v1h-2zM53 75h2v1h-2zM83 75h2v1h-2zM65 77h1v1h-1zM84 77h1v1h-1zM61 80h1v1h-1zM67 80h1v1h-1zM67 82h1v1h-1zM14 83h1v1h-1zM62 83h1v1h-1zM88 83h1v1h-1z" fill="#ff0000"/>
</g>
<path d="M146.30 489.1v1118.0M154.28 489.1v1118.0M162.25 489.1v1118.0M170.23 489.1v1118.0M178.21 489.1v1118.0M186.19 489.1v1118.0M194.16 489.1v1118.0M202.14 489.1v1118.0M210.12 489.1v1118.0M218.09 489.1v1118.0M226.07 489.1v1118.0M234.05 489.1v1118.0M242.02 489.1v1118.0M250.00 489.1v1118.0M257.98 489.1v1118.0M265.96 489.1v1118.0M273.93 489.1v1118.0M281.91 489.1v1118.0M289.89 489.1v1118.0M297.86 489.1v1118.0M305.84 489.1v1118.0M313.82 489.1v1118.0M321.79 489.1v1118.0M329.77 489.1v1118.0M337.75 489.1v1118.0M345.73 489.1v1118.0M353.70 489.1v1118.0M361.68 489.1v1118.0M369.66 489.1v1118.0M377.63 489.1v1118.0M385.61 489.1v1118.0M393.59 489.1v1118.0M401.56 489.1v1118.0M409.54 489.1v1118.0M417.52 489.1v1118.0M425.50 489.1v1118.0M433.47 489.1v1118.0M441.45 489.1v1118.0M449.43 489.1v1118.0M457.40 489.1v1118.0M465.38 489.1v1118.0M473.36 489.1v1118.0M481.33 489.1v1118.0M489.31 489.1v1118.0M497.29 489.1v1118.0M505.27 489.1v1118.0M513.24 489.1v1118.0M521.22 489.1v1118.0M529.20 489.1v1118.0M537.17 489.1v1118.0M545.15 489.1v1118.0M553.13 489.1v1118.0M561.10 489.1v1118.0M569.08 489.1v1118.0M577.06 489.1v1118.0M585.04 489.1v1118.0M593.01 489.1v1118.0M600.99 489.1v1118.0M608.97 489.1v1118.0M616.94 489.1v1118.0M624.92 489.1v1118.0M632.90 489.1v1118.0M640.87 489.1v1118.0M648.85 489.1v1118.0M656.83 489.1v1118.0M664.81 489.1v1118.0M672.78 489.1v1118.0M680.76 489.1v1118.0M688.74 489.1v1118.0M696.71 489.1v1118.0M704.69 489.1v1118.0M712.67 489.1v1118.0M720.64 489.1v1118.0M728.62 489.1v1118.0M736.60 489.1v1118.0M744.58 489.1v1118.0M752.55 489.1v1118.0M760.53 489.1v1118.0M768.51 489.1v1118.0M776.48 489.1v1118.0M784.46 489.1v1118.0M792.44 489.1v1118.0M800.41 489.1v1118.0M808.39 489.1v1118.0M816.37 489.1v1118.0M824.35 489.1v1118.0M832.32 489.1v1118.0M840.30 489.1v1118.0M848.28 489.1v1118.0M856.25 489.1v1118.0M864.23 489.1v1118.0M872.21 489.1v1118.0M880.18 489.1v1118.0M888.16 489.1v1118.0M146.3 489.1h741.9M146.3 502.1h741.9M146.3 515.1h741.9M146.3 528.1h741.9M146.3 541.1h741.9M146.3 554.1h741.9M146.3 567.1h741.9M146.3 580.1h741.9M146.3 593.1h741.9M146.3 606.1h741.9M146.3 619.1h741.9M146.3 632.1h741.9M146.3 645.1h741.9M146.3 658.1h741.9M146.3 671.1h741.9M146.3 684.1h741.9M146.3 697.1h741.9M146.3 710.1h741.9M146.3 723.1h741.9M146.3 736.1h741.9M146.3 749.1h741.9M146.3 762.1h741.9M146.3 775.1h741.9M146.3 788.1h741.9M146.3 801.1h741.9M146.3 814.1h741.9M146.3 827.1h741.9M146.3 840.1h741.9M146.3 853.1h741.9M146.3 866.1h741.9M146.3 879.1h741.9M146.3 892.1h741.9M146.3 905.1h741.9M146.3 918.1h741.9M146.3 931.1h741.9M146.3 944.1h741.9M146.3 957.1h741.9M146.3 970.1h741.9M146.3 983.1h741.9M146.3 996.1h741.9M146.3 1009.1h741.9M146.3 1022.1h741.9M146.3 1035.1h741.9M146.3 1048.1h741.9M146.3 1061.1h741.9M146.3 1074.1h741.9M146.3 1087.1h741.9M146.3 1100.1h741.9M146.3 1113.1h741.9M146.3 1126.1h741.9M146.3 1139.1h741.9M146.3 1152.1h741.9M146.3 1165.1h741.9M146.3 1178.1h741.9M146.3 1191.1h741.9M146.3 1204.1h741.9M146.3 1217.1h741.9M146.3 1230.1h741.9M146.3 1243.1h741.9M146.3 1256.1h741.9M146.3 1269.1h741.9M146.3 1282.1h741.9M146.3 1295.1h741.9M146.3 1308.1h741.9M146.3 1321.1h741.9M146.3 1334.1h741.9M146.3 1347.1h741.9M146.3 1360.1h741.9M146.3 1373.1h741.9M146.3 1386.1h741.9M146.3 1399.1h741.9M146.3 1412.1h741.9M146.3 1425.1h741.9M146.3 1438.1h741.9M146.3 1451.1h741.9M146.3 1464.1h741.9M146.3 1477.1h741.9M146.3 1490.1h741.9M146.3 1503.1h741.9M146.3 1516.1h741.9M146.3 1529.1h741.9M146.3 1542.1h741.9M146.3 1555.1h741.9M146.3 1568.1h741.9M146.3 1581.1h741.9M146.3 1594.1h741.9M146.3 1607.1h741.9" stroke="#999" stroke-width="1.35" fill="none"/>
<rect x="110.6" y="489.1" width="27.0" height="13.0" fill="#0000ff"/>
<rect x="110.6" y="502.1" width="27.0" height="13.0" fill="#0000ff"/>
<rect x="110.6" y="515.1" width="27.0" height="13.0" fill="#0000ff"/>
<rect x="110.6" y="528.1" width="27.0" height="13.0" fill="#0000ff"/>
<rect x="110.6" y="541.1" width="27.0" height="13.0" fill="#0000ff"/>
<rect x="110.6" y="554.1" width="27.0" height="13.0" fill="#0000ff"/>
<rect x="110.6" y="567.1" width="27.0" height="13.0" fill="#0000ff"/>
<rect x="110.6" y="580.1" width="27.0" height="13.0" fill="#0000ff"/>
<rect x="110.6" y="593.1" width="27.0" height="13.0" fill="#0000ff"/>
<rect x="110.6" y="606.1" width="27.0" height="13.0" fill="#0000ff"/>
<rect x="110.6" y="619.1" width="27.0" height="13.0" fill="#0000ff"/>
<rect x="110.6" y="632.1" width="27.0" height="13.0" fill="#0000ff"/>
<rect x="110.6" y="645.1" width="27.0" height="13.0" fill="#0000ff"/>
<rect x="110.6" y="658.1" width="27.0" height="13.0" fill="#0000ff"/>
<rect x="110.6" y="671.1" width="27.0" height="13.0" fill="#0000ff"/>
<rect x="110.6" y="684.1" width="27.0" height="13.0" fill="#0000ff"/>
<rect x="110.6" y="697.1" width="27.0" height="13.0" fill="#0000ff"/>
<rect x="110.6" y="710.1" width="27.0" height="13.0" fill="#0000ff"/>
<rect x="110.6" y="723.1" width="27.0" height="13.0" fill="#00ff00"/>
<rect x="110.6" y="736.1" width="27.0" height="13.0" fill="#00ff00"/>
<rect x="110.6" y="749.1" width="27.0" height="13.0" fill="#ff0000"/>
<rect x="110.6" y="762.1" width="27.0" height="13.0" fill="#ff0000"/>
<rect x="110.6" y="775.1" width="27.0" height="13.0" fill="#ff0000"/>
<rect x="110.6" y="788.1" width="27.0" height="13.0" fill="#ff0000"/>
<rect x="110.6" y="801.1" width="27.0" height="13.0" fill="#ff0000"/>
<rect x="110.6" y="814.1" width="27.0" height="13.0" fill="#ff0000"/>
<rect x="110.6" y="827.1" width="27.0" height="13.0" fill="#ff0000"/>
<rect x="110.6" y="840.1" width="27.0" height="13.0" fill="#ff0000"/>
<rect x="110.6" y="853.1" width="27.0" height="13.0" fill="#ff0000"/>
<rect x="110.6" y="866.1" width="27.0" height="13.0" fill="#00ff00"/>
<rect x="110.6" y="879.1" width="27.0" height="13.0" fill="#ff0000"/>
<rect x="110.6" y="892.1" width="27.0" height="13.0" fill="#ff0000"/>
<rect x="110.6" y="905.1" width="27.0" height="13.0" fill="#ff0000"/>
<rect x="110.6" y="918.1" width="27.0" height="13.0" fill="#00ff00"/>
<rect x="110.6" y="931.1" width="27.0" height="13.0" fill="#00ff00"/>
<rect x="110.6" y="944.1" width="27.0" height="13.0" fill="#00ff00"/>
<rect x="110.6" y="957.1" width="27.0" height="13.0" fill="#00ff00"/>
<rect x="110.6" y="970.1" width="27.0" height="13.0" fill="#ff0000"/>
<rect x="110.6" y="983.1" width="27.0" height="13.0" fill="#ff0000"/>
<rect x="110.6" y="996.1" width="27.0" height="13.0" fill="#ff0000"/>
<rect x="110.6" y="1009.1" width="27.0" height="13.0" fill="#b81af0"/>
<rect x="110.6" y="1022.1" width="27.0" height="13.0" fill="#b81af0"/>
<rect x="110.6" y="1035.1" width="27.0" height="13.0" fill="#b81af0"/>
<rect x="110.6" y="1048.1" width="27.0" height="13.0" fill="#b81af0"/>
<rect x="110.6" y="1061.1" width="27.0" height="13.0" fill="#b81af0"/>
<rect x="110.6" y="1074.1" width="27.0" height="13.0" fill="#b81af0"/>
<rect x="110.6" y="1087.1" width="27.0" height="13.0" fill="#b81af0"/>
<rect x="110.6" y="1100.1" width="27.0" height="13.0" fill="#b81af0"/>
<rect x="110.6" y="1113.1" width="27.0" height="13.0" fill="#b81af0"/>
<rect x="110.6" y="1126.1" width="27.0" height="13.0" fill="#b81af0"/>
<rect x="110.6" y="1139.1" width="27.0" height="13.0" fill="#ff0000"/>
<rect x="110.6" y="1152.1" width="27.0" height="13.0" fill="#ff0000"/>
<rect x="110.6" y="1165.1" width="27.0" height="13.0" fill="#b81af0"/>
<rect x="110.6" y="1178.1" width="27.0" height="13.0" fill="#b81af0"/>
<rect x="110.6" y="1191.1" width="27.0" height="13.0" fill="#b81af0"/>
<rect x="110.6" y="1204.1" width="27.0" height="13.0" fill="#b81af0"/>
<rect x="110.6" y="1217.1" width="27.0" height="13.0" fill="#b81af0"/>
<rect x="110.6" y="1230.1" width="27.0" height="13.0" fill="#b81af0"/>
<rect x="110.6" y="1243.1" width="27.0" height="13.0" fill="#b81af0"/>
<rect x="110.6" y="1256.1" width="27.0" height="13.0" fill="#b81af0"/>
<rect x="110.6" y="1269.1" width="27.0" height="13.0" fill="#b81af0"/>
<rect x="110.6" y="1282.1" width="27.0" height="13.0" fill="#b81af0"/>
<rect x="110.6" y="1295.1" width="27.0" height="13.0" fill="#b81af0"/>
<rect x="110.6" y="1308.1" width="27.0" height="13.0" fill="#b81af0"/>
<rect x="110.6" y="1321.1" width="27.0" height="13.0" fill="#00ff00"/>
<rect x="110.6" y="1334.1" width="27.0" height="13.0" fill="#00ff00"/>
<rect x="110.6" y="1347.1" width="27.0" height="13.0" fill="#00ff00"/>
<rect x="110.6" y="1360.1" width="27.0" height="13.0" fill="#00ff00"/>
<rect x="110.6" y="1373.1" width="27.0" height="13.0" fill="#b81af0"/>
<rect x="110.6" y="1386.1" width="27.0" height="13.0" fill="#00ff00"/>
<rect x="110.6" y="1399.1" width="27.0" height="13.0" fill="#00ff00"/>
<rect x="110.6" y="1412.1" width="27.0" height="13.0" fill="#00ff00"/>
<rect x="110.6" y="1425.1" width="27.0" height="13.0" fill="#00ff00"/>
<rect x="110.6" y="1438.1" width="27.0" height="13.0" fill="#00ff00"/>
<rect x="110.6" y="1451.1" width="27.0" height="13.0" fill="#00ff00"/>
<rect x="110.6" y="1464.1" width="27.0" height="13.0" fill="#00ff00"/>
<rect x="110.6" y="1477.1" width="27.0" height="13.0" fill="#00ff00"/>
<rect x="110.6" y="1490.1" width="27.0" height="13.0" fill="#00ff00"/>
<rect x="110.6" y="1503.1" width="27.0" height="13.0" fill="#b81af0"/>
<rect x="110.6" y="1516.1" width="27.0" height="13.0" fill="#b81af0"/>
<rect x="110.6" y="1529.1" width="27.0" height="13.0" fill="#b81af0"/>
<rect x="110.6" y="1542.1" width="27.0" height="13.0" fill="#00ff00"/>
<rect x="110.6" y="1555.1" width="27.0" height="13.0" fill="#b81af0"/>
<rect x="110.6" y="1568.1" width="27.0" height="13.0" fill="#00ff00"/>
<rect x="110.6" y="1581.1" width="27.0" height="13.0" fill="#00ff00"/>
<rect x="110.6" y="1594.1" width="27.0" height="13.0" fill="#00ff00"/>
<path d="M110.6 489.1h27.0M110.6 502.1h27.0M110.6 515.1h27.0M110.6 528.1h27.0M110.6 541.1h27.0M110.6 554.1h27.0M110.6 567.1h27.0M110.6 580.1h27.0M110.6 593.1h27.0M110.6 606.1h27.0M110.6 619.1h27.0M110.6 632.1h27.0M110.6 645.1h27.0M110.6 658.1h27.0M110.6 671.1h27.0M110.6 684.1h27.0M110.6 697.1h27.0M110.6 710.1h27.0M110.6 723.1h27.0M110.6 736.1h27.0M110.6 749.1h27.0M110.6 762.1h27.0M110.6 775.1h27.0M110.6 788.1h27.0M110.6 801.1h27.0M110.6 814.1h27.0M110.6 827.1h27.0M110.6 840.1h27.0M110.6 853.1h27.0M110.6 866.1h27.0M110.6 879.1h27.0M110.6 892.1h27.0M110.6 905.1h27.0M110.6 918.1h27.0M110.6 931.1h27.0M110.6 944.1h27.0M110.6 957.1h27.0M110.6 970.1h27.0M110.6 983.1h27.0M110.6 996.1h27.0M110.6 1009.1h27.0M110.6 1022.1h27.0M110.6 1035.1h27.0M110.6 1048.1h27.0M110.6 1061.1h27.0M110.6 1074.1h27.0M110.6 1087.1h27.0M110.6 1100.1h27.0M110.6 1113.1h27.0M110.6 1126.1h27.0M110.6 1139.1h27.0M110.6 1152.1h27.0M110.6 1165.1h27.0M110.6 1178.1h27.0M110.6 1191.1h27.0M110.6 1204.1h27.0M110.6 1217.1h27.0M110.6 1230.1h27.0M110.6 1243.1h27.0M110.6 1256.1h27.0M110.6 1269.1h27.0M110.6 1282.1h27.0M110.6 1295.1h27.0M110.6 1308.1h27.0M110.6 1321.1h27.0M110.6 1334.1h27.0M110.6 1347.1h27.0M110.6 1360.1h27.0M110.6 1373.1h27.0M110.6 1386.1h27.0M110.6 1399.1h27.0M110.6 1412.1h27.0M110.6 1425.1h27.0M110.6 1438.1h27.0M110.6 1451.1h27.0M110.6 1464.1h27.0M110.6 1477.1h27.0M110.6 1490.1h27.0M110.6 1503.1h27.0M110.6 1516.1h27.0M110.6 1529.1h27.0M110.6 1542.1h27.0M110.6 1555.1h27.0M110.6 1568.1h27.0M110.6 1581.1h27.0M110.6 1594.1h27.0M110.6 1607.1h27.0" stroke="#999" stroke-width="1.3" fill="none"/>
<rect x="110.6" y="489.1" width="27.0" height="1118.0" fill="none" stroke="#999" stroke-width="1.5"/>
<text transform="translate(134.8,1614.2) rotate(-90)" text-anchor="end" font-weight="bold" font-size="28px">group</text>
<path d="M150.3 76.0L150.3 72.0M158.3 76.0L158.3 72.0M166.2 76.0L166.2 72.0M174.2 76.0L174.2 72.0M182.2 76.0L182.2 72.0M150.3 72.0L182.2 72.0M190.2 76.0L190.2 72.3M198.2 76.0L198.2 72.3M206.1 76.0L206.1 72.3M214.1 76.0L214.1 72.3M190.2 72.3L214.1 72.3M222.1 76.0L222.1 72.0M230.1 76.0L230.1 72.0M238.0 76.0L238.0 72.0M222.1 72.0L238.0 72.0M166.2 72.0L166.2 69.6M202.1 72.3L202.1 69.6M230.1 72.0L230.1 69.6M166.2 69.6L230.1 69.6M246.0 76.0L246.0 72.0M254.0 76.0L254.0 72.0M262.0 76.0L262.0 72.0M269.9 76.0L269.9 72.0M277.9 76.0L277.9 72.0M246.0 72.0L277.9 72.0M285.9 76.0L285.9 72.0M293.9 76.0L293.9 72.0M301.9 76.0L301.9 72.0M309.8 76.0L309.8 72.0M317.8 76.0L317.8 72.0M285.9 72.0L317.8 72.0M325.8 76.0L325.8 72.2M333.8 76.0L333.8 72.2M341.7 76.0L341.7 72.2M349.7 76.0L349.7 72.2M325.8 72.2L349.7 72.2M301.9 72.0L301.9 70.2M337.7 72.2L337.7 70.2M301.9 70.2L337.7 70.2M262.0 72.0L262.0 68.8M319.8 70.2L319.8 68.8M262.0 68.8L319.8 68.8M198.2 69.6L198.2 67.0M290.9 68.8L290.9 67.0M198.2 67.0L290.9 67.0M357.7 76.0L357.7 72.0M365.7 76.0L365.7 72.0M373.6 76.0L373.6 72.0M357.7 72.0L373.6 72.0M381.6 76.0L381.6 71.7M389.6 76.0L389.6 71.7M397.6 76.0L397.6 71.7M405.6 76.0L405.6 71.7M381.6 71.7L405.6 71.7M413.5 76.0L413.5 72.0M421.5 76.0L421.5 72.0M429.5 76.0L429.5 72.0M413.5 72.0L429.5 72.0M365.7 72.0L365.7 69.2M393.6 71.7L393.6 69.2M421.5 72.0L421.5 69.2M365.7 69.2L421.5 69.2M437.5 76.0L437.5 72.0M445.4 76.0L445.4 72.0M453.4 76.0L453.4 72.0M437.5 72.0L453.4 72.0M461.4 76.0L461.4 72.0M469.4 76.0L469.4 72.0M477.3 76.0L477.3 72.0M461.4 72.0L477.3 72.0M445.4 72.0L445.4 70.9M469.4 72.0L469.4 70.9M445.4 70.9L469.4 70.9M485.3 76.0L485.3 72.0M493.3 76.0L493.3 72.0M501.3 76.0L501.3 72.0M485.3 72.0L501.3 72.0M509.3 76.0L509.3 72.0M517.2 76.0L517.2 72.0M525.2 76.0L525.2 72.0M509.3 72.0L525.2 72.0M493.3 72.0L493.3 70.9M517.2 72.0L517.2 70.9M493.3 70.9L517.2 70.9M457.4 70.9L457.4 70.0M505.3 70.9L505.3 70.0M457.4 70.0L505.3 70.0M393.6 69.2L393.6 64.7M481.3 70.0L481.3 64.7M393.6 64.7L481.3 64.7M240.5 67.0L240.5 58.7M428.8 64.7L428.8 58.7M240.5 58.7L428.8 58.7M533.2 76.0L533.2 72.0M541.2 76.0L541.2 72.0M549.1 76.0L549.1 72.0M533.2 72.0L549.1 72.0M557.1 76.0L557.1 72.0M565.1 76.0L565.1 72.0M573.1 76.0L573.1 72.0M581.0 76.0L581.0 72.0M557.1 72.0L581.0 72.0M589.0 76.0L589.0 71.7M597.0 76.0L597.0 71.7M605.0 76.0L605.0 71.7M613.0 76.0L613.0 71.7M620.9 76.0L620.9 71.7M589.0 71.7L620.9 71.7M541.2 72.0L541.2 69.0M569.1 72.0L569.1 69.0M605.0 71.7L605.0 69.0M541.2 69.0L605.0 69.0M628.9 76.0L628.9 72.0M636.9 76.0L636.9 72.0M644.9 76.0L644.9 72.0M628.9 72.0L644.9 72.0M652.8 76.0L652.8 72.0M660.8 76.0L660.8 72.0M668.8 76.0L668.8 72.0M652.8 72.0L668.8 72.0M676.8 76.0L676.8 72.0M684.7 76.0L684.7 72.0M692.7 76.0L692.7 72.0M676.8 72.0L692.7 72.0M660.8 72.0L660.8 70.3M684.7 72.0L684.7 70.3M660.8 70.3L684.7 70.3M636.9 72.0L636.9 68.6M672.8 70.3L672.8 68.6M636.9 68.6L672.8 68.6M573.1 69.0L573.1 66.7M654.8 68.6L654.8 66.7M573.1 66.7L654.8 66.7M700.7 76.0L700.7 72.0M708.7 76.0L708.7 72.0M716.7 76.0L716.7 72.0M700.7 72.0L716.7 72.0M724.6 76.0L724.6 72.0M732.6 76.0L732.6 72.0M740.6 76.0L740.6 72.0M748.6 76.0L748.6 72.0M724.6 72.0L748.6 72.0M708.7 72.0L708.7 70.0M736.6 72.0L736.6 70.0M708.7 70.0L736.6 70.0M756.5 76.0L756.5 72.0M764.5 76.0L764.5 72.0M772.5 76.0L772.5 72.0M756.5 72.0L772.5 72.0M780.5 76.0L780.5 72.0M788.4 76.0L788.4 72.0M796.4 76.0L796.4 72.0M804.4 76.0L804.4 72.0M780.5 72.0L804.4 72.0M764.5 72.0L764.5 70.4M792.4 72.0L792.4 70.4M764.5 70.4L792.4 70.4M722.6 70.0L722.6 68.3M778.5 70.4L778.5 68.3M722.6 68.3L778.5 68.3M812.4 76.0L812.4 72.0M820.4 76.0L820.4 72.0M812.4 72.0L820.4 72.0M828.3 76.0L828.3 72.0M836.3 76.0L836.3 72.0M844.3 76.0L844.3 72.0M852.3 76.0L852.3 72.0M828.3 72.0L852.3 72.0M860.2 76.0L860.2 72.0M868.2 76.0L868.2 72.0M876.2 76.0L876.2 72.0M884.2 76.0L884.2 72.0M860.2 72.0L884.2 72.0M840.3 72.0L840.3 69.8M872.2 72.0L872.2 69.8M840.3 69.8L872.2 69.8M816.4 72.0L816.4 68.0M856.3 69.8L856.3 68.0M816.4 68.0L856.3 68.0M730.8 68.3L730.8 55.0M836.3 68.0L836.3 55.0M730.8 55.0L836.3 55.0M616.2 66.7L616.2 51.7M783.8 55.0L783.8 51.7M616.2 51.7L783.8 51.7M333.8 58.7L333.8 24.5M699.7 51.7L699.7 24.5M333.8 24.5L699.7 24.5" stroke="#000" stroke-width="1.35" fill="none" stroke-linecap="round" stroke-linejoin="round"/>
<path d="M106.2 508.6L102.5 508.6M106.2 521.6L102.5 521.6M102.5 508.6L102.5 521.6M106.2 495.6L98.5 495.6M102.5 515.1L98.5 515.1M98.5 495.6L98.5 515.1M106.2 547.6L100.4 547.6M106.2 560.6L100.4 560.6M106.2 573.6L100.4 573.6M100.4 547.6L100.4 573.6M106.2 586.6L99.8 586.6M106.2 599.6L99.8 599.6M106.2 612.6L99.8 612.6M99.8 586.6L99.8 612.6M100.4 560.6L99.0 560.6M99.8 599.6L99.0 599.6M99.0 560.6L99.0 599.6M106.2 625.6L100.1 625.6M106.2 638.6L100.1 638.6M106.2 651.6L100.1 651.6M100.1 625.6L100.1 651.6M106.2 664.6L99.9 664.6M106.2 677.6L99.9 677.6M99.9 664.6L99.9 677.6M100.1 638.6L98.7 638.6M99.9 671.1L98.7 671.1M98.7 638.6L98.7 671.1M106.2 690.6L100.6 690.6M106.2 703.6L100.6 703.6M106.2 716.6L100.6 716.6M100.6 690.6L100.6 716.6M98.7 654.9L97.8 654.9M100.6 703.6L97.8 703.6M97.8 654.9L97.8 703.6M99.0 580.1L96.4 580.1M97.8 679.2L96.4 679.2M96.4 580.1L96.4 679.2M106.2 534.6L95.0 534.6M96.4 629.7L95.0 629.7M95.0 534.6L95.0 629.7M98.5 505.4L92.4 505.4M95.0 582.1L92.4 582.1M92.4 505.4L92.4 582.1M106.2 729.6L91.0 729.6M106.2 742.6L91.0 742.6M91.0 729.6L91.0 742.6M106.2 755.6L100.0 755.6M106.2 768.6L100.0 768.6M106.2 781.6L100.0 781.6M100.0 755.6L100.0 781.6M106.2 794.6L100.5 794.6M106.2 807.6L100.5 807.6M106.2 820.6L100.5 820.6M100.5 794.6L100.5 820.6M100.5 807.6L99.3 807.6M106.2 833.6L99.3 833.6M99.3 807.6L99.3 833.6M106.2 846.6L100.5 846.6M106.2 859.6L100.5 859.6M100.5 846.6L100.5 859.6M106.2 872.6L100.8 872.6M106.2 885.6L100.8 885.6M100.8 872.6L100.8 885.6M100.5 853.1L99.0 853.1M100.8 879.1L99.0 879.1M99.0 853.1L99.0 879.1M99.0 866.1L98.4 866.1M106.2 898.6L98.4 898.6M98.4 866.1L98.4 898.6M99.3 820.6L97.5 820.6M98.4 882.4L97.5 882.4M97.5 820.6L97.5 882.4M106.2 911.6L101.1 911.6M106.2 924.6L101.1 924.6M101.1 911.6L101.1 924.6M97.5 851.5L96.1 851.5M101.1 918.1L96.1 918.1M96.1 851.5L96.1 918.1M100.0 768.6L93.7 768.6M96.1 884.8L93.7 884.8M93.7 768.6L93.7 884.8M106.2 937.6L99.8 937.6M106.2 950.6L99.8 950.6M99.8 937.6L99.8 950.6M99.8 944.1L100.5 944.1M106.2 963.6L100.5 963.6M100.5 944.1L100.5 963.6M93.7 826.7L91.0 826.7M100.5 953.9L91.0 953.9M91.0 826.7L91.0 953.9M106.2 976.6L100.9 976.6M106.2 989.6L100.9 989.6M106.2 1002.6L100.9 1002.6M100.9 976.6L100.9 1002.6M91.0 890.3L87.4 890.3M100.9 989.6L87.4 989.6M87.4 890.3L87.4 989.6M91.0 736.1L83.0 736.1M87.4 939.9L83.0 939.9M83.0 736.1L83.0 939.9M106.2 1015.6L99.0 1015.6M106.2 1028.6L99.0 1028.6M99.0 1015.6L99.0 1028.6M106.2 1054.6L101.2 1054.6M106.2 1067.6L101.2 1067.6M101.2 1054.6L101.2 1067.6M106.2 1041.6L100.5 1041.6M101.2 1061.1L100.5 1061.1M100.5 1041.6L100.5 1061.1M106.2 1093.6L100.5 1093.6M106.2 1106.6L100.5 1106.6M100.5 1093.6L100.5 1106.6M106.2 1080.6L100.3 1080.6M100.5 1100.1L100.3 1100.1M100.3 1080.6L100.3 1100.1M106.2 1119.6L100.3 1119.6M106.2 1132.6L100.3 1132.6M100.3 1119.6L100.3 1132.6M100.3 1090.3L96.0 1090.3M100.3 1126.1L96.0 1126.1M96.0 1090.3L96.0 1126.1M100.5 1051.3L94.0 1051.3M96.0 1108.2L94.0 1108.2M94.0 1051.3L94.0 1108.2M99.0 1022.1L91.0 1022.1M94.0 1079.8L91.0 1079.8M91.0 1022.1L91.0 1079.8M106.2 1158.6L100.8 1158.6M106.2 1171.6L100.8 1171.6M100.8 1158.6L100.8 1171.6M106.2 1197.6L100.0 1197.6M106.2 1210.6L100.0 1210.6M100.0 1197.6L100.0 1210.6M106.2 1223.6L99.9 1223.6M106.2 1236.6L99.9 1236.6M99.9 1223.6L99.9 1236.6M100.0 1204.1L98.7 1204.1M99.9 1230.1L98.7 1230.1M98.7 1204.1L98.7 1230.1M106.2 1184.6L98.0 1184.6M98.7 1217.1L98.0 1217.1M98.0 1184.6L98.0 1217.1M100.8 1165.1L97.0 1165.1M98.0 1200.8L97.0 1200.8M97.0 1165.1L97.0 1200.8M106.2 1145.6L94.8 1145.6M97.0 1183.0L94.8 1183.0M94.8 1145.6L94.8 1183.0M106.2 1249.6L101.1 1249.6M106.2 1262.6L101.1 1262.6M101.1 1249.6L101.1 1262.6M101.1 1256.1L100.5 1256.1M106.2 1275.6L100.5 1275.6M100.5 1256.1L100.5 1275.6M106.2 1288.6L100.3 1288.6M106.2 1301.6L100.3 1301.6M106.2 1314.6L100.3 1314.6M100.3 1288.6L100.3 1314.6M100.5 1265.8L95.5 1265.8M100.3 1301.6L95.5 1301.6M95.5 1265.8L95.5 1301.6M106.2 1327.6L99.8 1327.6M106.2 1340.6L99.8 1340.6M99.8 1327.6L99.8 1340.6M106.2 1366.6L100.3 1366.6M106.2 1379.6L100.3 1379.6M106.2 1392.6L100.3 1392.6M100.3 1366.6L100.3 1392.6M106.2 1405.6L99.9 1405.6M106.2 1418.6L99.9 1418.6M106.2 1431.6L99.9 1431.6M99.9 1405.6L99.9 1431.6M106.2 1444.6L100.0 1444.6M106.2 1457.6L100.0 1457.6M100.0 1444.6L100.0 1457.6M100.0 1451.1L100.5 1451.1M106.2 1470.6L100.5 1470.6M100.5 1451.1L100.5 1470.6M99.9 1418.6L99.7 1418.6M100.5 1460.8L99.7 1460.8M99.7 1418.6L99.7 1460.8M99.7 1439.7L99.2 1439.7M106.2 1483.6L99.2 1483.6M99.2 1439.7L99.2 1483.6M106.2 1496.6L101.2 1496.6M106.2 1509.6L101.2 1509.6M101.2 1496.6L101.2 1509.6M99.2 1461.7L98.5 1461.7M101.2 1503.1L98.5 1503.1M98.5 1461.7L98.5 1503.1M106.2 1535.6L100.1 1535.6M106.2 1548.6L100.1 1548.6M100.1 1535.6L100.1 1548.6M106.2 1522.6L100.5 1522.6M100.1 1542.1L100.5 1542.1M100.5 1522.6L100.5 1542.1M106.2 1561.6L101.0 1561.6M106.2 1574.6L101.0 1574.6M101.0 1561.6L101.0 1574.6M101.0 1568.1L100.5 1568.1M106.2 1587.6L100.5 1587.6M100.5 1568.1L100.5 1587.6M100.5 1577.8L99.9 1577.8M106.2 1600.6L99.9 1600.6M99.9 1577.8L99.9 1600.6M100.5 1532.3L99.6 1532.3M99.9 1589.2L99.6 1589.2M99.6 1532.3L99.6 1589.2M98.5 1482.4L97.6 1482.4M99.6 1560.8L97.6 1560.8M97.6 1482.4L97.6 1560.8M100.3 1379.6L96.6 1379.6M97.6 1521.6L96.6 1521.6M96.6 1379.6L96.6 1521.6M106.2 1353.6L94.6 1353.6M96.6 1450.6L94.6 1450.6M94.6 1353.6L94.6 1450.6M99.8 1334.1L92.5 1334.1M94.6 1402.1L92.5 1402.1M92.5 1334.1L92.5 1402.1M95.5 1283.7L90.0 1283.7M92.5 1368.1L90.0 1368.1M90.0 1283.7L90.0 1368.1M94.8 1164.3L82.5 1164.3M90.0 1372.9L82.5 1372.9M82.5 1164.3L82.5 1372.9M91.0 1050.4L76.4 1050.4M82.5 1282.5L76.4 1282.5M76.4 1050.4L76.4 1282.5M83.0 800.7L59.9 800.7M76.4 1166.2L59.9 1166.2M59.9 800.7L59.9 1166.2M92.4 543.2L21.6 543.2M59.9 982.4L21.6 982.4M21.6 543.2L21.6 982.4" stroke="#000" stroke-width="1.35" fill="none" stroke-linecap="round" stroke-linejoin="round"/>
<g font-weight="bold" fill="#000">
<text x="904.5" y="497.5" font-size="28px">group</text>
<rect x="905" y="514.2" width="30.8" height="30.4" fill="#0000ff"/>
<text x="955" y="534.5" font-size="24px" letter-spacing="0.5">HC</text>
<rect x="905" y="546.2" width="30.8" height="30.4" fill="#ff0000"/>
<text x="955" y="570.2" font-size="24px" letter-spacing="0.5">CI</text>
<rect x="905" y="578.3" width="30.8" height="30.4" fill="#00ff00"/>
<text x="955" y="605.9" font-size="24px" letter-spacing="0.5">NI</text>
<rect x="905" y="610.4" width="30.8" height="30.4" fill="#b81af0"/>
<text x="955" y="641.6" font-size="24px" letter-spacing="0.5">HAART-T</text>
<text x="904.5" y="695.2" font-size="27.6px">matrix_13</text>
</g>
<defs><linearGradient id="hg" x1="0" y1="0" x2="0" y2="1"><stop offset="0" stop-color="#ff0000"/><stop offset="0.035" stop-color="#ff0000"/><stop offset="0.965" stop-color="#ffffff"/><stop offset="1" stop-color="#ffffff"/></linearGradient>
<linearGradient id="cg" x1="0" y1="0" x2="0" y2="1"><stop offset="0" stop-color="#ff0000"/><stop offset="0.2" stop-color="#ff4a2c"/><stop offset="0.45" stop-color="#ff8468"/><stop offset="0.7" stop-color="#ffbba9"/><stop offset="0.9" stop-color="#ffe9e2"/><stop offset="1" stop-color="#fffaf8"/></linearGradient></defs>
<rect x="903.2" y="710" width="34.3" height="171" fill="url(#hg)"/>
<path d="M903.2 716h7M930.5 716h7" stroke="#fff" stroke-width="1.3"/>
<path d="M903.2 795.5h7M930.5 795.5h7" stroke="#fff" stroke-width="1.3"/>
<path d="M903.2 875h7M930.5 875h7" stroke="#fff" stroke-width="1.3"/>
<g font-size="27px" fill="#000"><text x="944.5" y="727">1</text><text x="944.5" y="806">0.5</text><text x="944.5" y="884.5">0</text></g>
<g font-weight="bold" fill="#000">
<text x="1172.7" y="498.0" font-size="27.5px">IL17</text>
<rect x="1173.2" y="514.2" width="30.3" height="30.3" fill="#bebebe"/>
<rect x="1173.2" y="546.2" width="30.3" height="30.3" fill="#000"/>
<text x="1213.4" y="540.2" font-size="26.5px">-</text>
<text x="1212.8" y="572.3" font-size="26.5px">+</text>
<text x="1172.7" y="630.8" font-size="27.5px">Foxp3</text>
<rect x="1173.2" y="647.0" width="30.3" height="30.3" fill="#bebebe"/>
<rect x="1173.2" y="679.0" width="30.3" height="30.3" fill="#000"/>
<text x="1213.4" y="673.0" font-size="26.5px">-</text>
<text x="1212.8" y="705.0" font-size="26.5px">+</text>
<text x="1172.7" y="763.5" font-size="27.5px">CCR7</text>
<rect x="1173.2" y="779.7" width="30.3" height="30.3" fill="#bebebe"/>
<rect x="1173.2" y="811.7" width="30.3" height="30.3" fill="#000"/>
<text x="1213.4" y="805.7" font-size="26.5px">-</text>
<text x="1212.8" y="837.8" font-size="26.5px">+</text>
<text x="1172.7" y="896.2" font-size="27.5px">HLA.DR</text>
<rect x="1173.2" y="912.5" width="30.3" height="30.3" fill="#bebebe"/>
<rect x="1173.2" y="944.5" width="30.3" height="30.3" fill="#000"/>
<text x="1213.4" y="938.5" font-size="26.5px">-</text>
<text x="1212.8" y="970.5" font-size="26.5px">+</text>
<text x="1172.7" y="1029.0" font-size="27.5px">CD127</text>
<rect x="1173.2" y="1045.2" width="30.3" height="30.3" fill="#bebebe"/>
<rect x="1173.2" y="1077.2" width="30.3" height="30.3" fill="#000"/>
<text x="1213.4" y="1071.2" font-size="26.5px">-</text>
<text x="1212.8" y="1103.3" font-size="26.5px">+</text>
<text x="1172.7" y="1161.8" font-size="27.5px">CD45RA</text>
<rect x="1173.2" y="1178.0" width="30.3" height="30.3" fill="#bebebe"/>
<rect x="1173.2" y="1210.0" width="30.3" height="30.3" fill="#000"/>
<text x="1213.4" y="1204.0" font-size="26.5px">-</text>
<text x="1212.8" y="1236.0" font-size="26.5px">+</text>
<text x="1317.7" y="498.0" font-size="27.5px">CD38</text>
<rect x="1318.2" y="514.2" width="30.3" height="30.3" fill="#bebebe"/>
<rect x="1318.2" y="546.2" width="30.3" height="30.3" fill="#000"/>
<text x="1358.4" y="540.2" font-size="26.5px">-</text>
<text x="1357.8" y="572.3" font-size="26.5px">+</text>
<text x="1317.7" y="630.8" font-size="27.5px">CD27</text>
<rect x="1318.2" y="647.0" width="30.3" height="30.3" fill="#bebebe"/>
<rect x="1318.2" y="679.0" width="30.3" height="30.3" fill="#000"/>
<text x="1358.4" y="673.0" font-size="26.5px">-</text>
<text x="1357.8" y="705.0" font-size="26.5px">+</text>
<text x="1317.7" y="763.5" font-size="27.5px">CD25hi</text>
<rect x="1318.2" y="779.7" width="30.3" height="30.3" fill="#bebebe"/>
<rect x="1318.2" y="811.7" width="30.3" height="30.3" fill="#000"/>
<text x="1358.4" y="805.7" font-size="26.5px">-</text>
<text x="1357.8" y="837.8" font-size="26.5px">+</text>
<text x="1317.7" y="896.2" font-size="27.5px">CD25</text>
<rect x="1318.2" y="912.5" width="30.3" height="30.3" fill="#bebebe"/>
<rect x="1318.2" y="944.5" width="30.3" height="30.3" fill="#000"/>
<text x="1358.4" y="938.5" font-size="26.5px">-</text>
<text x="1357.8" y="970.5" font-size="26.5px">+</text>
<text x="1317.7" y="1029.0" font-size="27.5px">CD8</text>
<rect x="1318.2" y="1045.2" width="30.3" height="30.3" fill="#bebebe"/>
<rect x="1318.2" y="1077.2" width="30.3" height="30.3" fill="#000"/>
<text x="1358.4" y="1071.2" font-size="26.5px">-</text>
<text x="1357.8" y="1103.3" font-size="26.5px">+</text>
<text x="1317.7" y="1161.8" font-size="27.5px">CD4</text>
<rect x="1318.2" y="1178.0" width="30.3" height="30.3" fill="#bebebe"/>
<rect x="1318.2" y="1210.0" width="30.3" height="30.3" fill="#000"/>
<text x="1358.4" y="1204.0" font-size="26.5px">-</text>
<text x="1357.8" y="1236.0" font-size="26.5px">+</text>
</g>
<g id="corr">
<rect x="1646.6" y="134.3" width="48.7" height="48.8" fill="#bf0020"/>
<rect x="1654.4" y="190.9" width="33.1" height="33.2" fill="#fdae5c"/>
<rect x="1701.8" y="189.7" width="35.5" height="35.6" fill="#fc6b3c"/>
<rect x="1651.2" y="236.5" width="39.4" height="39.5" fill="#fc6b3c"/>
<rect x="1698.9" y="235.5" width="41.4" height="41.5" fill="#f82c22"/>
<rect x="1746.0" y="233.9" width="44.5" height="44.6" fill="#f82c22"/>
<rect x="1661.4" y="295.5" width="19.0" height="19.0" fill="#fee08b"/>
<rect x="1708.9" y="294.3" width="21.4" height="21.5" fill="#fee08b"/>
<rect x="1752.9" y="289.6" width="30.7" height="30.7" fill="#fdae5c"/>
<rect x="1796.7" y="284.8" width="40.4" height="40.5" fill="#f82c22"/>
<rect x="1659.5" y="342.3" width="22.9" height="22.9" fill="#fee08b"/>
<rect x="1715.5" y="349.6" width="8.3" height="8.3" fill="#ffffbf"/>
<rect x="1757.6" y="343.0" width="21.4" height="21.5" fill="#daf2f8"/>
<rect x="1812.1" y="348.9" width="9.7" height="9.8" fill="#ffffbf"/>
<rect x="1851.0" y="339.1" width="29.2" height="29.3" fill="#fdae5c"/>
<rect x="1663.4" y="395.0" width="15.1" height="15.1" fill="#ffffbf"/>
<rect x="1711.8" y="394.7" width="15.6" height="15.6" fill="#ffffbf"/>
<rect x="1759.3" y="393.5" width="18.0" height="18.0" fill="#fee08b"/>
<rect x="1799.4" y="385.0" width="35.0" height="35.1" fill="#fc6b3c"/>
<rect x="1841.3" y="378.2" width="48.7" height="48.8" fill="#bf0020"/>
<rect x="1899.4" y="387.7" width="29.7" height="29.7" fill="#fdae5c"/>
<rect x="1657.1" y="437.4" width="27.7" height="27.8" fill="#97d9e8"/>
<rect x="1705.5" y="437.2" width="28.2" height="28.3" fill="#97d9e8"/>
<rect x="1763.2" y="446.2" width="10.2" height="10.2" fill="#ffffbf"/>
<rect x="1804.3" y="438.6" width="25.3" height="25.4" fill="#fee08b"/>
<rect x="1844.4" y="430.1" width="42.3" height="42.4" fill="#f82c22"/>
<rect x="1900.2" y="437.2" width="28.2" height="28.3" fill="#fdae5c"/>
<rect x="1938.6" y="426.9" width="48.7" height="48.8" fill="#bf0020"/>
<rect x="1653.9" y="483.0" width="34.1" height="34.1" fill="#97d9e8"/>
<rect x="1703.5" y="484.0" width="32.1" height="32.2" fill="#97d9e8"/>
<rect x="1755.9" y="487.6" width="24.8" height="24.9" fill="#daf2f8"/>
<rect x="1806.0" y="489.1" width="21.9" height="21.9" fill="#daf2f8"/>
<rect x="1856.9" y="491.3" width="17.5" height="17.6" fill="#daf2f8"/>
<rect x="1899.4" y="485.2" width="29.7" height="29.7" fill="#97d9e8"/>
<rect x="1950.5" y="487.6" width="24.8" height="24.9" fill="#fee08b"/>
<rect x="1995.8" y="484.2" width="31.6" height="31.7" fill="#fdae5c"/>
<rect x="1649.5" y="527.4" width="42.8" height="42.9" fill="#1c75bc"/>
<rect x="1697.9" y="527.1" width="43.3" height="43.4" fill="#1c75bc"/>
<rect x="1756.1" y="536.7" width="24.3" height="24.4" fill="#daf2f8"/>
<rect x="1801.4" y="533.2" width="31.1" height="31.2" fill="#97d9e8"/>
<rect x="1854.9" y="538.1" width="21.4" height="21.5" fill="#daf2f8"/>
<rect x="1901.9" y="536.4" width="24.8" height="24.9" fill="#daf2f8"/>
<rect x="1960.8" y="546.7" width="4.4" height="4.4" fill="#ffffbf"/>
<rect x="2009.2" y="546.4" width="4.9" height="4.9" fill="#ffffbf"/>
<rect x="2047.6" y="536.2" width="25.3" height="25.4" fill="#fee08b"/>
<rect x="1663.4" y="590.1" width="15.1" height="15.1" fill="#ffffbf"/>
<rect x="1707.0" y="584.9" width="25.3" height="25.4" fill="#daf2f8"/>
<rect x="1758.8" y="588.1" width="19.0" height="19.0" fill="#daf2f8"/>
<rect x="1804.5" y="585.2" width="24.8" height="24.9" fill="#daf2f8"/>
<rect x="1859.5" y="591.5" width="12.2" height="12.2" fill="#ffffbf"/>
<rect x="1896.8" y="580.1" width="35.0" height="35.1" fill="#fc6b3c"/>
<rect x="1957.8" y="592.5" width="10.2" height="10.2" fill="#ffffbf"/>
<rect x="2004.1" y="590.1" width="15.1" height="15.1" fill="#ffffbf"/>
<rect x="2041.3" y="578.6" width="38.0" height="38.0" fill="#4faed5"/>
<rect x="2097.3" y="585.9" width="23.4" height="23.4" fill="#fee08b"/>
<rect x="1659.0" y="634.4" width="23.8" height="23.9" fill="#daf2f8"/>
<rect x="1705.2" y="632.0" width="28.7" height="28.8" fill="#97d9e8"/>
<rect x="1746.4" y="624.4" width="43.8" height="43.9" fill="#1c75bc"/>
<rect x="1796.0" y="625.4" width="41.9" height="41.9" fill="#1c75bc"/>
<rect x="1845.2" y="625.9" width="40.9" height="41.0" fill="#1c75bc"/>
<rect x="1907.2" y="639.3" width="14.1" height="14.1" fill="#ffffbf"/>
<rect x="1944.5" y="627.9" width="37.0" height="37.1" fill="#4faed5"/>
<rect x="1995.1" y="629.8" width="33.1" height="33.2" fill="#97d9e8"/>
<rect x="2055.2" y="641.3" width="10.2" height="10.2" fill="#ffffbf"/>
<rect x="2097.0" y="634.4" width="23.8" height="23.9" fill="#fee08b"/>
<rect x="2145.5" y="634.2" width="24.3" height="24.4" fill="#fee08b"/>
<rect x="1661.9" y="686.1" width="18.0" height="18.0" fill="#daf2f8"/>
<rect x="1708.4" y="683.9" width="22.4" height="22.4" fill="#daf2f8"/>
<rect x="1748.6" y="675.4" width="39.4" height="39.5" fill="#4faed5"/>
<rect x="1796.0" y="674.2" width="41.9" height="41.9" fill="#1c75bc"/>
<rect x="1845.4" y="674.9" width="40.4" height="40.5" fill="#1c75bc"/>
<rect x="1909.9" y="690.8" width="8.8" height="8.8" fill="#ffffbf"/>
<rect x="1943.7" y="675.9" width="38.4" height="38.5" fill="#4faed5"/>
<rect x="1997.3" y="680.8" width="28.7" height="28.8" fill="#97d9e8"/>
<rect x="2052.8" y="687.6" width="15.1" height="15.1" fill="#ffffbf"/>
<rect x="2104.3" y="690.5" width="9.2" height="9.3" fill="#ffffbf"/>
<rect x="2147.2" y="684.7" width="20.9" height="21.0" fill="#fee08b"/>
<rect x="2185.9" y="674.7" width="40.9" height="41.0" fill="#f82c22"/>
<rect x="1661.4" y="734.4" width="19.0" height="19.0" fill="#daf2f8"/>
<rect x="1714.3" y="738.6" width="10.7" height="10.7" fill="#ffffbf"/>
<rect x="1757.8" y="733.4" width="20.9" height="21.0" fill="#daf2f8"/>
<rect x="1804.5" y="731.5" width="24.8" height="24.9" fill="#daf2f8"/>
<rect x="1853.4" y="731.7" width="24.3" height="24.4" fill="#daf2f8"/>
<rect x="1896.8" y="726.4" width="35.0" height="35.1" fill="#4faed5"/>
<rect x="1949.8" y="730.8" width="26.3" height="26.3" fill="#daf2f8"/>
<rect x="1998.0" y="730.3" width="27.3" height="27.3" fill="#97d9e8"/>
<rect x="2055.7" y="739.3" width="9.2" height="9.3" fill="#ffffbf"/>
<rect x="2100.0" y="734.9" width="18.0" height="18.0" fill="#fee08b"/>
<rect x="2142.5" y="728.8" width="30.2" height="30.2" fill="#97d9e8"/>
<rect x="2200.2" y="737.8" width="12.2" height="12.2" fill="#ffffbf"/>
<rect x="2247.7" y="736.6" width="14.6" height="14.6" fill="#ffffbf"/>
<rect x="1656.6" y="778.3" width="28.7" height="28.8" fill="#fdae5c"/>
<rect x="1705.2" y="778.3" width="28.7" height="28.8" fill="#fdae5c"/>
<rect x="1763.4" y="787.8" width="9.7" height="9.8" fill="#ffffbf"/>
<rect x="1802.8" y="778.6" width="28.2" height="28.3" fill="#97d9e8"/>
<rect x="1843.7" y="770.7" width="43.8" height="43.9" fill="#1c75bc"/>
<rect x="1902.8" y="781.2" width="22.9" height="22.9" fill="#daf2f8"/>
<rect x="1938.6" y="768.3" width="48.7" height="48.8" fill="#2e3192"/>
<rect x="1987.3" y="768.3" width="48.7" height="48.8" fill="#2e3192"/>
<rect x="2044.7" y="777.1" width="31.1" height="31.2" fill="#97d9e8"/>
<rect x="2100.4" y="784.2" width="17.0" height="17.1" fill="#daf2f8"/>
<rect x="2151.1" y="786.1" width="13.1" height="13.2" fill="#ffffbf"/>
<rect x="2188.8" y="775.1" width="35.0" height="35.1" fill="#fc6b3c"/>
<rect x="2238.7" y="776.4" width="32.6" height="32.7" fill="#fdae5c"/>
<rect x="2290.0" y="779.0" width="27.3" height="27.3" fill="#fdae5c"/>
<path d="M1646.6 134.3h48.7M1646.6 183.1h97.3M1646.6 231.8h146.0M1646.6 280.6h194.7M1646.6 329.4h243.4M1646.6 378.2h292.0M1646.6 426.9h340.7M1646.6 475.7h389.4M1646.6 524.5h438.0M1646.6 573.2h486.7M1646.6 622.0h535.4M1646.6 670.8h584.0M1646.6 719.5h632.7M1646.6 768.3h681.4M1646.6 817.1h681.4M1646.6 134.3V817.1M1695.3 134.3V817.1M1743.9 183.1V817.1M1792.6 231.8V817.1M1841.3 280.6V817.1M1889.9 329.4V817.1M1938.6 378.2V817.1M1987.3 426.9V817.1M2036.0 475.7V817.1M2084.6 524.5V817.1M2133.3 573.2V817.1M2182.0 622.0V817.1M2230.6 670.8V817.1M2279.3 719.5V817.1M2328.0 768.3V817.1" stroke="#c4c4c4" stroke-width="1.2" fill="none"/>
<g font-size="22.5px" text-anchor="middle" fill="#000">
<text x="1670.9" y="170.2">***</text>
<text x="1670.9" y="267.7">*</text>
<text x="1719.6" y="267.7">**</text>
<text x="1768.3" y="267.7">***</text>
<text x="1816.9" y="316.5">**</text>
<text x="1865.6" y="414.0">***</text>
<text x="1865.6" y="462.8">**</text>
<text x="1963.0" y="462.8">***</text>
<text x="1670.9" y="560.3">**</text>
<text x="1719.6" y="560.3">**</text>
<text x="2060.3" y="609.1">*</text>
<text x="1768.3" y="657.9">***</text>
<text x="1816.9" y="657.9">**</text>
<text x="1865.6" y="657.9">**</text>
<text x="1963.0" y="657.9">*</text>
<text x="1768.3" y="706.7">*</text>
<text x="1816.9" y="706.7">**</text>
<text x="1865.6" y="706.7">**</text>
<text x="1963.0" y="706.7">*</text>
<text x="2206.3" y="706.7">**</text>
<text x="1865.6" y="804.2">***</text>
<text x="1963.0" y="804.2">***</text>
<text x="2011.6" y="804.2">***</text>
</g>
<g font-size="21.2px" fill="#000">
<text x="1633.5" y="166.1" text-anchor="end">CD4 Te</text>
<text x="1633.5" y="214.9" text-anchor="end">CD8+CD38+HLA-DR+</text>
<text x="1633.5" y="263.6" text-anchor="end">CD4+CD38+HLA-DR+</text>
<text x="1633.5" y="312.4" text-anchor="end">Th17</text>
<text x="1633.5" y="361.2" text-anchor="end">CD4 Tcm</text>
<text x="1633.5" y="409.9" text-anchor="end">CD8 Tem</text>
<text x="1633.5" y="458.7" text-anchor="end">CD8 Tcm</text>
<text x="1633.5" y="507.5" text-anchor="end">ln VL change</text>
<text x="1633.5" y="556.2" text-anchor="end">CD4 Treg</text>
<text x="1633.5" y="605.0" text-anchor="end">CD8 change</text>
<text x="1633.5" y="653.8" text-anchor="end">CD4 change</text>
<text x="1633.5" y="702.6" text-anchor="end">CD8 Treg</text>
<text x="1633.5" y="751.3" text-anchor="end">virus reservoir</text>
<text x="1633.5" y="800.1" text-anchor="end">CD8 Te</text>
<text transform="translate(1675.7,131.6) rotate(-45)" font-size="21.6px">CD4 Tem</text>
<text transform="translate(1724.4,180.4) rotate(-45)" font-size="21.6px">CD4 Te</text>
<text transform="translate(1773.1,229.1) rotate(-45)" font-size="21.6px">CD8+CD38+HLA-DR+</text>
<text transform="translate(1821.7,277.9) rotate(-45)" font-size="21.6px">CD4+CD38+HLA-DR+</text>
<text transform="translate(1870.4,326.7) rotate(-45)" font-size="21.6px">Th17</text>
<text transform="translate(1919.1,375.5) rotate(-45)" font-size="21.6px">CD4 Tcm</text>
<text transform="translate(1967.8,424.2) rotate(-45)" font-size="21.6px">CD8 Tem</text>
<text transform="translate(2016.4,473.0) rotate(-45)" font-size="21.6px">CD8 Tcm</text>
<text transform="translate(2065.1,521.8) rotate(-45)" font-size="21.6px">ln VL change</text>
<text transform="translate(2113.8,570.5) rotate(-45)" font-size="21.6px">CD4 Treg</text>
<text transform="translate(2162.4,619.3) rotate(-45)" font-size="21.6px">CD8 change</text>
<text transform="translate(2211.1,668.1) rotate(-45)" font-size="21.6px">CD4 change</text>
<text transform="translate(2259.8,716.8) rotate(-45)" font-size="21.6px">CD8 Treg</text>
<text transform="translate(2308.4,765.6) rotate(-45)" font-size="21.6px">virus reservoir</text>
</g>
<rect x="1646.30" y="829.8" width="62.33" height="24.7" fill="#2e3192"/>
<rect x="1708.33" y="829.8" width="62.33" height="24.7" fill="#1c75bc"/>
<rect x="1770.35" y="829.8" width="62.33" height="24.7" fill="#4faed5"/>
<rect x="1832.38" y="829.8" width="62.33" height="24.7" fill="#97d9e8"/>
<rect x="1894.41" y="829.8" width="62.33" height="24.7" fill="#daf2f8"/>
<rect x="1956.44" y="829.8" width="62.33" height="24.7" fill="#ffffbf"/>
<rect x="2018.46" y="829.8" width="62.33" height="24.7" fill="#fee08b"/>
<rect x="2080.49" y="829.8" width="62.33" height="24.7" fill="#fdae5c"/>
<rect x="2142.52" y="829.8" width="62.33" height="24.7" fill="#fc6b3c"/>
<rect x="2204.55" y="829.8" width="62.33" height="24.7" fill="#f82c22"/>
<rect x="2266.57" y="829.8" width="62.33" height="24.7" fill="#bf0020"/>
<rect x="1646.3" y="829.8" width="682.3" height="24.7" fill="none" stroke="#000" stroke-width="1.4"/>
<path d="M1646.3 854.5v5.8M1680.4 854.5v5.8M1714.5 854.5v5.8M1748.6 854.5v5.8M1782.8 854.5v5.8M1816.9 854.5v5.8M1851.0 854.5v5.8M1885.1 854.5v5.8M1919.2 854.5v5.8M1953.3 854.5v5.8M1987.4 854.5v5.8M2021.6 854.5v5.8M2055.7 854.5v5.8M2089.8 854.5v5.8M2123.9 854.5v5.8M2158.0 854.5v5.8M2192.1 854.5v5.8M2226.3 854.5v5.8M2260.4 854.5v5.8M2294.5 854.5v5.8M2328.6 854.5v5.8" stroke="#000" stroke-width="1.4"/>
<g font-size="19.6px" text-anchor="middle" fill="#000">
<text x="1646.3" y="888">-1</text>
<text x="1680.4" y="888">-0.9</text>
<text x="1714.5" y="888">-0.8</text>
<text x="1748.6" y="888">-0.7</text>
<text x="1782.8" y="888">-0.6</text>
<text x="1816.9" y="888">-0.5</text>
<text x="1851.0" y="888">-0.4</text>
<text x="1885.1" y="888">-0.3</text>
<text x="1919.2" y="888">-0.2</text>
<text x="1953.3" y="888">-0.1</text>
<text x="1987.4" y="888">0</text>
<text x="2021.6" y="888">0.1</text>
<text x="2055.7" y="888">0.2</text>
<text x="2089.8" y="888">0.3</text>
<text x="2123.9" y="888">0.4</text>
<text x="2158.0" y="888">0.5</text>
<text x="2192.1" y="888">0.6</text>
<text x="2226.3" y="888">0.7</text>
<text x="2260.4" y="888">0.8</text>
<text x="2294.5" y="888">0.9</text>
<text x="2328.6" y="888">1</text>
</g></g>
<g id="pca">
<text x="1465.5" y="939" font-size="30.3px">PCA</text>
<polygon points="1502.5,1328.8 1529.6,1307.8 1554.0,1302.4 1605.5,1297.6 1627.2,1305.1 1652.2,1334.2 1650.2,1402.0 1620.4,1438.5 1590.6,1467.0 1578.4,1469.7 1548.6,1435.8 1501.2,1346.4" fill="#00bf9f" fill-opacity="0.1"/>
<polygon points="1696.4,1288.3 1732.8,1161.6 1908.1,1146.6 2129.0,1485.8 1881.0,1445.5 1785.7,1410.4" fill="#fc8d62" fill-opacity="0.1"/>
<polygon points="1697.1,1222.3 1819.2,1101.0 2016.2,1351.7 1933.6,1357.8 1780.6,1341.9 1767.7,1335.3" fill="#8da0cb" fill-opacity="0.1"/>
<polygon points="1677.3,1346.8 1736.4,988.7 1841.2,1046.7 2047.6,1184.7 2131.3,1497.0 2099.7,1603.9 1716.6,1404.8" fill="#ff80bf" fill-opacity="0.1"/>
<circle cx="1566.1" cy="1299.6" r="5.6" fill="#00bf9f" stroke="#000" stroke-width="1.3"/>
<circle cx="1614.6" cy="1296.0" r="5.6" fill="#00bf9f" stroke="#000" stroke-width="1.3"/>
<circle cx="1512.3" cy="1314.1" r="5.6" fill="#00bf9f" stroke="#000" stroke-width="1.3"/>
<circle cx="1653.4" cy="1326.5" r="5.6" fill="#00bf9f" stroke="#000" stroke-width="1.3"/>
<circle cx="1574.3" cy="1332.3" r="5.6" fill="#00bf9f" stroke="#000" stroke-width="1.3"/>
<circle cx="1497.8" cy="1340.5" r="5.6" fill="#00bf9f" stroke="#000" stroke-width="1.3"/>
<circle cx="1554.4" cy="1370.9" r="5.6" fill="#00bf9f" stroke="#000" stroke-width="1.3"/>
<circle cx="1561.9" cy="1373.3" r="5.6" fill="#00bf9f" stroke="#000" stroke-width="1.3"/>
<circle cx="1591.2" cy="1370.2" r="5.6" fill="#00bf9f" stroke="#000" stroke-width="1.3"/>
<circle cx="1572.4" cy="1383.8" r="5.6" fill="#00bf9f" stroke="#000" stroke-width="1.3"/>
<circle cx="1616.4" cy="1403.0" r="5.6" fill="#00bf9f" stroke="#000" stroke-width="1.3"/>
<circle cx="1648.0" cy="1404.8" r="5.6" fill="#00bf9f" stroke="#000" stroke-width="1.3"/>
<circle cx="1596.5" cy="1412.3" r="5.6" fill="#00bf9f" stroke="#000" stroke-width="1.3"/>
<circle cx="1554.4" cy="1417.0" r="5.6" fill="#00bf9f" stroke="#000" stroke-width="1.3"/>
<circle cx="1567.3" cy="1432.4" r="5.6" fill="#00bf9f" stroke="#000" stroke-width="1.3"/>
<circle cx="1552.8" cy="1445.8" r="5.6" fill="#00bf9f" stroke="#000" stroke-width="1.3"/>
<circle cx="1612.9" cy="1449.8" r="5.6" fill="#00bf9f" stroke="#000" stroke-width="1.3"/>
<circle cx="1583.0" cy="1476.2" r="5.6" fill="#00bf9f" stroke="#000" stroke-width="1.3"/>
<circle cx="1732.8" cy="1161.6" r="5.6" fill="#fc8d62" stroke="#000" stroke-width="1.3"/>
<circle cx="1768.2" cy="1158.8" r="5.6" fill="#fc8d62" stroke="#000" stroke-width="1.3"/>
<circle cx="1908.1" cy="1146.6" r="5.6" fill="#fc8d62" stroke="#000" stroke-width="1.3"/>
<circle cx="1780.6" cy="1198.8" r="5.6" fill="#fc8d62" stroke="#000" stroke-width="1.3"/>
<circle cx="1857.8" cy="1193.9" r="5.6" fill="#fc8d62" stroke="#000" stroke-width="1.3"/>
<circle cx="1869.5" cy="1214.9" r="5.6" fill="#fc8d62" stroke="#000" stroke-width="1.3"/>
<circle cx="1773.6" cy="1218.9" r="5.6" fill="#fc8d62" stroke="#000" stroke-width="1.3"/>
<circle cx="1928.5" cy="1261.7" r="5.6" fill="#fc8d62" stroke="#000" stroke-width="1.3"/>
<circle cx="1794.6" cy="1277.6" r="5.6" fill="#fc8d62" stroke="#000" stroke-width="1.3"/>
<circle cx="1819.2" cy="1288.6" r="5.6" fill="#fc8d62" stroke="#000" stroke-width="1.3"/>
<circle cx="1696.4" cy="1288.3" r="5.6" fill="#fc8d62" stroke="#000" stroke-width="1.3"/>
<circle cx="1972.4" cy="1339.6" r="5.6" fill="#fc8d62" stroke="#000" stroke-width="1.3"/>
<circle cx="1785.7" cy="1410.4" r="5.6" fill="#fc8d62" stroke="#000" stroke-width="1.3"/>
<circle cx="1965.4" cy="1413.7" r="5.6" fill="#fc8d62" stroke="#000" stroke-width="1.3"/>
<circle cx="1881.0" cy="1445.5" r="5.6" fill="#fc8d62" stroke="#000" stroke-width="1.3"/>
<circle cx="2129.0" cy="1485.8" r="5.6" fill="#fc8d62" stroke="#000" stroke-width="1.3"/>
<circle cx="1819.2" cy="1101.0" r="5.6" fill="#8da0cb" stroke="#000" stroke-width="1.3"/>
<circle cx="1785.0" cy="1157.6" r="5.6" fill="#8da0cb" stroke="#000" stroke-width="1.3"/>
<circle cx="1803.8" cy="1165.3" r="5.6" fill="#8da0cb" stroke="#000" stroke-width="1.3"/>
<circle cx="1826.2" cy="1180.5" r="5.6" fill="#8da0cb" stroke="#000" stroke-width="1.3"/>
<circle cx="1882.1" cy="1189.4" r="5.6" fill="#8da0cb" stroke="#000" stroke-width="1.3"/>
<circle cx="1866.0" cy="1198.1" r="5.6" fill="#8da0cb" stroke="#000" stroke-width="1.3"/>
<circle cx="1773.3" cy="1198.8" r="5.6" fill="#8da0cb" stroke="#000" stroke-width="1.3"/>
<circle cx="1803.8" cy="1202.5" r="5.6" fill="#8da0cb" stroke="#000" stroke-width="1.3"/>
<circle cx="1841.9" cy="1212.1" r="5.6" fill="#8da0cb" stroke="#000" stroke-width="1.3"/>
<circle cx="1767.0" cy="1245.3" r="5.6" fill="#8da0cb" stroke="#000" stroke-width="1.3"/>
<circle cx="1815.5" cy="1262.9" r="5.6" fill="#8da0cb" stroke="#000" stroke-width="1.3"/>
<circle cx="1863.6" cy="1264.0" r="5.6" fill="#8da0cb" stroke="#000" stroke-width="1.3"/>
<circle cx="1903.4" cy="1276.9" r="5.6" fill="#8da0cb" stroke="#000" stroke-width="1.3"/>
<circle cx="1928.5" cy="1293.3" r="5.6" fill="#8da0cb" stroke="#000" stroke-width="1.3"/>
<circle cx="1920.0" cy="1310.1" r="5.6" fill="#8da0cb" stroke="#000" stroke-width="1.3"/>
<circle cx="1798.1" cy="1323.2" r="5.6" fill="#8da0cb" stroke="#000" stroke-width="1.3"/>
<circle cx="1767.7" cy="1335.3" r="5.6" fill="#8da0cb" stroke="#000" stroke-width="1.3"/>
<circle cx="1780.6" cy="1341.9" r="5.6" fill="#8da0cb" stroke="#000" stroke-width="1.3"/>
<circle cx="1856.6" cy="1347.0" r="5.6" fill="#8da0cb" stroke="#000" stroke-width="1.3"/>
<circle cx="1933.6" cy="1357.8" r="5.6" fill="#8da0cb" stroke="#000" stroke-width="1.3"/>
<circle cx="2016.2" cy="1351.7" r="5.6" fill="#8da0cb" stroke="#000" stroke-width="1.3"/>
<circle cx="1737.7" cy="1200.9" r="5.6" fill="#8da0cb" stroke="#000" stroke-width="1.3"/>
<circle cx="1697.1" cy="1222.3" r="5.6" fill="#8da0cb" stroke="#000" stroke-width="1.3"/>
<circle cx="1736.4" cy="988.7" r="5.6" fill="#ff80bf" stroke="#000" stroke-width="1.3"/>
<circle cx="1841.2" cy="1046.7" r="5.6" fill="#ff80bf" stroke="#000" stroke-width="1.3"/>
<circle cx="1836.3" cy="1120.2" r="5.6" fill="#ff80bf" stroke="#000" stroke-width="1.3"/>
<circle cx="1960.5" cy="1176.3" r="5.6" fill="#ff80bf" stroke="#000" stroke-width="1.3"/>
<circle cx="2047.6" cy="1184.7" r="5.6" fill="#ff80bf" stroke="#000" stroke-width="1.3"/>
<circle cx="2003.8" cy="1230.8" r="5.6" fill="#ff80bf" stroke="#000" stroke-width="1.3"/>
<circle cx="1957.0" cy="1231.5" r="5.6" fill="#ff80bf" stroke="#000" stroke-width="1.3"/>
<circle cx="1819.2" cy="1212.8" r="5.6" fill="#ff80bf" stroke="#000" stroke-width="1.3"/>
<circle cx="1781.8" cy="1237.1" r="5.6" fill="#ff80bf" stroke="#000" stroke-width="1.3"/>
<circle cx="1881.7" cy="1291.0" r="5.6" fill="#ff80bf" stroke="#000" stroke-width="1.3"/>
<circle cx="1831.8" cy="1306.9" r="5.6" fill="#ff80bf" stroke="#000" stroke-width="1.3"/>
<circle cx="1805.6" cy="1267.2" r="5.6" fill="#ff80bf" stroke="#000" stroke-width="1.3"/>
<circle cx="1876.3" cy="1320.4" r="5.6" fill="#ff80bf" stroke="#000" stroke-width="1.3"/>
<circle cx="1981.6" cy="1327.9" r="5.6" fill="#ff80bf" stroke="#000" stroke-width="1.3"/>
<circle cx="2020.9" cy="1350.8" r="5.6" fill="#ff80bf" stroke="#000" stroke-width="1.3"/>
<circle cx="1850.8" cy="1358.3" r="5.6" fill="#ff80bf" stroke="#000" stroke-width="1.3"/>
<circle cx="1852.4" cy="1375.8" r="5.6" fill="#ff80bf" stroke="#000" stroke-width="1.3"/>
<circle cx="1910.9" cy="1368.3" r="5.6" fill="#ff80bf" stroke="#000" stroke-width="1.3"/>
<circle cx="1998.0" cy="1380.0" r="5.6" fill="#ff80bf" stroke="#000" stroke-width="1.3"/>
<circle cx="1834.9" cy="1422.1" r="5.6" fill="#ff80bf" stroke="#000" stroke-width="1.3"/>
<circle cx="1908.1" cy="1490.5" r="5.6" fill="#ff80bf" stroke="#000" stroke-width="1.3"/>
<circle cx="2131.3" cy="1497.0" r="5.6" fill="#ff80bf" stroke="#000" stroke-width="1.3"/>
<circle cx="2081.7" cy="1561.8" r="5.6" fill="#ff80bf" stroke="#000" stroke-width="1.3"/>
<circle cx="2099.7" cy="1603.9" r="5.6" fill="#ff80bf" stroke="#000" stroke-width="1.3"/>
<circle cx="1677.3" cy="1346.8" r="5.6" fill="#ff80bf" stroke="#000" stroke-width="1.3"/>
<circle cx="1716.6" cy="1404.8" r="5.6" fill="#ff80bf" stroke="#000" stroke-width="1.3"/>
<path d="M1802.9 1302.6L1848.4 1497.5M1839.5 1487.3L1848.4 1497.5L1851.9 1484.5" stroke="#ffcbb8" stroke-width="2.0" fill="none" stroke-linejoin="miter"/>
<path d="M1802.9 1302.6L1829.0 1079.2M1833.9 1091.8L1829.0 1079.2L1821.3 1090.3" stroke="#ffc3ad" stroke-width="2.0" fill="none" stroke-linejoin="miter"/>
<path d="M1802.9 1302.6L1919.1 1136.1M1917.5 1149.5L1919.1 1136.1L1907.1 1142.2" stroke="#ffc8b4" stroke-width="2.0" fill="none" stroke-linejoin="miter"/>
<path d="M1802.9 1302.6L1949.0 1131.4M1946.1 1144.6L1949.0 1131.4L1936.4 1136.4" stroke="#ffb8a0" stroke-width="2.0" fill="none" stroke-linejoin="miter"/>
<path d="M1802.9 1302.6L2016.0 1354.5M2002.9 1357.8L2016.0 1354.5L2005.9 1345.5" stroke="#ffc3ad" stroke-width="2.0" fill="none" stroke-linejoin="miter"/>
<path d="M1802.9 1302.6L2027.9 1360.6M2014.8 1363.8L2027.9 1360.6L2017.9 1351.5" stroke="#ffb097" stroke-width="2.0" fill="none" stroke-linejoin="miter"/>
<path d="M1802.9 1302.6L1994.0 1210.2M1986.0 1221.1L1994.0 1210.2L1980.5 1209.7" stroke="#ffb097" stroke-width="2.0" fill="none" stroke-linejoin="miter"/>
<path d="M1802.9 1302.6L2003.3 1230.8M1994.2 1240.8L2003.3 1230.8L1989.9 1228.9" stroke="#ffb8a0" stroke-width="2.0" fill="none" stroke-linejoin="miter"/>
<path d="M1802.9 1302.6L1614.1 1436.4M1620.2 1424.3L1614.1 1436.4L1627.5 1434.7" stroke="#ffb8a0" stroke-width="2.0" fill="none" stroke-linejoin="miter"/>
<path d="M1802.9 1302.6L1669.5 1512.0M1670.6 1498.5L1669.5 1512.0L1681.2 1505.4" stroke="#ffaa90" stroke-width="2.0" fill="none" stroke-linejoin="miter"/>
<path d="M1802.9 1302.6L1574.3 1302.4M1586.2 1296.1L1574.3 1302.4L1586.2 1308.7" stroke="#ffa58a" stroke-width="2.0" fill="none" stroke-linejoin="miter"/>
<path d="M1802.9 1302.6L2004.5 1200.9M1996.7 1211.9L2004.5 1200.9L1991.0 1200.6" stroke="#ff9878" stroke-width="2.0" fill="none" stroke-linejoin="miter"/>
<path d="M1802.9 1302.6L2032.6 1206.7M2024.0 1217.1L2032.6 1206.7L2019.2 1205.4" stroke="#ff9070" stroke-width="2.0" fill="none" stroke-linejoin="miter"/>
<path d="M1802.9 1302.6L1518.2 1301.9M1530.1 1295.6L1518.2 1301.9L1530.1 1308.3" stroke="#ff7755" stroke-width="2.0" fill="none" stroke-linejoin="miter"/>
<path d="M1802.9 1302.6L2085.9 1402.7M2072.5 1404.7L2085.9 1402.7L2076.8 1392.8" stroke="#ff7755" stroke-width="2.0" fill="none" stroke-linejoin="miter"/>
<path d="M1802.9 1302.6L2068.4 1472.9M2054.9 1471.8L2068.4 1472.9L2061.8 1461.1" stroke="#ff5533" stroke-width="2.0" fill="none" stroke-linejoin="miter"/>
<path d="M1802.9 1302.6L2075.9 1141.7M2068.8 1153.2L2075.9 1141.7L2062.4 1142.3" stroke="#ff4426" stroke-width="2.0" fill="none" stroke-linejoin="miter"/>
<path d="M1802.9 1302.6L2044.3 1529.1M2031.3 1525.6L2044.3 1529.1L2039.9 1516.3" stroke="#ff2d0e" stroke-width="2.0" fill="none" stroke-linejoin="miter"/>
<path d="M1802.9 1302.6L1607.1 1015.8M1619.1 1022.1L1607.1 1015.8L1608.6 1029.2" stroke="#ff0000" stroke-width="2.0" fill="none" stroke-linejoin="miter"/>
<path d="M1984.6 1252.4L2003.3 1231.8" stroke="#ffb8a0" stroke-width="1"/>
<g font-size="25.7px">
<text x="1691.3" y="1271.0" fill="#ffffff">CD8 Treg/Th17</text>
<text x="1619.5" y="1216.4" fill="#ffe4da">CD4+CD38+</text>
<text x="1736.8" y="1376.3" fill="#ffe9e1">CD8 Treg</text>
<text x="1841.7" y="1485.8" fill="#ffc6b2">Th17</text>
<text x="1840.7" y="1165.1" fill="#ffc8b4">CD4 Treg</text>
<text x="1719.7" y="1067.4" fill="#ffb8a0">CD4 Treg/Th17</text>
<text x="1908.5" y="1119.0" fill="#ffb8a0">CD8 count</text>
<text x="1875.1" y="1224.3" fill="#ffb097">CD8 Te</text>
<text x="1884.4" y="1275.0" fill="#ffb097">CD8+CD38+</text>
<text x="1942.9" y="1339.6" fill="#ffaa90">CD8 Tem</text>
<text x="1531.7" y="1465.7" fill="#ffaa90">CD8 Tcm</text>
<text x="1654.3" y="1500.1" fill="#ffaa90">CD4 Tcm</text>
<text x="1535.7" y="1333.0" fill="#ffa58a">CD4 count</text>
<text x="1967.7" y="1188.7" fill="#ff9d80">CD8+38+HLA+</text>
<text x="1976.4" y="1239.0" fill="#ff9878">CD8+HLA-DR+</text>
<text x="1960.5" y="1389.4" fill="#ff9878">CD4+38+HLA+</text>
<text x="1494.7" y="1290.2" fill="#ff6b45">CD8 Tn</text>
<text x="1975.2" y="1432.7" fill="#ff5c38">CD4+HLA-DR+</text>
<text x="2066.5" y="1131.9" fill="#ff4426">ln VL</text>
<text x="2003.3" y="1502.2" fill="#ff4422">CD4 Te</text>
<text x="1969.4" y="1557.6" fill="#ff2a0a">CD4 Tem</text>
<text x="1583.9" y="1005.0" fill="#ff0000">CD4 Tn</text>
</g>
<path d="M1465.6000000000001 1302.6H2162.7" stroke="#000" stroke-width="2.8" stroke-dasharray="9.87 9.55" fill="none"/>
<path d="M1802.9 1633.9V958.5" stroke="#000" stroke-width="2.8" stroke-dasharray="10 9.8" fill="none"/>
<rect x="1466.7" y="958.5" width="696.0" height="675.4" fill="none" stroke="#444" stroke-width="1.2"/>
<path d="M1461.2 992.6h5.5M1461.2 1147.6h5.5M1461.2 1302.6h5.5M1461.2 1457.6h5.5M1461.2 1612.6h5.5M1622.6 1633.9v5.5M1802.9 1633.9v5.5M1983.2 1633.9v5.5" stroke="#333" stroke-width="2.2"/>
<g font-size="19px" fill="#4d4d4d">
<text x="1453.6" y="999.4" text-anchor="end">5.0</text>
<text x="1453.6" y="1154.4" text-anchor="end">2.5</text>
<text x="1453.6" y="1309.4" text-anchor="end">0.0</text>
<text x="1453.6" y="1464.4" text-anchor="end">-2.5</text>
<text x="1453.6" y="1619.4" text-anchor="end">-5.0</text>
<text x="1622.6" y="1660" text-anchor="middle">-3</text>
<text x="1802.9" y="1660" text-anchor="middle">0</text>
<text x="1983.2" y="1660" text-anchor="middle">3</text>
</g>
<text x="1814.5" y="1687.8" text-anchor="middle" font-size="25px">Dim1 (28.6%)</text>
<text transform="translate(1410.5,1295.8) rotate(-90)" text-anchor="middle" font-size="25px">Dim2 (14.9%)</text>
<text x="2200.3" y="971.2" font-size="24.9px">Group</text>
<rect x="2202" y="989.0" width="36" height="36.7" fill="#00bf9f" fill-opacity="0.1"/>
<circle cx="2220" cy="1007.3" r="5.6" fill="#00bf9f" stroke="#000" stroke-width="1.3"/>
<text x="2249.3" y="1015.8" font-size="24.4px" font-weight="bold" letter-spacing="0.3">HC</text>
<rect x="2202" y="1029.1" width="36" height="36.7" fill="#fc8d62" fill-opacity="0.1"/>
<circle cx="2220" cy="1047.4" r="5.6" fill="#fc8d62" stroke="#000" stroke-width="1.3"/>
<text x="2249.3" y="1055.9" font-size="24.4px" font-weight="bold" letter-spacing="0.3">CI</text>
<rect x="2202" y="1069.2" width="36" height="36.7" fill="#8da0cb" fill-opacity="0.1"/>
<circle cx="2220" cy="1087.5" r="5.6" fill="#8da0cb" stroke="#000" stroke-width="1.3"/>
<text x="2249.3" y="1096.0" font-size="24.4px" font-weight="bold" letter-spacing="0.3">NI</text>
<rect x="2202" y="1109.3" width="36" height="36.7" fill="#ff80bf" fill-opacity="0.1"/>
<circle cx="2220" cy="1127.6" r="5.6" fill="#ff80bf" stroke="#000" stroke-width="1.3"/>
<text x="2249.3" y="1136.1" font-size="24.4px" font-weight="bold" letter-spacing="0.3">HAART-T</text>
<text x="2200.3" y="1218.8" font-size="24.9px">Contrib</text>
<path d="M2204.5 1254.5L2236.5 1254.5M2225.5 1260.4L2236.5 1254.5L2225.5 1248.6" stroke="#9c9c9c" stroke-width="1.9" fill="none" stroke-linejoin="miter"/>
<text x="2251.8" y="1261.7" font-size="20.4px">2.5</text>
<path d="M2204.5 1294.8L2236.5 1294.8M2225.5 1300.7L2236.5 1294.8L2225.5 1288.9" stroke="#555" stroke-width="1.9" fill="none" stroke-linejoin="miter"/>
<text x="2251.8" y="1302.0" font-size="20.4px">5.0</text>
<path d="M2204.5 1335.1L2236.5 1335.1M2225.5 1341.0L2236.5 1335.1L2225.5 1329.2" stroke="#111" stroke-width="1.9" fill="none" stroke-linejoin="miter"/>
<text x="2251.8" y="1342.3" font-size="20.4px">7.5</text>
<text x="2200.3" y="1426" font-size="24.9px">Contrib</text>
<rect x="2200.7" y="1441.2" width="39.4" height="199" fill="url(#cg)"/>
<path d="M2200.7 1479.4h8M2232.1 1479.4h8" stroke="#fff" stroke-width="1.2" opacity="0.85"/>
<text x="2251.8" y="1486.6" font-size="20.4px">7.5</text>
<path d="M2200.7 1534.6h8M2232.1 1534.6h8" stroke="#fff" stroke-width="1.2" opacity="0.85"/>
<text x="2251.8" y="1541.8" font-size="20.4px">5.0</text>
<path d="M2200.7 1589.5h8M2232.1 1589.5h8" stroke="#fff" stroke-width="1.2" opacity="0.85"/>
<text x="2251.8" y="1596.7" font-size="20.4px">2.5</text>
</g>
</svg>
</body></html>
